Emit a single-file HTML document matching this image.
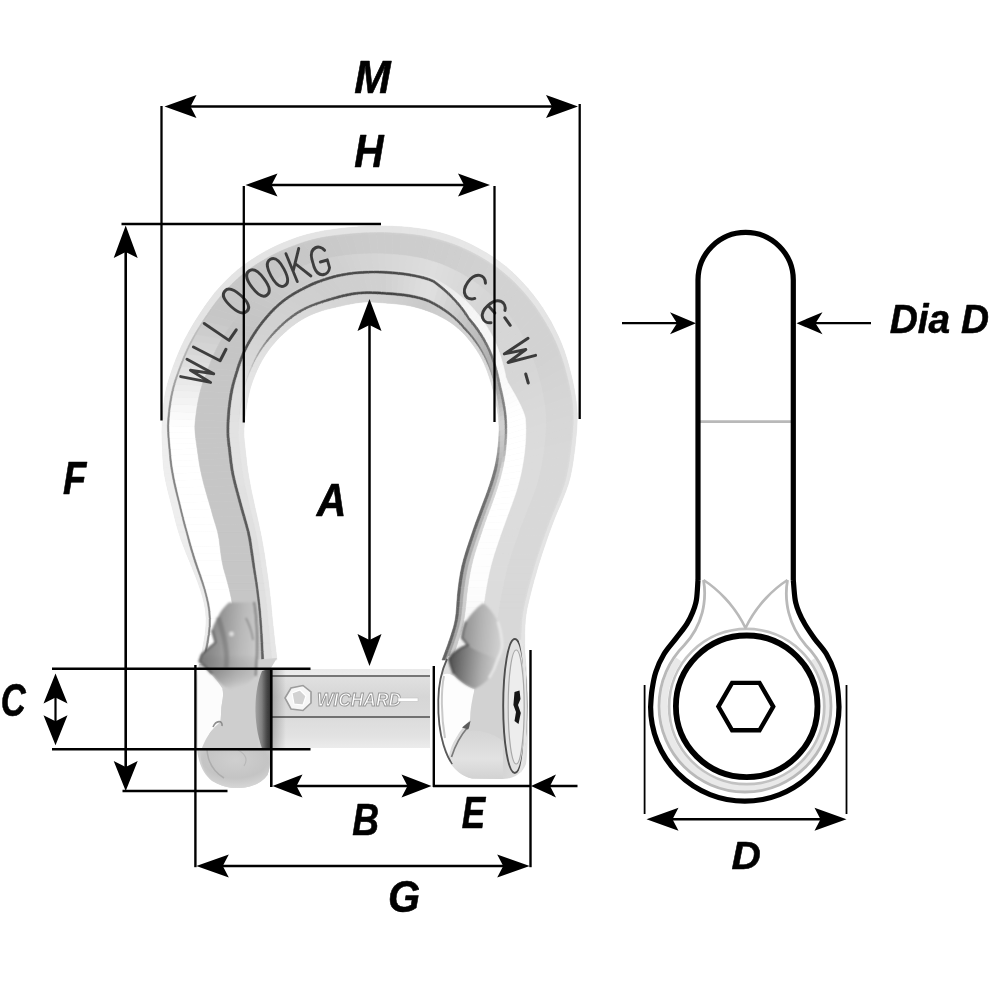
<!DOCTYPE html>
<html><head><meta charset="utf-8"><title>Bow shackle dimensions</title>
<style>
html,body{margin:0;padding:0;background:#fff;}
svg{display:block}
text{font-family:"Liberation Sans",sans-serif;}
</style></head>
<body>
<svg width="1000" height="1000" viewBox="0 0 1000 1000">
<rect width="1000" height="1000" fill="#fff"/>
<defs><filter id="b1" x="-5%" y="-5%" width="110%" height="110%"><feGaussianBlur stdDeviation="0.6"/></filter><filter id="b2" x="-20%" y="-20%" width="140%" height="140%"><feGaussianBlur stdDeviation="2"/></filter><filter id="b3" x="-20%" y="-20%" width="140%" height="140%"><feGaussianBlur stdDeviation="1.1"/></filter></defs>
<g id="pin"><defs><linearGradient id="pinA" x1="0" y1="0" x2="0" y2="1"><stop offset="0" stop-color="#e9e9e9"/><stop offset="0.07" stop-color="#ececec"/><stop offset="0.075" stop-color="#777"/><stop offset="0.097" stop-color="#777"/><stop offset="0.10" stop-color="#e0e0e0"/><stop offset="0.35" stop-color="#d6d6d6"/><stop offset="0.59" stop-color="#dadada"/><stop offset="0.595" stop-color="#707070"/><stop offset="0.622" stop-color="#707070"/><stop offset="0.625" stop-color="#dcdcdc"/><stop offset="0.85" stop-color="#e2e2e2"/><stop offset="1" stop-color="#ececec"/></linearGradient><linearGradient id="pinSh" x1="0" y1="0" x2="1" y2="0"><stop offset="0" stop-color="#000" stop-opacity=".22"/><stop offset="1" stop-color="#000" stop-opacity="0"/></linearGradient></defs>
<rect x="272" y="669" width="158" height="79" fill="url(#pinA)"/>
<rect x="272" y="669" width="14" height="79" fill="url(#pinSh)"/>
<g filter="url(#b1)">
<polygon points="285,698 291,688 303,685.5 311,692 311,703 303,710.5 291,709" fill="#f6f6f6" stroke="#9c9c9c" stroke-width="1.6"/>
<path d="M292,693 L300,690 L306,696 L303,705 L294,704 Z" fill="#d2d2d2" stroke="#fff" stroke-width="1.2"/>
<text x="317" y="705.5" font-size="17.5" font-weight="bold" font-style="italic" fill="#fff" stroke="#9a9a9a" stroke-width="1" textLength="84" lengthAdjust="spacingAndGlyphs">WICHARD</text>
<rect x="398" y="698" width="20" height="3.4" fill="#fff" stroke="#c4c4c4" stroke-width=".6"/>
</g></g>
<g id="bow" filter="url(#b1)"><polygon points="200.0,660.0 202.0,651.2 203.7,642.6 205.1,634.2 205.9,626.1 206.1,618.4 205.5,611.1 204.3,604.0 202.6,597.0 200.4,589.8 197.9,582.6 195.1,575.3 192.2,568.0 189.3,560.7 186.3,553.5 183.5,546.2 180.8,539.0 178.5,531.8 176.4,524.6 174.6,517.4 172.8,510.1 170.9,502.7 169.0,495.3 167.2,487.9 165.6,480.7 164.3,473.9 163.5,467.5 163.0,461.4 162.7,455.5 162.5,449.8 162.3,444.2 162.0,438.4 161.9,432.3 162.0,425.8 162.3,418.7 162.8,411.3 163.7,403.9 164.7,396.7 166.0,390.1 167.5,384.0 169.2,378.2 171.2,372.3 173.3,366.2 175.7,359.9 178.4,353.3 181.3,346.6 184.6,339.8 188.2,333.0 192.0,326.3 196.1,319.5 200.5,312.8 205.0,306.1 209.7,299.5 214.7,293.0 220.1,286.8 225.7,280.9 231.6,275.2 237.9,269.8 244.4,264.7 251.2,260.0 258.2,255.5 265.6,251.3 273.3,247.3 281.4,243.6 289.8,240.2 298.4,237.1 307.1,234.5 315.8,232.4 324.6,230.7 333.3,229.4 341.9,228.3 350.4,227.5 358.9,226.8 367.3,226.3 375.7,226.0 384.3,226.0 392.9,226.3 401.5,226.7 409.8,227.4 417.9,228.4 425.5,229.5 432.8,230.9 439.7,232.5 446.5,234.5 453.0,236.7 459.5,239.2 465.9,242.1 472.6,245.3 479.4,248.9 486.2,252.8 493.0,257.1 499.6,261.7 505.9,266.6 511.9,271.8 517.6,277.2 523.0,282.9 528.2,288.7 533.1,294.8 537.9,301.1 542.5,307.7 546.9,314.7 551.1,321.8 554.9,329.2 558.5,336.5 561.6,343.8 564.3,351.0 566.7,358.2 568.8,365.5 570.7,372.9 572.5,380.4 574.0,387.8 575.2,395.0 576.2,401.6 576.8,407.7 577.2,413.6 577.2,419.5 577.0,425.7 576.5,432.5 575.8,439.8 575.0,447.3 574.0,454.8 573.0,462.2 571.8,469.5 570.3,476.7 568.4,483.8 565.9,490.9 563.1,498.1 560.1,505.4 556.9,512.7 553.9,520.2 551.1,527.8 548.4,535.1 546.0,542.1 543.8,548.5 541.8,554.4 540.0,560.2 538.1,566.2 536.2,572.9 534.1,580.2 532.1,587.7 530.2,595.1 528.6,601.8 527.2,607.8 526.2,613.5 525.4,619.4 525.0,626.0 524.7,633.5 524.7,641.9 524.8,650.8 525.0,660.0 442.0,660.0 445.5,650.8 448.7,641.9 451.5,633.5 453.8,626.0 455.2,619.4 456.0,613.5 456.5,607.8 456.9,601.8 457.4,595.1 458.2,587.8 459.2,580.2 460.4,572.9 461.8,566.1 463.4,559.9 465.1,554.1 466.9,548.3 468.9,542.3 471.0,536.0 473.2,529.6 475.4,523.3 477.7,517.2 479.9,511.3 482.0,505.6 484.2,499.8 486.4,494.0 488.5,488.0 490.5,481.9 492.4,475.8 494.0,469.8 495.4,464.1 496.4,458.6 497.3,453.1 497.9,447.6 498.5,442.1 498.8,436.6 499.0,431.2 499.0,426.2 498.8,421.6 498.5,417.4 497.9,413.4 497.3,409.5 496.5,405.6 495.7,401.5 494.8,397.2 493.7,392.6 492.4,387.6 490.9,382.3 489.2,376.9 487.3,371.5 485.3,366.3 483.2,361.5 480.8,356.9 478.2,352.5 475.4,348.2 472.3,343.9 469.0,339.7 465.5,335.6 461.8,331.8 458.0,328.3 454.0,325.0 449.8,322.0 445.4,319.2 440.7,316.7 435.9,314.3 431.0,312.2 426.1,310.4 421.2,308.8 416.4,307.4 411.6,306.2 406.8,305.3 401.8,304.6 396.9,304.0 392.0,303.5 387.3,303.2 382.8,302.8 378.7,302.5 374.8,302.2 371.2,302.1 367.8,302.0 364.5,302.1 361.4,302.3 358.4,302.7 355.3,303.1 352.2,303.7 348.8,304.3 345.0,305.1 340.6,306.1 335.5,307.2 329.8,308.6 324.0,310.1 318.3,311.9 313.0,313.9 308.0,316.2 303.3,318.7 298.8,321.4 294.5,324.4 290.4,327.6 286.3,331.1 282.3,334.7 278.4,338.6 274.6,342.8 271.0,347.1 267.5,351.7 264.3,356.6 261.4,361.6 258.7,366.7 256.3,371.9 254.2,377.0 252.3,382.0 250.6,387.3 249.1,393.1 247.7,399.7 246.4,407.1 245.3,414.8 244.5,422.2 244.0,428.7 243.9,433.9 244.1,438.3 244.5,442.5 245.0,446.9 245.5,452.0 246.2,457.7 246.9,464.1 247.8,470.8 249.0,478.0 250.3,485.3 251.8,492.9 253.5,500.6 255.2,508.4 257.0,516.2 258.7,524.0 260.3,531.7 261.8,539.1 263.1,546.4 264.3,553.6 265.4,560.8 266.4,568.0 267.5,575.3 268.5,582.6 269.4,589.8 270.2,597.0 271.0,604.0 271.6,611.1 272.3,618.4 273.1,626.1 274.0,634.2 274.9,642.6 276.0,651.2 277.0,660.0" fill="#dcdcdc"/>
<path d="M200.0,660.0L203.1,660.0L205.0,651.2L202.0,651.2Z" fill="#ececec" stroke="#ececec" stroke-width=".5"/>
<path d="M203.1,660.0L205.4,660.0L207.2,651.2L205.0,651.2Z" fill="#878787" stroke="#878787" stroke-width=".5"/>
<path d="M205.4,660.0L232.3,660.0L233.0,651.2L207.2,651.2Z" fill="#ffffff" stroke="#ffffff" stroke-width=".5"/>
<path d="M232.3,660.0L260.8,660.0L260.5,651.2L233.0,651.2Z" fill="#c6c6c6" stroke="#c6c6c6" stroke-width=".5"/>
<path d="M260.8,660.0L261.6,660.0L261.2,651.2L260.5,651.2Z" fill="#c6c6c6" stroke="#c6c6c6" stroke-width=".5"/>
<path d="M261.6,660.0L264.3,660.0L263.8,651.2L261.2,651.2Z" fill="#5f5f5f" stroke="#5f5f5f" stroke-width=".5"/>
<path d="M264.3,660.0L271.6,660.0L270.8,651.2L263.8,651.2Z" fill="#e0e0e0" stroke="#e0e0e0" stroke-width=".5"/>
<path d="M271.6,660.0L272.4,660.0L271.5,651.2L270.8,651.2Z" fill="#e0e0e0" stroke="#e0e0e0" stroke-width=".5"/>
<path d="M272.4,660.0L277.0,660.0L276.0,651.2L271.5,651.2Z" fill="#e6e6e6" stroke="#e6e6e6" stroke-width=".5"/>
<path d="M202.0,651.2L205.0,651.2L206.7,642.6L203.7,642.6Z" fill="#ececec" stroke="#ececec" stroke-width=".5"/>
<path d="M205.0,651.2L207.2,651.2L208.9,642.6L206.7,642.6Z" fill="#878787" stroke="#878787" stroke-width=".5"/>
<path d="M207.2,651.2L233.0,651.2L233.6,642.6L208.9,642.6Z" fill="#ffffff" stroke="#ffffff" stroke-width=".5"/>
<path d="M233.0,651.2L260.5,651.2L260.2,642.6L233.6,642.6Z" fill="#c6c6c6" stroke="#c6c6c6" stroke-width=".5"/>
<path d="M260.5,651.2L261.2,651.2L260.9,642.6L260.2,642.6Z" fill="#c6c6c6" stroke="#c6c6c6" stroke-width=".5"/>
<path d="M261.2,651.2L263.8,651.2L263.4,642.6L260.9,642.6Z" fill="#5f5f5f" stroke="#5f5f5f" stroke-width=".5"/>
<path d="M263.8,651.2L270.8,651.2L270.0,642.6L263.4,642.6Z" fill="#e0e0e0" stroke="#e0e0e0" stroke-width=".5"/>
<path d="M270.8,651.2L271.5,651.2L270.7,642.6L270.0,642.6Z" fill="#e0e0e0" stroke="#e0e0e0" stroke-width=".5"/>
<path d="M271.5,651.2L276.0,651.2L274.9,642.6L270.7,642.6Z" fill="#e6e6e6" stroke="#e6e6e6" stroke-width=".5"/>
<path d="M203.7,642.6L206.7,642.6L208.1,634.2L205.1,634.2Z" fill="#ececec" stroke="#ececec" stroke-width=".5"/>
<path d="M206.7,642.6L208.9,642.6L210.2,634.2L208.1,634.2Z" fill="#878787" stroke="#878787" stroke-width=".5"/>
<path d="M208.9,642.6L233.6,642.6L234.0,634.2L210.2,634.2Z" fill="#ffffff" stroke="#ffffff" stroke-width=".5"/>
<path d="M233.6,642.6L260.2,642.6L259.8,634.2L234.0,634.2Z" fill="#c6c6c6" stroke="#c6c6c6" stroke-width=".5"/>
<path d="M260.2,642.6L260.9,642.6L260.5,634.2L259.8,634.2Z" fill="#c6c6c6" stroke="#c6c6c6" stroke-width=".5"/>
<path d="M260.9,642.6L263.4,642.6L262.9,634.2L260.5,634.2Z" fill="#5f5f5f" stroke="#5f5f5f" stroke-width=".5"/>
<path d="M263.4,642.6L270.0,642.6L269.2,634.2L262.9,634.2Z" fill="#e0e0e0" stroke="#e0e0e0" stroke-width=".5"/>
<path d="M270.0,642.6L270.7,642.6L269.9,634.2L269.2,634.2Z" fill="#e0e0e0" stroke="#e0e0e0" stroke-width=".5"/>
<path d="M270.7,642.6L274.9,642.6L274.0,634.2L269.9,634.2Z" fill="#e6e6e6" stroke="#e6e6e6" stroke-width=".5"/>
<path d="M205.1,634.2L208.1,634.2L209.0,626.1L205.9,626.1Z" fill="#ececec" stroke="#ececec" stroke-width=".5"/>
<path d="M208.1,634.2L210.2,634.2L211.0,626.1L209.0,626.1Z" fill="#878787" stroke="#878787" stroke-width=".5"/>
<path d="M210.2,634.2L234.0,634.2L234.2,626.1L211.0,626.1Z" fill="#ffffff" stroke="#ffffff" stroke-width=".5"/>
<path d="M234.0,634.2L259.8,634.2L259.3,626.1L234.2,626.1Z" fill="#c6c6c6" stroke="#c6c6c6" stroke-width=".5"/>
<path d="M259.8,634.2L260.5,634.2L260.0,626.1L259.3,626.1Z" fill="#c6c6c6" stroke="#c6c6c6" stroke-width=".5"/>
<path d="M260.5,634.2L262.9,634.2L262.4,626.1L260.0,626.1Z" fill="#5f5f5f" stroke="#5f5f5f" stroke-width=".5"/>
<path d="M262.9,634.2L269.2,634.2L268.4,626.1L262.4,626.1Z" fill="#e0e0e0" stroke="#e0e0e0" stroke-width=".5"/>
<path d="M269.2,634.2L269.9,634.2L269.1,626.1L268.4,626.1Z" fill="#e0e0e0" stroke="#e0e0e0" stroke-width=".5"/>
<path d="M269.9,634.2L274.0,634.2L273.1,626.1L269.1,626.1Z" fill="#e6e6e6" stroke="#e6e6e6" stroke-width=".5"/>
<path d="M205.9,626.1L209.0,626.1L209.1,618.4L206.1,618.4Z" fill="#ececec" stroke="#ececec" stroke-width=".5"/>
<path d="M209.0,626.1L211.0,626.1L211.1,618.4L209.1,618.4Z" fill="#878787" stroke="#878787" stroke-width=".5"/>
<path d="M211.0,626.1L234.2,626.1L233.9,618.4L211.1,618.4Z" fill="#ffffff" stroke="#ffffff" stroke-width=".5"/>
<path d="M234.2,626.1L259.3,626.1L258.8,618.4L233.9,618.4Z" fill="#c6c6c6" stroke="#c6c6c6" stroke-width=".5"/>
<path d="M259.3,626.1L260.0,626.1L259.5,618.4L258.8,618.4Z" fill="#c6c6c6" stroke="#c6c6c6" stroke-width=".5"/>
<path d="M260.0,626.1L262.4,626.1L261.8,618.4L259.5,618.4Z" fill="#5f5f5f" stroke="#5f5f5f" stroke-width=".5"/>
<path d="M262.4,626.1L268.4,626.1L267.7,618.4L261.8,618.4Z" fill="#e0e0e0" stroke="#e0e0e0" stroke-width=".5"/>
<path d="M268.4,626.1L269.1,626.1L268.4,618.4L267.7,618.4Z" fill="#e0e0e0" stroke="#e0e0e0" stroke-width=".5"/>
<path d="M269.1,626.1L273.1,626.1L272.3,618.4L268.4,618.4Z" fill="#e6e6e6" stroke="#e6e6e6" stroke-width=".5"/>
<path d="M206.1,618.4L209.1,618.4L208.6,611.1L205.5,611.1Z" fill="#ececec" stroke="#ececec" stroke-width=".5"/>
<path d="M209.1,618.4L211.1,618.4L210.6,611.1L208.6,611.1Z" fill="#878787" stroke="#878787" stroke-width=".5"/>
<path d="M211.1,618.4L233.9,618.4L233.3,611.1L210.6,611.1Z" fill="#ffffff" stroke="#ffffff" stroke-width=".5"/>
<path d="M233.9,618.4L258.8,618.4L258.2,611.1L233.3,611.1Z" fill="#c6c6c6" stroke="#c6c6c6" stroke-width=".5"/>
<path d="M258.8,618.4L259.5,618.4L258.9,611.1L258.2,611.1Z" fill="#c6c6c6" stroke="#c6c6c6" stroke-width=".5"/>
<path d="M259.5,618.4L261.8,618.4L261.2,611.1L258.9,611.1Z" fill="#5f5f5f" stroke="#5f5f5f" stroke-width=".5"/>
<path d="M261.8,618.4L267.7,618.4L267.0,611.1L261.2,611.1Z" fill="#e0e0e0" stroke="#e0e0e0" stroke-width=".5"/>
<path d="M267.7,618.4L268.4,618.4L267.7,611.1L267.0,611.1Z" fill="#e0e0e0" stroke="#e0e0e0" stroke-width=".5"/>
<path d="M268.4,618.4L272.3,618.4L271.6,611.1L267.7,611.1Z" fill="#e6e6e6" stroke="#e6e6e6" stroke-width=".5"/>
<path d="M205.5,611.1L208.6,611.1L207.5,604.0L204.3,604.0Z" fill="#ececec" stroke="#ececec" stroke-width=".5"/>
<path d="M208.6,611.1L210.6,611.1L209.5,604.0L207.5,604.0Z" fill="#878787" stroke="#878787" stroke-width=".5"/>
<path d="M210.6,611.1L233.3,611.1L232.3,604.0L209.5,604.0Z" fill="#ffffff" stroke="#ffffff" stroke-width=".5"/>
<path d="M233.3,611.1L258.2,611.1L257.5,604.0L232.3,604.0Z" fill="#c6c6c6" stroke="#c6c6c6" stroke-width=".5"/>
<path d="M258.2,611.1L258.9,611.1L258.2,604.0L257.5,604.0Z" fill="#c6c6c6" stroke="#c6c6c6" stroke-width=".5"/>
<path d="M258.9,611.1L261.2,611.1L260.5,604.0L258.2,604.0Z" fill="#5f5f5f" stroke="#5f5f5f" stroke-width=".5"/>
<path d="M261.2,611.1L267.0,611.1L266.3,604.0L260.5,604.0Z" fill="#e0e0e0" stroke="#e0e0e0" stroke-width=".5"/>
<path d="M267.0,611.1L267.7,611.1L267.0,604.0L266.3,604.0Z" fill="#e0e0e0" stroke="#e0e0e0" stroke-width=".5"/>
<path d="M267.7,611.1L271.6,611.1L271.0,604.0L267.0,604.0Z" fill="#e6e6e6" stroke="#e6e6e6" stroke-width=".5"/>
<path d="M204.3,604.0L207.5,604.0L205.9,597.0L202.6,597.0Z" fill="#ececec" stroke="#ececec" stroke-width=".5"/>
<path d="M207.5,604.0L209.5,604.0L207.9,597.0L205.9,597.0Z" fill="#878787" stroke="#878787" stroke-width=".5"/>
<path d="M209.5,604.0L232.3,604.0L231.0,597.0L207.9,597.0Z" fill="#ffffff" stroke="#ffffff" stroke-width=".5"/>
<path d="M232.3,604.0L257.5,604.0L256.7,597.0L231.0,597.0Z" fill="#c6c6c6" stroke="#c6c6c6" stroke-width=".5"/>
<path d="M257.5,604.0L258.2,604.0L257.3,597.0L256.7,597.0Z" fill="#c6c6c6" stroke="#c6c6c6" stroke-width=".5"/>
<path d="M258.2,604.0L260.5,604.0L259.7,597.0L257.3,597.0Z" fill="#5f5f5f" stroke="#5f5f5f" stroke-width=".5"/>
<path d="M260.5,604.0L266.3,604.0L265.5,597.0L259.7,597.0Z" fill="#e0e0e0" stroke="#e0e0e0" stroke-width=".5"/>
<path d="M266.3,604.0L267.0,604.0L266.2,597.0L265.5,597.0Z" fill="#e0e0e0" stroke="#e0e0e0" stroke-width=".5"/>
<path d="M267.0,604.0L271.0,604.0L270.2,597.0L266.2,597.0Z" fill="#e6e6e6" stroke="#e6e6e6" stroke-width=".5"/>
<path d="M202.6,597.0L205.9,597.0L204.0,589.8L200.4,589.8Z" fill="#ececec" stroke="#ececec" stroke-width=".5"/>
<path d="M205.9,597.0L207.9,597.0L206.0,589.8L204.0,589.8Z" fill="#878787" stroke="#878787" stroke-width=".5"/>
<path d="M207.9,597.0L231.0,597.0L229.4,589.8L206.0,589.8Z" fill="#ffffff" stroke="#ffffff" stroke-width=".5"/>
<path d="M231.0,597.0L256.7,597.0L255.7,589.8L229.4,589.8Z" fill="#c6c6c6" stroke="#c6c6c6" stroke-width=".5"/>
<path d="M256.7,597.0L257.3,597.0L256.4,589.8L255.7,589.8Z" fill="#c6c6c6" stroke="#c6c6c6" stroke-width=".5"/>
<path d="M257.3,597.0L259.7,597.0L258.8,589.8L256.4,589.8Z" fill="#5f5f5f" stroke="#5f5f5f" stroke-width=".5"/>
<path d="M259.7,597.0L265.5,597.0L264.6,589.8L258.8,589.8Z" fill="#e0e0e0" stroke="#e0e0e0" stroke-width=".5"/>
<path d="M265.5,597.0L266.2,597.0L265.3,589.8L264.6,589.8Z" fill="#e0e0e0" stroke="#e0e0e0" stroke-width=".5"/>
<path d="M266.2,597.0L270.2,597.0L269.4,589.8L265.3,589.8Z" fill="#e6e6e6" stroke="#e6e6e6" stroke-width=".5"/>
<path d="M200.4,589.8L204.0,589.8L201.7,582.6L197.9,582.6Z" fill="#ececec" stroke="#ececec" stroke-width=".5"/>
<path d="M204.0,589.8L206.0,589.8L203.8,582.6L201.7,582.6Z" fill="#868686" stroke="#868686" stroke-width=".5"/>
<path d="M206.0,589.8L229.4,589.8L227.5,582.6L203.8,582.6Z" fill="#ffffff" stroke="#ffffff" stroke-width=".5"/>
<path d="M229.4,589.8L255.7,589.8L254.7,582.6L227.5,582.6Z" fill="#c6c6c6" stroke="#c6c6c6" stroke-width=".5"/>
<path d="M255.7,589.8L256.4,589.8L255.4,582.6L254.7,582.6Z" fill="#c6c6c6" stroke="#c6c6c6" stroke-width=".5"/>
<path d="M256.4,589.8L258.8,589.8L257.8,582.6L255.4,582.6Z" fill="#5e5e5e" stroke="#5e5e5e" stroke-width=".5"/>
<path d="M258.8,589.8L264.6,589.8L263.5,582.6L257.8,582.6Z" fill="#e0e0e0" stroke="#e0e0e0" stroke-width=".5"/>
<path d="M264.6,589.8L265.3,589.8L264.2,582.6L263.5,582.6Z" fill="#e0e0e0" stroke="#e0e0e0" stroke-width=".5"/>
<path d="M265.3,589.8L269.4,589.8L268.5,582.6L264.2,582.6Z" fill="#e6e6e6" stroke="#e6e6e6" stroke-width=".5"/>
<path d="M197.9,582.6L201.7,582.6L199.2,575.3L195.1,575.3Z" fill="#ececec" stroke="#ececec" stroke-width=".5"/>
<path d="M201.7,582.6L203.8,582.6L201.4,575.3L199.2,575.3Z" fill="#848484" stroke="#848484" stroke-width=".5"/>
<path d="M203.8,582.6L227.5,582.6L225.5,575.3L201.4,575.3Z" fill="#ffffff" stroke="#ffffff" stroke-width=".5"/>
<path d="M227.5,582.6L254.7,582.6L253.5,575.3L225.5,575.3Z" fill="#c6c6c6" stroke="#c6c6c6" stroke-width=".5"/>
<path d="M254.7,582.6L255.4,582.6L254.2,575.3L253.5,575.3Z" fill="#c6c6c6" stroke="#c6c6c6" stroke-width=".5"/>
<path d="M255.4,582.6L257.8,582.6L256.7,575.3L254.2,575.3Z" fill="#5d5d5d" stroke="#5d5d5d" stroke-width=".5"/>
<path d="M257.8,582.6L263.5,582.6L262.4,575.3L256.7,575.3Z" fill="#e0e0e0" stroke="#e0e0e0" stroke-width=".5"/>
<path d="M263.5,582.6L264.2,582.6L263.1,575.3L262.4,575.3Z" fill="#e0e0e0" stroke="#e0e0e0" stroke-width=".5"/>
<path d="M264.2,582.6L268.5,582.6L267.5,575.3L263.1,575.3Z" fill="#e6e6e6" stroke="#e6e6e6" stroke-width=".5"/>
<path d="M195.1,575.3L199.2,575.3L196.6,568.0L192.2,568.0Z" fill="#ececec" stroke="#ececec" stroke-width=".5"/>
<path d="M199.2,575.3L201.4,575.3L198.8,568.0L196.6,568.0Z" fill="#838383" stroke="#838383" stroke-width=".5"/>
<path d="M201.4,575.3L225.5,575.3L223.4,568.0L198.8,568.0Z" fill="#ffffff" stroke="#ffffff" stroke-width=".5"/>
<path d="M225.5,575.3L253.5,575.3L252.3,568.0L223.4,568.0Z" fill="#c6c6c6" stroke="#c6c6c6" stroke-width=".5"/>
<path d="M253.5,575.3L254.2,575.3L253.0,568.0L252.3,568.0Z" fill="#c6c6c6" stroke="#c6c6c6" stroke-width=".5"/>
<path d="M254.2,575.3L256.7,575.3L255.6,568.0L253.0,568.0Z" fill="#5d5d5d" stroke="#5d5d5d" stroke-width=".5"/>
<path d="M256.7,575.3L262.4,575.3L261.2,568.0L255.6,568.0Z" fill="#e0e0e0" stroke="#e0e0e0" stroke-width=".5"/>
<path d="M262.4,575.3L263.1,575.3L262.0,568.0L261.2,568.0Z" fill="#e0e0e0" stroke="#e0e0e0" stroke-width=".5"/>
<path d="M263.1,575.3L267.5,575.3L266.4,568.0L262.0,568.0Z" fill="#e6e6e6" stroke="#e6e6e6" stroke-width=".5"/>
<path d="M192.2,568.0L196.6,568.0L194.1,560.7L189.3,560.7Z" fill="#ececec" stroke="#ececec" stroke-width=".5"/>
<path d="M196.6,568.0L198.8,568.0L196.4,560.8L194.1,560.7Z" fill="#828282" stroke="#828282" stroke-width=".5"/>
<path d="M198.8,568.0L223.4,568.0L221.9,560.8L196.4,560.8Z" fill="#ffffff" stroke="#ffffff" stroke-width=".5"/>
<path d="M223.4,568.0L252.3,568.0L251.1,560.8L221.9,560.8Z" fill="#c6c6c6" stroke="#c6c6c6" stroke-width=".5"/>
<path d="M252.3,568.0L253.0,568.0L251.9,560.8L251.1,560.8Z" fill="#c6c6c6" stroke="#c6c6c6" stroke-width=".5"/>
<path d="M253.0,568.0L255.6,568.0L254.6,560.8L251.9,560.8Z" fill="#5c5c5c" stroke="#5c5c5c" stroke-width=".5"/>
<path d="M255.6,568.0L261.2,568.0L260.2,560.8L254.6,560.8Z" fill="#e0e0e0" stroke="#e0e0e0" stroke-width=".5"/>
<path d="M261.2,568.0L262.0,568.0L260.9,560.8L260.2,560.8Z" fill="#e0e0e0" stroke="#e0e0e0" stroke-width=".5"/>
<path d="M262.0,568.0L266.4,568.0L265.4,560.8L260.9,560.8Z" fill="#e6e6e6" stroke="#e6e6e6" stroke-width=".5"/>
<path d="M189.3,560.7L194.1,560.7L191.9,553.5L186.3,553.5Z" fill="#ededed" stroke="#ededed" stroke-width=".5"/>
<path d="M194.1,560.7L196.4,560.8L194.1,553.5L191.9,553.5Z" fill="#828282" stroke="#828282" stroke-width=".5"/>
<path d="M196.4,560.8L221.9,560.8L220.8,553.5L194.1,553.5Z" fill="#ffffff" stroke="#ffffff" stroke-width=".5"/>
<path d="M221.9,560.8L251.1,560.8L250.1,553.6L220.8,553.5Z" fill="#c6c6c6" stroke="#c6c6c6" stroke-width=".5"/>
<path d="M251.1,560.8L251.9,560.8L250.8,553.6L250.1,553.6Z" fill="#c6c6c6" stroke="#c6c6c6" stroke-width=".5"/>
<path d="M251.9,560.8L254.6,560.8L253.6,553.6L250.8,553.6Z" fill="#5b5b5b" stroke="#5b5b5b" stroke-width=".5"/>
<path d="M254.6,560.8L260.2,560.8L259.1,553.6L253.6,553.6Z" fill="#e0e0e0" stroke="#e0e0e0" stroke-width=".5"/>
<path d="M260.2,560.8L260.9,560.8L259.9,553.6L259.1,553.6Z" fill="#e0e0e0" stroke="#e0e0e0" stroke-width=".5"/>
<path d="M260.9,560.8L265.4,560.8L264.3,553.6L259.9,553.6Z" fill="#e6e6e6" stroke="#e6e6e6" stroke-width=".5"/>
<path d="M186.3,553.5L191.9,553.5L189.7,546.2L183.5,546.2Z" fill="#ededed" stroke="#ededed" stroke-width=".5"/>
<path d="M191.9,553.5L194.1,553.5L191.9,546.2L189.7,546.2Z" fill="#828282" stroke="#828282" stroke-width=".5"/>
<path d="M194.1,553.5L220.8,553.5L219.9,546.3L191.9,546.2Z" fill="#ffffff" stroke="#ffffff" stroke-width=".5"/>
<path d="M220.8,553.5L250.1,553.6L249.0,546.4L219.9,546.3Z" fill="#c6c6c6" stroke="#c6c6c6" stroke-width=".5"/>
<path d="M250.1,553.6L250.8,553.6L249.8,546.4L249.0,546.4Z" fill="#c6c6c6" stroke="#c6c6c6" stroke-width=".5"/>
<path d="M250.8,553.6L253.6,553.6L252.5,546.4L249.8,546.4Z" fill="#5b5b5b" stroke="#5b5b5b" stroke-width=".5"/>
<path d="M253.6,553.6L259.1,553.6L258.0,546.4L252.5,546.4Z" fill="#e0e0e0" stroke="#e0e0e0" stroke-width=".5"/>
<path d="M259.1,553.6L259.9,553.6L258.8,546.4L258.0,546.4Z" fill="#e0e0e0" stroke="#e0e0e0" stroke-width=".5"/>
<path d="M259.9,553.6L264.3,553.6L263.1,546.4L258.8,546.4Z" fill="#e6e6e6" stroke="#e6e6e6" stroke-width=".5"/>
<path d="M183.5,546.2L189.7,546.2L187.8,539.0L180.8,539.0Z" fill="#ededed" stroke="#ededed" stroke-width=".5"/>
<path d="M189.7,546.2L191.9,546.2L189.9,539.0L187.8,539.0Z" fill="#828282" stroke="#828282" stroke-width=".5"/>
<path d="M191.9,546.2L219.9,546.3L219.0,539.1L189.9,539.0Z" fill="#ffffff" stroke="#ffffff" stroke-width=".5"/>
<path d="M219.9,546.3L249.0,546.4L247.8,539.1L219.0,539.1Z" fill="#c6c6c6" stroke="#c6c6c6" stroke-width=".5"/>
<path d="M249.0,546.4L249.8,546.4L248.6,539.1L247.8,539.1Z" fill="#c6c6c6" stroke="#c6c6c6" stroke-width=".5"/>
<path d="M249.8,546.4L252.5,546.4L251.5,539.1L248.6,539.1Z" fill="#5b5b5b" stroke="#5b5b5b" stroke-width=".5"/>
<path d="M252.5,546.4L258.0,546.4L256.8,539.1L251.5,539.1Z" fill="#e0e0e0" stroke="#e0e0e0" stroke-width=".5"/>
<path d="M258.0,546.4L258.8,546.4L257.6,539.1L256.8,539.1Z" fill="#e0e0e0" stroke="#e0e0e0" stroke-width=".5"/>
<path d="M258.8,546.4L263.1,546.4L261.8,539.1L257.6,539.1Z" fill="#e6e6e6" stroke="#e6e6e6" stroke-width=".5"/>
<path d="M180.8,539.0L187.8,539.0L185.9,531.8L178.5,531.8Z" fill="#eeeeee" stroke="#eeeeee" stroke-width=".5"/>
<path d="M187.8,539.0L189.9,539.0L187.9,531.8L185.9,531.8Z" fill="#828282" stroke="#828282" stroke-width=".5"/>
<path d="M189.9,539.0L219.0,539.1L217.6,531.7L187.9,531.8Z" fill="#ffffff" stroke="#ffffff" stroke-width=".5"/>
<path d="M219.0,539.1L247.8,539.1L246.2,531.7L217.6,531.7Z" fill="#c6c6c6" stroke="#c6c6c6" stroke-width=".5"/>
<path d="M247.8,539.1L248.6,539.1L247.1,531.7L246.2,531.7Z" fill="#c6c6c6" stroke="#c6c6c6" stroke-width=".5"/>
<path d="M248.6,539.1L251.5,539.1L249.9,531.7L247.1,531.7Z" fill="#5a5a5a" stroke="#5a5a5a" stroke-width=".5"/>
<path d="M251.5,539.1L256.8,539.1L255.4,531.7L249.9,531.7Z" fill="#e0e0e0" stroke="#e0e0e0" stroke-width=".5"/>
<path d="M256.8,539.1L257.6,539.1L256.2,531.7L255.4,531.7Z" fill="#e0e0e0" stroke="#e0e0e0" stroke-width=".5"/>
<path d="M257.6,539.1L261.8,539.1L260.3,531.7L256.2,531.7Z" fill="#e6e6e6" stroke="#e6e6e6" stroke-width=".5"/>
<path d="M178.5,531.8L185.9,531.8L183.8,524.6L176.4,524.6Z" fill="#eeeeee" stroke="#eeeeee" stroke-width=".5"/>
<path d="M185.9,531.8L187.9,531.8L185.9,524.5L183.8,524.6Z" fill="#828282" stroke="#828282" stroke-width=".5"/>
<path d="M187.9,531.8L217.6,531.7L215.4,524.3L185.9,524.5Z" fill="#ffffff" stroke="#ffffff" stroke-width=".5"/>
<path d="M217.6,531.7L246.2,531.7L244.1,524.1L215.4,524.3Z" fill="#c6c6c6" stroke="#c6c6c6" stroke-width=".5"/>
<path d="M246.2,531.7L247.1,531.7L245.0,524.1L244.1,524.1Z" fill="#c6c6c6" stroke="#c6c6c6" stroke-width=".5"/>
<path d="M247.1,531.7L249.9,531.7L247.8,524.1L245.0,524.1Z" fill="#5a5a5a" stroke="#5a5a5a" stroke-width=".5"/>
<path d="M249.9,531.7L255.4,531.7L253.6,524.0L247.8,524.1Z" fill="#e0e0e0" stroke="#e0e0e0" stroke-width=".5"/>
<path d="M255.4,531.7L256.2,531.7L254.4,524.0L253.6,524.0Z" fill="#e0e0e0" stroke="#e0e0e0" stroke-width=".5"/>
<path d="M256.2,531.7L260.3,531.7L258.7,524.0L254.4,524.0Z" fill="#e6e6e6" stroke="#e6e6e6" stroke-width=".5"/>
<path d="M176.4,524.6L183.8,524.6L182.0,517.3L174.6,517.4Z" fill="#eeeeee" stroke="#eeeeee" stroke-width=".5"/>
<path d="M183.8,524.6L185.9,524.5L184.0,517.3L182.0,517.3Z" fill="#828282" stroke="#828282" stroke-width=".5"/>
<path d="M185.9,524.5L215.4,524.3L213.1,516.9L184.0,517.3Z" fill="#ffffff" stroke="#ffffff" stroke-width=".5"/>
<path d="M215.4,524.3L244.1,524.1L242.0,516.4L213.1,516.9Z" fill="#c6c6c6" stroke="#c6c6c6" stroke-width=".5"/>
<path d="M244.1,524.1L245.0,524.1L242.8,516.4L242.0,516.4Z" fill="#c6c6c6" stroke="#c6c6c6" stroke-width=".5"/>
<path d="M245.0,524.1L247.8,524.1L245.7,516.4L242.8,516.4Z" fill="#5a5a5a" stroke="#5a5a5a" stroke-width=".5"/>
<path d="M247.8,524.1L253.6,524.0L251.8,516.3L245.7,516.4Z" fill="#e0e0e0" stroke="#e0e0e0" stroke-width=".5"/>
<path d="M253.6,524.0L254.4,524.0L252.6,516.3L251.8,516.3Z" fill="#e0e0e0" stroke="#e0e0e0" stroke-width=".5"/>
<path d="M254.4,524.0L258.7,524.0L257.0,516.2L252.6,516.3Z" fill="#e6e6e6" stroke="#e6e6e6" stroke-width=".5"/>
<path d="M174.6,517.4L182.0,517.3L180.2,510.0L172.8,510.1Z" fill="#eeeeee" stroke="#eeeeee" stroke-width=".5"/>
<path d="M182.0,517.3L184.0,517.3L182.2,509.9L180.2,510.0Z" fill="#828282" stroke="#828282" stroke-width=".5"/>
<path d="M184.0,517.3L213.1,516.9L211.0,509.3L182.2,509.9Z" fill="#ffffff" stroke="#ffffff" stroke-width=".5"/>
<path d="M213.1,516.9L242.0,516.4L239.8,508.7L211.0,509.3Z" fill="#c6c6c6" stroke="#c6c6c6" stroke-width=".5"/>
<path d="M242.0,516.4L242.8,516.4L240.6,508.7L239.8,508.7Z" fill="#c6c6c6" stroke="#c6c6c6" stroke-width=".5"/>
<path d="M242.8,516.4L245.7,516.4L243.5,508.7L240.6,508.7Z" fill="#5a5a5a" stroke="#5a5a5a" stroke-width=".5"/>
<path d="M245.7,516.4L251.8,516.3L249.9,508.5L243.5,508.7Z" fill="#e1e1e1" stroke="#e1e1e1" stroke-width=".5"/>
<path d="M251.8,516.3L252.6,516.3L250.7,508.5L249.9,508.5Z" fill="#e1e1e1" stroke="#e1e1e1" stroke-width=".5"/>
<path d="M252.6,516.3L257.0,516.2L255.2,508.4L250.7,508.5Z" fill="#e6e6e6" stroke="#e6e6e6" stroke-width=".5"/>
<path d="M172.8,510.1L180.2,510.0L178.4,502.5L170.9,502.7Z" fill="#eeeeee" stroke="#eeeeee" stroke-width=".5"/>
<path d="M180.2,510.0L182.2,509.9L180.4,502.5L178.4,502.5Z" fill="#828282" stroke="#828282" stroke-width=".5"/>
<path d="M182.2,509.9L211.0,509.3L208.8,501.8L180.4,502.5Z" fill="#ffffff" stroke="#ffffff" stroke-width=".5"/>
<path d="M211.0,509.3L239.8,508.7L237.7,501.0L208.8,501.8Z" fill="#c6c6c6" stroke="#c6c6c6" stroke-width=".5"/>
<path d="M239.8,508.7L240.6,508.7L238.5,501.0L237.7,501.0Z" fill="#c6c6c6" stroke="#c6c6c6" stroke-width=".5"/>
<path d="M240.6,508.7L243.5,508.7L241.4,500.9L238.5,501.0Z" fill="#5a5a5a" stroke="#5a5a5a" stroke-width=".5"/>
<path d="M243.5,508.7L249.9,508.5L248.1,500.8L241.4,500.9Z" fill="#e1e1e1" stroke="#e1e1e1" stroke-width=".5"/>
<path d="M249.9,508.5L250.7,508.5L248.9,500.7L248.1,500.8Z" fill="#e1e1e1" stroke="#e1e1e1" stroke-width=".5"/>
<path d="M250.7,508.5L255.2,508.4L253.5,500.6L248.9,500.7Z" fill="#e6e6e6" stroke="#e6e6e6" stroke-width=".5"/>
<path d="M170.9,502.7L178.4,502.5L176.5,495.1L169.0,495.3Z" fill="#eeeeee" stroke="#eeeeee" stroke-width=".5"/>
<path d="M178.4,502.5L180.4,502.5L178.5,495.0L176.5,495.1Z" fill="#828282" stroke="#828282" stroke-width=".5"/>
<path d="M180.4,502.5L208.8,501.8L206.6,494.2L178.5,495.0Z" fill="#ffffff" stroke="#ffffff" stroke-width=".5"/>
<path d="M208.8,501.8L237.7,501.0L235.6,493.4L206.6,494.2Z" fill="#c6c6c6" stroke="#c6c6c6" stroke-width=".5"/>
<path d="M237.7,501.0L238.5,501.0L236.4,493.3L235.6,493.4Z" fill="#c6c6c6" stroke="#c6c6c6" stroke-width=".5"/>
<path d="M238.5,501.0L241.4,500.9L239.3,493.3L236.4,493.3Z" fill="#5a5a5a" stroke="#5a5a5a" stroke-width=".5"/>
<path d="M241.4,500.9L248.1,500.8L246.3,493.1L239.3,493.3Z" fill="#e1e1e1" stroke="#e1e1e1" stroke-width=".5"/>
<path d="M248.1,500.8L248.9,500.7L247.1,493.0L246.3,493.1Z" fill="#e1e1e1" stroke="#e1e1e1" stroke-width=".5"/>
<path d="M248.9,500.7L253.5,500.6L251.8,492.9L247.1,493.0Z" fill="#e6e6e6" stroke="#e6e6e6" stroke-width=".5"/>
<path d="M169.0,495.3L176.5,495.1L174.7,487.7L167.2,487.9Z" fill="#eeeeee" stroke="#eeeeee" stroke-width=".5"/>
<path d="M176.5,495.1L178.5,495.0L176.8,487.6L174.7,487.7Z" fill="#828282" stroke="#828282" stroke-width=".5"/>
<path d="M178.5,495.0L206.6,494.2L204.5,486.8L176.8,487.6Z" fill="#ffffff" stroke="#ffffff" stroke-width=".5"/>
<path d="M206.6,494.2L235.6,493.4L233.6,485.8L204.5,486.8Z" fill="#c6c6c6" stroke="#c6c6c6" stroke-width=".5"/>
<path d="M235.6,493.4L236.4,493.3L234.4,485.8L233.6,485.8Z" fill="#c6c6c6" stroke="#c6c6c6" stroke-width=".5"/>
<path d="M236.4,493.3L239.3,493.3L237.3,485.7L234.4,485.8Z" fill="#5a5a5a" stroke="#5a5a5a" stroke-width=".5"/>
<path d="M239.3,493.3L246.3,493.1L244.7,485.5L237.3,485.7Z" fill="#e1e1e1" stroke="#e1e1e1" stroke-width=".5"/>
<path d="M246.3,493.1L247.1,493.0L245.5,485.5L244.7,485.5Z" fill="#e1e1e1" stroke="#e1e1e1" stroke-width=".5"/>
<path d="M247.1,493.0L251.8,492.9L250.3,485.3L245.5,485.5Z" fill="#e6e6e6" stroke="#e6e6e6" stroke-width=".5"/>
<path d="M167.2,487.9L174.7,487.7L173.1,480.5L165.6,480.7Z" fill="#eeeeee" stroke="#eeeeee" stroke-width=".5"/>
<path d="M174.7,487.7L176.8,487.6L175.2,480.4L173.1,480.5Z" fill="#828282" stroke="#828282" stroke-width=".5"/>
<path d="M176.8,487.6L204.5,486.8L202.6,479.5L175.2,480.4Z" fill="#ffffff" stroke="#ffffff" stroke-width=".5"/>
<path d="M204.5,486.8L233.6,485.8L231.8,478.5L202.6,479.5Z" fill="#c6c6c6" stroke="#c6c6c6" stroke-width=".5"/>
<path d="M233.6,485.8L234.4,485.8L232.6,478.5L231.8,478.5Z" fill="#c6c6c6" stroke="#c6c6c6" stroke-width=".5"/>
<path d="M234.4,485.8L237.3,485.7L235.5,478.4L232.6,478.5Z" fill="#5a5a5a" stroke="#5a5a5a" stroke-width=".5"/>
<path d="M237.3,485.7L244.7,485.5L243.2,478.1L235.5,478.4Z" fill="#e2e2e2" stroke="#e2e2e2" stroke-width=".5"/>
<path d="M244.7,485.5L245.5,485.5L244.0,478.1L243.2,478.1Z" fill="#e2e2e2" stroke="#e2e2e2" stroke-width=".5"/>
<path d="M245.5,485.5L250.3,485.3L249.0,478.0L244.0,478.1Z" fill="#e6e6e6" stroke="#e6e6e6" stroke-width=".5"/>
<path d="M165.6,480.7L173.1,480.5L171.8,473.6L164.3,473.9Z" fill="#eeeeee" stroke="#eeeeee" stroke-width=".5"/>
<path d="M173.1,480.5L175.2,480.4L173.9,473.5L171.8,473.6Z" fill="#828282" stroke="#828282" stroke-width=".5"/>
<path d="M175.2,480.4L202.6,479.5L201.0,472.5L173.9,473.5Z" fill="#ffffff" stroke="#ffffff" stroke-width=".5"/>
<path d="M202.6,479.5L231.8,478.5L230.3,471.5L201.0,472.5Z" fill="#c6c6c6" stroke="#c6c6c6" stroke-width=".5"/>
<path d="M231.8,478.5L232.6,478.5L231.1,471.4L230.3,471.5Z" fill="#c6c6c6" stroke="#c6c6c6" stroke-width=".5"/>
<path d="M232.6,478.5L235.5,478.4L234.0,471.3L231.1,471.4Z" fill="#5a5a5a" stroke="#5a5a5a" stroke-width=".5"/>
<path d="M235.5,478.4L243.2,478.1L242.0,471.0L234.0,471.3Z" fill="#e2e2e2" stroke="#e2e2e2" stroke-width=".5"/>
<path d="M243.2,478.1L244.0,478.1L242.8,471.0L242.0,471.0Z" fill="#e2e2e2" stroke="#e2e2e2" stroke-width=".5"/>
<path d="M244.0,478.1L249.0,478.0L247.8,470.8L242.8,471.0Z" fill="#e6e6e6" stroke="#e6e6e6" stroke-width=".5"/>
<path d="M164.3,473.9L171.8,473.6L170.7,467.2L163.5,467.5Z" fill="#eeeeee" stroke="#eeeeee" stroke-width=".5"/>
<path d="M171.8,473.6L173.9,473.5L172.8,467.1L170.7,467.2Z" fill="#828282" stroke="#828282" stroke-width=".5"/>
<path d="M173.9,473.5L201.0,472.5L199.7,466.0L172.8,467.1Z" fill="#ffffff" stroke="#ffffff" stroke-width=".5"/>
<path d="M201.0,472.5L230.3,471.5L229.3,464.8L199.7,466.0Z" fill="#c6c6c6" stroke="#c6c6c6" stroke-width=".5"/>
<path d="M230.3,471.5L231.1,471.4L230.1,464.7L229.3,464.8Z" fill="#c6c6c6" stroke="#c6c6c6" stroke-width=".5"/>
<path d="M231.1,471.4L234.0,471.3L233.0,464.6L230.1,464.7Z" fill="#5a5a5a" stroke="#5a5a5a" stroke-width=".5"/>
<path d="M234.0,471.3L242.0,471.0L241.1,464.3L233.0,464.6Z" fill="#e2e2e2" stroke="#e2e2e2" stroke-width=".5"/>
<path d="M242.0,471.0L242.8,471.0L241.9,464.3L241.1,464.3Z" fill="#e2e2e2" stroke="#e2e2e2" stroke-width=".5"/>
<path d="M242.8,471.0L247.8,470.8L246.9,464.1L241.9,464.3Z" fill="#e6e6e6" stroke="#e6e6e6" stroke-width=".5"/>
<path d="M163.5,467.5L170.7,467.2L169.9,461.1L163.0,461.4Z" fill="#eeeeee" stroke="#eeeeee" stroke-width=".5"/>
<path d="M170.7,467.2L172.8,467.1L172.0,461.0L169.9,461.1Z" fill="#828282" stroke="#828282" stroke-width=".5"/>
<path d="M172.8,467.1L199.7,466.0L198.7,459.8L172.0,461.0Z" fill="#ffffff" stroke="#ffffff" stroke-width=".5"/>
<path d="M199.7,466.0L229.3,464.8L228.5,458.5L198.7,459.8Z" fill="#c6c6c6" stroke="#c6c6c6" stroke-width=".5"/>
<path d="M229.3,464.8L230.1,464.7L229.3,458.5L228.5,458.5Z" fill="#c6c6c6" stroke="#c6c6c6" stroke-width=".5"/>
<path d="M230.1,464.7L233.0,464.6L232.2,458.3L229.3,458.5Z" fill="#5a5a5a" stroke="#5a5a5a" stroke-width=".5"/>
<path d="M233.0,464.6L241.1,464.3L240.3,458.0L232.2,458.3Z" fill="#e2e2e2" stroke="#e2e2e2" stroke-width=".5"/>
<path d="M241.1,464.3L241.9,464.3L241.2,457.9L240.3,458.0Z" fill="#e2e2e2" stroke="#e2e2e2" stroke-width=".5"/>
<path d="M241.9,464.3L246.9,464.1L246.2,457.7L241.2,457.9Z" fill="#e6e6e6" stroke="#e6e6e6" stroke-width=".5"/>
<path d="M163.0,461.4L169.9,461.1L169.4,455.3L162.7,455.5Z" fill="#eeeeee" stroke="#eeeeee" stroke-width=".5"/>
<path d="M169.9,461.1L172.0,461.0L171.4,455.2L169.4,455.3Z" fill="#828282" stroke="#828282" stroke-width=".5"/>
<path d="M172.0,461.0L198.7,459.8L197.9,454.0L171.4,455.2Z" fill="#ffffff" stroke="#ffffff" stroke-width=".5"/>
<path d="M198.7,459.8L228.5,458.5L227.8,452.7L197.9,454.0Z" fill="#c6c6c6" stroke="#c6c6c6" stroke-width=".5"/>
<path d="M228.5,458.5L229.3,458.5L228.7,452.7L227.8,452.7Z" fill="#c6c6c6" stroke="#c6c6c6" stroke-width=".5"/>
<path d="M229.3,458.5L232.2,458.3L231.6,452.6L228.7,452.7Z" fill="#5a5a5a" stroke="#5a5a5a" stroke-width=".5"/>
<path d="M232.2,458.3L240.3,458.0L239.7,452.2L231.6,452.6Z" fill="#e2e2e2" stroke="#e2e2e2" stroke-width=".5"/>
<path d="M240.3,458.0L241.2,457.9L240.6,452.2L239.7,452.2Z" fill="#e2e2e2" stroke="#e2e2e2" stroke-width=".5"/>
<path d="M241.2,457.9L246.2,457.7L245.5,452.0L240.6,452.2Z" fill="#e6e6e6" stroke="#e6e6e6" stroke-width=".5"/>
<path d="M162.7,455.5L169.4,455.3L168.9,449.6L162.5,449.8Z" fill="#eeeeee" stroke="#eeeeee" stroke-width=".5"/>
<path d="M169.4,455.3L171.4,455.2L170.9,449.5L168.9,449.6Z" fill="#828282" stroke="#828282" stroke-width=".5"/>
<path d="M171.4,455.2L197.9,454.0L197.1,448.6L170.9,449.5Z" fill="#ffffff" stroke="#ffffff" stroke-width=".5"/>
<path d="M197.9,454.0L227.8,452.7L227.2,447.5L197.1,448.6Z" fill="#c6c6c6" stroke="#c6c6c6" stroke-width=".5"/>
<path d="M227.8,452.7L228.7,452.7L228.1,447.5L227.2,447.5Z" fill="#c6c6c6" stroke="#c6c6c6" stroke-width=".5"/>
<path d="M228.7,452.7L231.6,452.6L231.0,447.4L228.1,447.5Z" fill="#5a5a5a" stroke="#5a5a5a" stroke-width=".5"/>
<path d="M231.6,452.6L239.7,452.2L239.2,447.1L231.0,447.4Z" fill="#e2e2e2" stroke="#e2e2e2" stroke-width=".5"/>
<path d="M239.7,452.2L240.6,452.2L240.0,447.0L239.2,447.1Z" fill="#e2e2e2" stroke="#e2e2e2" stroke-width=".5"/>
<path d="M240.6,452.2L245.5,452.0L245.0,446.9L240.0,447.0Z" fill="#e6e6e6" stroke="#e6e6e6" stroke-width=".5"/>
<path d="M162.5,449.8L168.9,449.6L168.4,444.0L162.3,444.2Z" fill="#eeeeee" stroke="#eeeeee" stroke-width=".5"/>
<path d="M168.9,449.6L170.9,449.5L170.4,444.0L168.4,444.0Z" fill="#828282" stroke="#828282" stroke-width=".5"/>
<path d="M170.9,449.5L197.1,448.6L196.4,443.5L170.4,444.0Z" fill="#ffffff" stroke="#ffffff" stroke-width=".5"/>
<path d="M197.1,448.6L227.2,447.5L226.7,442.8L196.4,443.5Z" fill="#c6c6c6" stroke="#c6c6c6" stroke-width=".5"/>
<path d="M227.2,447.5L228.1,447.5L227.5,442.8L226.7,442.8Z" fill="#c6c6c6" stroke="#c6c6c6" stroke-width=".5"/>
<path d="M228.1,447.5L231.0,447.4L230.4,442.8L227.5,442.8Z" fill="#5a5a5a" stroke="#5a5a5a" stroke-width=".5"/>
<path d="M231.0,447.4L239.2,447.1L238.7,442.6L230.4,442.8Z" fill="#e2e2e2" stroke="#e2e2e2" stroke-width=".5"/>
<path d="M239.2,447.1L240.0,447.0L239.5,442.6L238.7,442.6Z" fill="#e2e2e2" stroke="#e2e2e2" stroke-width=".5"/>
<path d="M240.0,447.0L245.0,446.9L244.5,442.5L239.5,442.6Z" fill="#e6e6e6" stroke="#e6e6e6" stroke-width=".5"/>
<path d="M162.3,444.2L168.4,444.0L167.9,438.4L162.0,438.4Z" fill="#eeeeee" stroke="#eeeeee" stroke-width=".5"/>
<path d="M168.4,444.0L170.4,444.0L169.9,438.4L167.9,438.4Z" fill="#828282" stroke="#828282" stroke-width=".5"/>
<path d="M170.4,444.0L196.4,443.5L195.7,438.4L169.9,438.4Z" fill="#ffffff" stroke="#ffffff" stroke-width=".5"/>
<path d="M196.4,443.5L226.7,442.8L226.2,438.3L195.7,438.4Z" fill="#c6c6c6" stroke="#c6c6c6" stroke-width=".5"/>
<path d="M226.7,442.8L227.5,442.8L227.0,438.3L226.2,438.3Z" fill="#c6c6c6" stroke="#c6c6c6" stroke-width=".5"/>
<path d="M227.5,442.8L230.4,442.8L229.9,438.3L227.0,438.3Z" fill="#5a5a5a" stroke="#5a5a5a" stroke-width=".5"/>
<path d="M230.4,442.8L238.7,442.6L238.3,438.3L229.9,438.3Z" fill="#e2e2e2" stroke="#e2e2e2" stroke-width=".5"/>
<path d="M238.7,442.6L239.5,442.6L239.1,438.3L238.3,438.3Z" fill="#e2e2e2" stroke="#e2e2e2" stroke-width=".5"/>
<path d="M239.5,442.6L244.5,442.5L244.1,438.3L239.1,438.3Z" fill="#e6e6e6" stroke="#e6e6e6" stroke-width=".5"/>
<path d="M162.0,438.4L167.9,438.4L167.5,432.4L161.9,432.3Z" fill="#eeeeee" stroke="#eeeeee" stroke-width=".5"/>
<path d="M167.9,438.4L169.9,438.4L169.6,432.4L167.5,432.4Z" fill="#828282" stroke="#828282" stroke-width=".5"/>
<path d="M169.9,438.4L195.7,438.4L195.1,432.9L169.6,432.4Z" fill="#ffffff" stroke="#ffffff" stroke-width=".5"/>
<path d="M195.7,438.4L226.2,438.3L225.9,433.5L195.1,432.9Z" fill="#c6c6c6" stroke="#c6c6c6" stroke-width=".5"/>
<path d="M226.2,438.3L227.0,438.3L226.8,433.6L225.9,433.5Z" fill="#c6c6c6" stroke="#c6c6c6" stroke-width=".5"/>
<path d="M227.0,438.3L229.9,438.3L229.6,433.6L226.8,433.6Z" fill="#5a5a5a" stroke="#5a5a5a" stroke-width=".5"/>
<path d="M229.9,438.3L238.3,438.3L238.1,433.8L229.6,433.6Z" fill="#e2e2e2" stroke="#e2e2e2" stroke-width=".5"/>
<path d="M238.3,438.3L239.1,438.3L238.9,433.8L238.1,433.8Z" fill="#e2e2e2" stroke="#e2e2e2" stroke-width=".5"/>
<path d="M239.1,438.3L244.1,438.3L243.9,433.9L238.9,433.8Z" fill="#e6e6e6" stroke="#e6e6e6" stroke-width=".5"/>
<path d="M161.9,432.3L167.5,432.4L167.3,425.9L162.0,425.8Z" fill="#eeeeee" stroke="#eeeeee" stroke-width=".5"/>
<path d="M167.5,432.4L169.6,432.4L169.4,426.0L167.3,425.9Z" fill="#828282" stroke="#828282" stroke-width=".5"/>
<path d="M169.6,432.4L195.1,432.9L194.8,426.9L169.4,426.0Z" fill="#ffffff" stroke="#ffffff" stroke-width=".5"/>
<path d="M195.1,432.9L225.9,433.5L225.9,428.0L194.8,426.9Z" fill="#c6c6c6" stroke="#c6c6c6" stroke-width=".5"/>
<path d="M225.9,433.5L226.8,433.6L226.8,428.0L225.9,428.0Z" fill="#c6c6c6" stroke="#c6c6c6" stroke-width=".5"/>
<path d="M226.8,433.6L229.6,433.6L229.6,428.1L226.8,428.0Z" fill="#5a5a5a" stroke="#5a5a5a" stroke-width=".5"/>
<path d="M229.6,433.6L238.1,433.8L238.2,428.5L229.6,428.1Z" fill="#e2e2e2" stroke="#e2e2e2" stroke-width=".5"/>
<path d="M238.1,433.8L238.9,433.8L239.0,428.5L238.2,428.5Z" fill="#e2e2e2" stroke="#e2e2e2" stroke-width=".5"/>
<path d="M238.9,433.8L243.9,433.9L244.0,428.7L239.0,428.5Z" fill="#e6e6e6" stroke="#e6e6e6" stroke-width=".5"/>
<path d="M162.0,425.8L167.3,425.9L167.7,418.9L162.3,418.7Z" fill="#eeeeee" stroke="#eeeeee" stroke-width=".5"/>
<path d="M167.3,425.9L169.4,426.0L169.8,419.0L167.7,418.9Z" fill="#848484" stroke="#848484" stroke-width=".5"/>
<path d="M169.4,426.0L194.8,426.9L195.3,420.1L169.8,419.0Z" fill="#fdfdfd" stroke="#fdfdfd" stroke-width=".5"/>
<path d="M194.8,426.9L225.9,428.0L226.1,421.4L195.3,420.1Z" fill="#c6c6c6" stroke="#c6c6c6" stroke-width=".5"/>
<path d="M225.9,428.0L226.8,428.0L226.9,421.4L226.1,421.4Z" fill="#c6c6c6" stroke="#c6c6c6" stroke-width=".5"/>
<path d="M226.8,428.0L229.6,428.1L229.8,421.6L226.9,421.4Z" fill="#5a5a5a" stroke="#5a5a5a" stroke-width=".5"/>
<path d="M229.6,428.1L238.2,428.5L238.6,421.9L229.8,421.6Z" fill="#e2e2e2" stroke="#e2e2e2" stroke-width=".5"/>
<path d="M238.2,428.5L239.0,428.5L239.4,422.0L238.6,421.9Z" fill="#e1e1e1" stroke="#e1e1e1" stroke-width=".5"/>
<path d="M239.0,428.5L244.0,428.7L244.5,422.2L239.4,422.0Z" fill="#e6e6e6" stroke="#e6e6e6" stroke-width=".5"/>
<path d="M162.3,418.7L167.7,418.9L168.4,411.5L162.8,411.3Z" fill="#ededed" stroke="#ededed" stroke-width=".5"/>
<path d="M167.7,418.9L169.8,419.0L170.4,411.6L168.4,411.5Z" fill="#898989" stroke="#898989" stroke-width=".5"/>
<path d="M169.8,419.0L195.3,420.1L196.2,412.7L170.4,411.6Z" fill="#fafafa" stroke="#fafafa" stroke-width=".5"/>
<path d="M195.3,420.1L226.1,421.4L226.6,414.0L196.2,412.7Z" fill="#c6c6c6" stroke="#c6c6c6" stroke-width=".5"/>
<path d="M226.1,421.4L226.9,421.4L227.4,414.1L226.6,414.0Z" fill="#c6c6c6" stroke="#c6c6c6" stroke-width=".5"/>
<path d="M226.9,421.4L229.8,421.6L230.3,414.2L227.4,414.1Z" fill="#595959" stroke="#595959" stroke-width=".5"/>
<path d="M229.8,421.6L238.6,421.9L239.3,414.6L230.3,414.2Z" fill="#e1e1e1" stroke="#e1e1e1" stroke-width=".5"/>
<path d="M238.6,421.9L239.4,422.0L240.1,414.6L239.3,414.6Z" fill="#dedede" stroke="#dedede" stroke-width=".5"/>
<path d="M239.4,422.0L244.5,422.2L245.3,414.8L240.1,414.6Z" fill="#e6e6e6" stroke="#e6e6e6" stroke-width=".5"/>
<path d="M162.8,411.3L168.4,411.5L169.3,404.1L163.7,403.9Z" fill="#ececec" stroke="#ececec" stroke-width=".5"/>
<path d="M168.4,411.5L170.4,411.6L171.4,404.2L169.3,404.1Z" fill="#8e8e8e" stroke="#8e8e8e" stroke-width=".5"/>
<path d="M170.4,411.6L196.2,412.7L197.3,405.2L171.4,404.2Z" fill="#f7f7f7" stroke="#f7f7f7" stroke-width=".5"/>
<path d="M196.2,412.7L226.6,414.0L227.3,406.4L197.3,405.2Z" fill="#c6c6c6" stroke="#c6c6c6" stroke-width=".5"/>
<path d="M226.6,414.0L227.4,414.1L228.1,406.4L227.3,406.4Z" fill="#c6c6c6" stroke="#c6c6c6" stroke-width=".5"/>
<path d="M227.4,414.1L230.3,414.2L231.0,406.5L228.1,406.4Z" fill="#595959" stroke="#595959" stroke-width=".5"/>
<path d="M230.3,414.2L239.3,414.6L240.3,406.9L231.0,406.5Z" fill="#e0e0e0" stroke="#e0e0e0" stroke-width=".5"/>
<path d="M239.3,414.6L240.1,414.6L241.1,406.9L240.3,406.9Z" fill="#dcdcdc" stroke="#dcdcdc" stroke-width=".5"/>
<path d="M240.1,414.6L245.3,414.8L246.4,407.1L241.1,406.9Z" fill="#e5e5e5" stroke="#e5e5e5" stroke-width=".5"/>
<path d="M163.7,403.9L169.3,404.1L170.5,396.9L164.7,396.7Z" fill="#ececec" stroke="#ececec" stroke-width=".5"/>
<path d="M169.3,404.1L171.4,404.2L172.6,397.0L170.5,396.9Z" fill="#929292" stroke="#929292" stroke-width=".5"/>
<path d="M171.4,404.2L197.3,405.2L198.7,397.9L172.6,397.0Z" fill="#f3f3f3" stroke="#f3f3f3" stroke-width=".5"/>
<path d="M197.3,405.2L227.3,406.4L228.2,399.0L198.7,397.9Z" fill="#c6c6c6" stroke="#c6c6c6" stroke-width=".5"/>
<path d="M227.3,406.4L228.1,406.4L229.1,399.1L228.2,399.0Z" fill="#c6c6c6" stroke="#c6c6c6" stroke-width=".5"/>
<path d="M228.1,406.4L231.0,406.5L232.0,399.2L229.1,399.1Z" fill="#585858" stroke="#585858" stroke-width=".5"/>
<path d="M231.0,406.5L240.3,406.9L241.5,399.5L232.0,399.2Z" fill="#e0e0e0" stroke="#e0e0e0" stroke-width=".5"/>
<path d="M240.3,406.9L241.1,406.9L242.3,399.5L241.5,399.5Z" fill="#d9d9d9" stroke="#d9d9d9" stroke-width=".5"/>
<path d="M241.1,406.9L246.4,407.1L247.7,399.7L242.3,399.5Z" fill="#e5e5e5" stroke="#e5e5e5" stroke-width=".5"/>
<path d="M164.7,396.7L170.5,396.9L171.9,390.3L166.0,390.1Z" fill="#ebebeb" stroke="#ebebeb" stroke-width=".5"/>
<path d="M170.5,396.9L172.6,397.0L174.0,390.4L171.9,390.3Z" fill="#979797" stroke="#979797" stroke-width=".5"/>
<path d="M172.6,397.0L198.7,397.9L200.2,391.4L174.0,390.4Z" fill="#f0f0f0" stroke="#f0f0f0" stroke-width=".5"/>
<path d="M198.7,397.9L228.2,399.0L229.3,392.4L200.2,391.4Z" fill="#c6c6c6" stroke="#c6c6c6" stroke-width=".5"/>
<path d="M228.2,399.0L229.1,399.1L230.1,392.4L229.3,392.4Z" fill="#c6c6c6" stroke="#c6c6c6" stroke-width=".5"/>
<path d="M229.1,399.1L232.0,399.2L233.1,392.5L230.1,392.4Z" fill="#575757" stroke="#575757" stroke-width=".5"/>
<path d="M232.0,399.2L241.5,399.5L242.8,392.9L233.1,392.5Z" fill="#dfdfdf" stroke="#dfdfdf" stroke-width=".5"/>
<path d="M241.5,399.5L242.3,399.5L243.6,392.9L242.8,392.9Z" fill="#d7d7d7" stroke="#d7d7d7" stroke-width=".5"/>
<path d="M242.3,399.5L247.7,399.7L249.1,393.1L243.6,392.9Z" fill="#e5e5e5" stroke="#e5e5e5" stroke-width=".5"/>
<path d="M166.0,390.1L171.9,390.3L173.5,384.3L167.5,384.0Z" fill="#eaeaea" stroke="#eaeaea" stroke-width=".5"/>
<path d="M171.9,390.3L174.0,390.4L175.6,384.3L173.5,384.3Z" fill="#9c9c9c" stroke="#9c9c9c" stroke-width=".5"/>
<path d="M174.0,390.4L200.2,391.4L201.9,385.4L175.6,384.3Z" fill="#ececec" stroke="#ececec" stroke-width=".5"/>
<path d="M200.2,391.4L229.3,392.4L230.5,386.5L201.9,385.4Z" fill="#c6c6c6" stroke="#c6c6c6" stroke-width=".5"/>
<path d="M229.3,392.4L230.1,392.4L231.4,386.5L230.5,386.5Z" fill="#c6c6c6" stroke="#c6c6c6" stroke-width=".5"/>
<path d="M230.1,392.4L233.1,392.5L234.3,386.7L231.4,386.5Z" fill="#575757" stroke="#575757" stroke-width=".5"/>
<path d="M233.1,392.5L242.8,392.9L244.2,387.1L234.3,386.7Z" fill="#dedede" stroke="#dedede" stroke-width=".5"/>
<path d="M242.8,392.9L243.6,392.9L245.0,387.1L244.2,387.1Z" fill="#d4d4d4" stroke="#d4d4d4" stroke-width=".5"/>
<path d="M243.6,392.9L249.1,393.1L250.6,387.3L245.0,387.1Z" fill="#e5e5e5" stroke="#e5e5e5" stroke-width=".5"/>
<path d="M167.5,384.0L173.5,384.3L175.3,378.5L169.2,378.2Z" fill="#e9e9e9" stroke="#e9e9e9" stroke-width=".5"/>
<path d="M173.5,384.3L175.6,384.3L177.4,378.6L175.3,378.5Z" fill="#a1a1a1" stroke="#a1a1a1" stroke-width=".5"/>
<path d="M175.6,384.3L201.9,385.4L203.8,379.8L177.4,378.6Z" fill="#e9e9e9" stroke="#e9e9e9" stroke-width=".5"/>
<path d="M201.9,385.4L230.5,386.5L231.9,381.1L203.8,379.8Z" fill="#c6c6c6" stroke="#c6c6c6" stroke-width=".5"/>
<path d="M230.5,386.5L231.4,386.5L232.8,381.1L231.9,381.1Z" fill="#c6c6c6" stroke="#c6c6c6" stroke-width=".5"/>
<path d="M231.4,386.5L234.3,386.7L235.7,381.2L232.8,381.1Z" fill="#565656" stroke="#565656" stroke-width=".5"/>
<path d="M234.3,386.7L244.2,387.1L245.8,381.7L235.7,381.2Z" fill="#dddddd" stroke="#dddddd" stroke-width=".5"/>
<path d="M244.2,387.1L245.0,387.1L246.6,381.7L245.8,381.7Z" fill="#d2d2d2" stroke="#d2d2d2" stroke-width=".5"/>
<path d="M245.0,387.1L250.6,387.3L252.3,382.0L246.6,381.7Z" fill="#e4e4e4" stroke="#e4e4e4" stroke-width=".5"/>
<path d="M169.2,378.2L175.3,378.5L177.4,372.7L171.2,372.3Z" fill="#e9e9e9" stroke="#e9e9e9" stroke-width=".5"/>
<path d="M175.3,378.5L177.4,378.6L179.4,372.8L177.4,372.7Z" fill="#a6a6a6" stroke="#a6a6a6" stroke-width=".5"/>
<path d="M177.4,378.6L203.8,379.8L206.0,374.3L179.4,372.8Z" fill="#e5e5e5" stroke="#e5e5e5" stroke-width=".5"/>
<path d="M203.8,379.8L231.9,381.1L233.6,375.8L206.0,374.3Z" fill="#c6c6c6" stroke="#c6c6c6" stroke-width=".5"/>
<path d="M231.9,381.1L232.8,381.1L234.4,375.9L233.6,375.8Z" fill="#c6c6c6" stroke="#c6c6c6" stroke-width=".5"/>
<path d="M232.8,381.1L235.7,381.2L237.3,376.0L234.4,375.9Z" fill="#565656" stroke="#565656" stroke-width=".5"/>
<path d="M235.7,381.2L245.8,381.7L247.6,376.6L237.3,376.0Z" fill="#dddddd" stroke="#dddddd" stroke-width=".5"/>
<path d="M245.8,381.7L246.6,381.7L248.4,376.6L247.6,376.6Z" fill="#cfcfcf" stroke="#cfcfcf" stroke-width=".5"/>
<path d="M246.6,381.7L252.3,382.0L254.2,377.0L248.4,376.6Z" fill="#e4e4e4" stroke="#e4e4e4" stroke-width=".5"/>
<path d="M171.2,372.3L177.4,372.7L179.6,366.7L173.3,366.2Z" fill="#e8e8e8" stroke="#e8e8e8" stroke-width=".5"/>
<path d="M177.4,372.7L179.4,372.8L181.6,366.8L179.6,366.7Z" fill="#aaaaaa" stroke="#aaaaaa" stroke-width=".5"/>
<path d="M179.4,372.8L206.0,374.3L208.1,368.6L181.6,366.8Z" fill="#e2e2e2" stroke="#e2e2e2" stroke-width=".5"/>
<path d="M206.0,374.3L233.6,375.8L235.2,370.4L208.1,368.6Z" fill="#c6c6c6" stroke="#c6c6c6" stroke-width=".5"/>
<path d="M233.6,375.8L234.4,375.9L236.0,370.5L235.2,370.4Z" fill="#c6c6c6" stroke="#c6c6c6" stroke-width=".5"/>
<path d="M234.4,375.9L237.3,376.0L238.9,370.7L236.0,370.5Z" fill="#555555" stroke="#555555" stroke-width=".5"/>
<path d="M237.3,376.0L247.6,376.6L249.5,371.4L238.9,370.7Z" fill="#dcdcdc" stroke="#dcdcdc" stroke-width=".5"/>
<path d="M247.6,376.6L248.4,376.6L250.5,371.5L249.5,371.4Z" fill="#cacaca" stroke="#cacaca" stroke-width=".5"/>
<path d="M248.4,376.6L254.2,377.0L256.3,371.9L250.5,371.5Z" fill="#e4e4e4" stroke="#e4e4e4" stroke-width=".5"/>
<path d="M173.3,366.2L179.6,366.7L182.0,360.4L175.7,359.9Z" fill="#e7e7e7" stroke="#e7e7e7" stroke-width=".5"/>
<path d="M179.6,366.7L181.6,366.8L184.0,360.6L182.0,360.4Z" fill="#adadad" stroke="#adadad" stroke-width=".5"/>
<path d="M181.6,366.8L208.1,368.6L210.3,362.7L184.0,360.6Z" fill="#dedede" stroke="#dedede" stroke-width=".5"/>
<path d="M208.1,368.6L235.2,370.4L236.9,364.9L210.3,362.7Z" fill="#c6c6c6" stroke="#c6c6c6" stroke-width=".5"/>
<path d="M235.2,370.4L236.0,370.5L237.7,365.0L236.9,364.9Z" fill="#c6c6c6" stroke="#c6c6c6" stroke-width=".5"/>
<path d="M236.0,370.5L238.9,370.7L240.6,365.2L237.7,365.0Z" fill="#545454" stroke="#545454" stroke-width=".5"/>
<path d="M238.9,370.7L249.5,371.4L251.6,366.2L240.6,365.2Z" fill="#dbdbdb" stroke="#dbdbdb" stroke-width=".5"/>
<path d="M249.5,371.4L250.5,371.5L252.8,366.3L251.6,366.2Z" fill="#c2c2c2" stroke="#c2c2c2" stroke-width=".5"/>
<path d="M250.5,371.5L256.3,371.9L258.7,366.7L252.8,366.3Z" fill="#e3e3e3" stroke="#e3e3e3" stroke-width=".5"/>
<path d="M175.7,359.9L182.0,360.4L184.7,353.9L178.4,353.3Z" fill="#e7e7e7" stroke="#e7e7e7" stroke-width=".5"/>
<path d="M182.0,360.4L184.0,360.6L186.7,354.1L184.7,353.9Z" fill="#b1b1b1" stroke="#b1b1b1" stroke-width=".5"/>
<path d="M184.0,360.6L210.3,362.7L212.7,356.7L186.7,354.1Z" fill="#dbdbdb" stroke="#dbdbdb" stroke-width=".5"/>
<path d="M210.3,362.7L236.9,364.9L238.8,359.3L212.7,356.7Z" fill="#c5c5c5" stroke="#c5c5c5" stroke-width=".5"/>
<path d="M236.9,364.9L237.7,365.0L239.7,359.4L238.8,359.3Z" fill="#c6c6c6" stroke="#c6c6c6" stroke-width=".5"/>
<path d="M237.7,365.0L240.6,365.2L242.6,359.7L239.7,359.4Z" fill="#545454" stroke="#545454" stroke-width=".5"/>
<path d="M240.6,365.2L251.6,366.2L254.0,360.9L242.6,359.7Z" fill="#d9d9d9" stroke="#d9d9d9" stroke-width=".5"/>
<path d="M251.6,366.2L252.8,366.3L255.3,361.0L254.0,360.9Z" fill="#b7b7b7" stroke="#b7b7b7" stroke-width=".5"/>
<path d="M252.8,366.3L258.7,366.7L261.4,361.6L255.3,361.0Z" fill="#e2e2e2" stroke="#e2e2e2" stroke-width=".5"/>
<path d="M178.4,353.3L184.7,353.9L187.7,347.3L181.3,346.6Z" fill="#e6e6e6" stroke="#e6e6e6" stroke-width=".5"/>
<path d="M184.7,353.9L186.7,354.1L189.6,347.6L187.7,347.3Z" fill="#b4b4b4" stroke="#b4b4b4" stroke-width=".5"/>
<path d="M186.7,354.1L212.7,356.7L215.5,350.7L189.6,347.6Z" fill="#d7d7d7" stroke="#d7d7d7" stroke-width=".5"/>
<path d="M212.7,356.7L238.8,359.3L241.1,353.8L215.5,350.7Z" fill="#c5c5c5" stroke="#c5c5c5" stroke-width=".5"/>
<path d="M238.8,359.3L239.7,359.4L241.9,353.9L241.1,353.8Z" fill="#c6c6c6" stroke="#c6c6c6" stroke-width=".5"/>
<path d="M239.7,359.4L242.6,359.7L244.8,354.2L241.9,353.9Z" fill="#535353" stroke="#535353" stroke-width=".5"/>
<path d="M242.6,359.7L254.0,360.9L256.6,355.7L244.8,354.2Z" fill="#d8d8d8" stroke="#d8d8d8" stroke-width=".5"/>
<path d="M254.0,360.9L255.3,361.0L258.2,355.8L256.6,355.7Z" fill="#adadad" stroke="#adadad" stroke-width=".5"/>
<path d="M255.3,361.0L261.4,361.6L264.3,356.6L258.2,355.8Z" fill="#e2e2e2" stroke="#e2e2e2" stroke-width=".5"/>
<path d="M181.3,346.6L187.7,347.3L191.0,340.7L184.6,339.8Z" fill="#e6e6e6" stroke="#e6e6e6" stroke-width=".5"/>
<path d="M187.7,347.3L189.6,347.6L192.9,341.0L191.0,340.7Z" fill="#b7b7b7" stroke="#b7b7b7" stroke-width=".5"/>
<path d="M189.6,347.6L215.5,350.7L218.5,344.7L192.9,341.0Z" fill="#d4d4d4" stroke="#d4d4d4" stroke-width=".5"/>
<path d="M215.5,350.7L241.1,353.8L243.6,348.3L218.5,344.7Z" fill="#c5c5c5" stroke="#c5c5c5" stroke-width=".5"/>
<path d="M241.1,353.8L241.9,353.9L244.4,348.4L243.6,348.3Z" fill="#c6c6c6" stroke="#c6c6c6" stroke-width=".5"/>
<path d="M241.9,353.9L244.8,354.2L247.3,348.8L244.4,348.4Z" fill="#535353" stroke="#535353" stroke-width=".5"/>
<path d="M244.8,354.2L256.6,355.7L259.5,350.6L247.3,348.8Z" fill="#d7d7d7" stroke="#d7d7d7" stroke-width=".5"/>
<path d="M256.6,355.7L258.2,355.8L261.3,350.8L259.5,350.6Z" fill="#a3a3a3" stroke="#a3a3a3" stroke-width=".5"/>
<path d="M258.2,355.8L264.3,356.6L267.5,351.7L261.3,350.8Z" fill="#e1e1e1" stroke="#e1e1e1" stroke-width=".5"/>
<path d="M184.6,339.8L191.0,340.7L194.7,334.1L188.2,333.0Z" fill="#e6e6e6" stroke="#e6e6e6" stroke-width=".5"/>
<path d="M191.0,340.7L192.9,341.0L196.4,334.4L194.7,334.1Z" fill="#bababa" stroke="#bababa" stroke-width=".5"/>
<path d="M192.9,341.0L218.5,344.7L221.8,338.8L196.4,334.4Z" fill="#d1d1d1" stroke="#d1d1d1" stroke-width=".5"/>
<path d="M218.5,344.7L243.6,348.3L246.3,342.9L221.8,338.8Z" fill="#c5c5c5" stroke="#c5c5c5" stroke-width=".5"/>
<path d="M243.6,348.3L244.4,348.4L247.2,343.1L246.3,342.9Z" fill="#c6c6c6" stroke="#c6c6c6" stroke-width=".5"/>
<path d="M244.4,348.4L247.3,348.8L250.1,343.6L247.2,343.1Z" fill="#525252" stroke="#525252" stroke-width=".5"/>
<path d="M247.3,348.8L259.5,350.6L262.7,345.7L250.1,343.6Z" fill="#d6d6d6" stroke="#d6d6d6" stroke-width=".5"/>
<path d="M259.5,350.6L261.3,350.8L264.6,346.1L262.7,345.7Z" fill="#999999" stroke="#999999" stroke-width=".5"/>
<path d="M261.3,350.8L267.5,351.7L271.0,347.1L264.6,346.1Z" fill="#e0e0e0" stroke="#e0e0e0" stroke-width=".5"/>
<path d="M188.2,333.0L194.7,334.1L198.6,327.6L192.0,326.3Z" fill="#e5e5e5" stroke="#e5e5e5" stroke-width=".5"/>
<path d="M194.7,334.1L196.4,334.4L200.3,327.9L198.6,327.6Z" fill="#bdbdbd" stroke="#bdbdbd" stroke-width=".5"/>
<path d="M196.4,334.4L221.8,338.8L225.4,332.9L200.3,327.9Z" fill="#cdcdcd" stroke="#cdcdcd" stroke-width=".5"/>
<path d="M221.8,338.8L246.3,342.9L249.4,337.7L225.4,332.9Z" fill="#c5c5c5" stroke="#c5c5c5" stroke-width=".5"/>
<path d="M246.3,342.9L247.2,343.1L250.2,337.9L249.4,337.7Z" fill="#c6c6c6" stroke="#c6c6c6" stroke-width=".5"/>
<path d="M247.2,343.1L250.1,343.6L253.1,338.5L250.2,337.9Z" fill="#515151" stroke="#515151" stroke-width=".5"/>
<path d="M250.1,343.6L262.7,345.7L266.0,341.0L253.1,338.5Z" fill="#d5d5d5" stroke="#d5d5d5" stroke-width=".5"/>
<path d="M262.7,345.7L264.6,346.1L268.2,341.5L266.0,341.0Z" fill="#8e8e8e" stroke="#8e8e8e" stroke-width=".5"/>
<path d="M264.6,346.1L271.0,347.1L274.6,342.8L268.2,341.5Z" fill="#e0e0e0" stroke="#e0e0e0" stroke-width=".5"/>
<path d="M192.0,326.3L198.6,327.6L202.7,321.0L196.1,319.5Z" fill="#e5e5e5" stroke="#e5e5e5" stroke-width=".5"/>
<path d="M198.6,327.6L200.3,327.9L204.4,321.4L202.7,321.0Z" fill="#c0c0c0" stroke="#c0c0c0" stroke-width=".5"/>
<path d="M200.3,327.9L225.4,332.9L229.2,327.2L204.4,321.4Z" fill="#cacaca" stroke="#cacaca" stroke-width=".5"/>
<path d="M225.4,332.9L249.4,337.7L252.5,332.6L229.2,327.2Z" fill="#c4c4c4" stroke="#c4c4c4" stroke-width=".5"/>
<path d="M249.4,337.7L250.2,337.9L253.4,332.8L252.5,332.6Z" fill="#c6c6c6" stroke="#c6c6c6" stroke-width=".5"/>
<path d="M250.2,337.9L253.1,338.5L256.3,333.5L253.4,332.8Z" fill="#515151" stroke="#515151" stroke-width=".5"/>
<path d="M253.1,338.5L266.0,341.0L269.6,336.6L256.3,333.5Z" fill="#d3d3d3" stroke="#d3d3d3" stroke-width=".5"/>
<path d="M266.0,341.0L268.2,341.5L271.9,337.1L269.6,336.6Z" fill="#848484" stroke="#848484" stroke-width=".5"/>
<path d="M268.2,341.5L274.6,342.8L278.4,338.6L271.9,337.1Z" fill="#dfdfdf" stroke="#dfdfdf" stroke-width=".5"/>
<path d="M196.1,319.5L202.7,321.0L207.0,314.5L200.5,312.8Z" fill="#e4e4e4" stroke="#e4e4e4" stroke-width=".5"/>
<path d="M202.7,321.0L204.4,321.4L208.6,315.0L207.0,314.5Z" fill="#c3c3c3" stroke="#c3c3c3" stroke-width=".5"/>
<path d="M204.4,321.4L229.2,327.2L233.1,321.5L208.6,315.0Z" fill="#c7c7c7" stroke="#c7c7c7" stroke-width=".5"/>
<path d="M229.2,327.2L252.5,332.6L255.9,327.6L233.1,321.5Z" fill="#c4c4c4" stroke="#c4c4c4" stroke-width=".5"/>
<path d="M252.5,332.6L253.4,332.8L256.7,327.9L255.9,327.6Z" fill="#c6c6c6" stroke="#c6c6c6" stroke-width=".5"/>
<path d="M253.4,332.8L256.3,333.5L259.6,328.6L256.7,327.9Z" fill="#505050" stroke="#505050" stroke-width=".5"/>
<path d="M256.3,333.5L269.6,336.6L273.2,332.3L259.6,328.6Z" fill="#d2d2d2" stroke="#d2d2d2" stroke-width=".5"/>
<path d="M269.6,336.6L271.9,337.1L275.7,333.0L273.2,332.3Z" fill="#7b7b7b" stroke="#7b7b7b" stroke-width=".5"/>
<path d="M271.9,337.1L278.4,338.6L282.3,334.7L275.7,333.0Z" fill="#dedede" stroke="#dedede" stroke-width=".5"/>
<path d="M200.5,312.8L207.0,314.5L211.5,308.1L205.0,306.1Z" fill="#e4e4e4" stroke="#e4e4e4" stroke-width=".5"/>
<path d="M207.0,314.5L208.6,315.0L213.1,308.6L211.5,308.1Z" fill="#c4c4c4" stroke="#c4c4c4" stroke-width=".5"/>
<path d="M208.6,315.0L233.1,321.5L237.2,316.0L213.1,308.6Z" fill="#c6c6c6" stroke="#c6c6c6" stroke-width=".5"/>
<path d="M233.1,321.5L255.9,327.6L259.4,322.8L237.2,316.0Z" fill="#c5c5c5" stroke="#c5c5c5" stroke-width=".5"/>
<path d="M255.9,327.6L256.7,327.9L260.3,323.1L259.4,322.8Z" fill="#c7c7c7" stroke="#c7c7c7" stroke-width=".5"/>
<path d="M256.7,327.9L259.6,328.6L263.1,323.9L260.3,323.1Z" fill="#505050" stroke="#505050" stroke-width=".5"/>
<path d="M259.6,328.6L273.2,332.3L277.1,328.2L263.1,323.9Z" fill="#d2d2d2" stroke="#d2d2d2" stroke-width=".5"/>
<path d="M273.2,332.3L275.7,333.0L279.6,329.0L277.1,328.2Z" fill="#757575" stroke="#757575" stroke-width=".5"/>
<path d="M275.7,333.0L282.3,334.7L286.3,331.1L279.6,329.0Z" fill="#dddddd" stroke="#dddddd" stroke-width=".5"/>
<path d="M205.0,306.1L211.5,308.1L216.2,301.7L209.7,299.5Z" fill="#e4e4e4" stroke="#e4e4e4" stroke-width=".5"/>
<path d="M211.5,308.1L213.1,308.6L217.8,302.3L216.2,301.7Z" fill="#c5c5c5" stroke="#c5c5c5" stroke-width=".5"/>
<path d="M213.1,308.6L237.2,316.0L241.4,310.5L217.8,302.3Z" fill="#c6c6c6" stroke="#c6c6c6" stroke-width=".5"/>
<path d="M237.2,316.0L259.4,322.8L263.0,318.1L241.4,310.5Z" fill="#c5c5c5" stroke="#c5c5c5" stroke-width=".5"/>
<path d="M259.4,322.8L260.3,323.1L263.9,318.4L263.0,318.1Z" fill="#c8c8c8" stroke="#c8c8c8" stroke-width=".5"/>
<path d="M260.3,323.1L263.1,323.9L266.7,319.4L263.9,318.4Z" fill="#4f4f4f" stroke="#4f4f4f" stroke-width=".5"/>
<path d="M263.1,323.9L277.1,328.2L281.0,324.4L266.7,319.4Z" fill="#d1d1d1" stroke="#d1d1d1" stroke-width=".5"/>
<path d="M277.1,328.2L279.6,329.0L283.5,325.2L281.0,324.4Z" fill="#727272" stroke="#727272" stroke-width=".5"/>
<path d="M279.6,329.0L286.3,331.1L290.4,327.6L283.5,325.2Z" fill="#dddddd" stroke="#dddddd" stroke-width=".5"/>
<path d="M209.7,299.5L216.2,301.7L221.1,295.5L214.7,293.0Z" fill="#e4e4e4" stroke="#e4e4e4" stroke-width=".5"/>
<path d="M216.2,301.7L217.8,302.3L222.7,296.2L221.1,295.5Z" fill="#c5c5c5" stroke="#c5c5c5" stroke-width=".5"/>
<path d="M217.8,302.3L241.4,310.5L245.8,305.2L222.7,296.2Z" fill="#c6c6c6" stroke="#c6c6c6" stroke-width=".5"/>
<path d="M241.4,310.5L263.0,318.1L266.9,313.5L245.8,305.2Z" fill="#c6c6c6" stroke="#c6c6c6" stroke-width=".5"/>
<path d="M263.0,318.1L263.9,318.4L267.8,313.9L266.9,313.5Z" fill="#c9c9c9" stroke="#c9c9c9" stroke-width=".5"/>
<path d="M263.9,318.4L266.7,319.4L270.6,315.0L267.8,313.9Z" fill="#4f4f4f" stroke="#4f4f4f" stroke-width=".5"/>
<path d="M266.7,319.4L281.0,324.4L285.1,320.7L270.6,315.0Z" fill="#d1d1d1" stroke="#d1d1d1" stroke-width=".5"/>
<path d="M281.0,324.4L283.5,325.2L287.6,321.7L285.1,320.7Z" fill="#6f6f6f" stroke="#6f6f6f" stroke-width=".5"/>
<path d="M283.5,325.2L290.4,327.6L294.5,324.4L287.6,321.7Z" fill="#dcdcdc" stroke="#dcdcdc" stroke-width=".5"/>
<path d="M214.7,293.0L221.1,295.5L226.4,289.6L220.1,286.8Z" fill="#e4e4e4" stroke="#e4e4e4" stroke-width=".5"/>
<path d="M221.1,295.5L222.7,296.2L227.9,290.3L226.4,289.6Z" fill="#c5c5c5" stroke="#c5c5c5" stroke-width=".5"/>
<path d="M222.7,296.2L245.8,305.2L250.5,300.2L227.9,290.3Z" fill="#c6c6c6" stroke="#c6c6c6" stroke-width=".5"/>
<path d="M245.8,305.2L266.9,313.5L270.9,309.1L250.5,300.2Z" fill="#c6c6c6" stroke="#c6c6c6" stroke-width=".5"/>
<path d="M266.9,313.5L267.8,313.9L271.8,309.6L270.9,309.1Z" fill="#cacaca" stroke="#cacaca" stroke-width=".5"/>
<path d="M267.8,313.9L270.6,315.0L274.6,310.8L271.8,309.6Z" fill="#4e4e4e" stroke="#4e4e4e" stroke-width=".5"/>
<path d="M270.6,315.0L285.1,320.7L289.4,317.3L274.6,310.8Z" fill="#d1d1d1" stroke="#d1d1d1" stroke-width=".5"/>
<path d="M285.1,320.7L287.6,321.7L291.9,318.4L289.4,317.3Z" fill="#6c6c6c" stroke="#6c6c6c" stroke-width=".5"/>
<path d="M287.6,321.7L294.5,324.4L298.8,321.4L291.9,318.4Z" fill="#dcdcdc" stroke="#dcdcdc" stroke-width=".5"/>
<path d="M220.1,286.8L226.4,289.6L231.9,283.9L225.7,280.9Z" fill="#e4e4e4" stroke="#e4e4e4" stroke-width=".5"/>
<path d="M226.4,289.6L227.9,290.3L233.5,284.6L231.9,283.9Z" fill="#c6c6c6" stroke="#c6c6c6" stroke-width=".5"/>
<path d="M227.9,290.3L250.5,300.2L255.4,295.3L233.5,284.6Z" fill="#c6c6c6" stroke="#c6c6c6" stroke-width=".5"/>
<path d="M250.5,300.2L270.9,309.1L275.1,305.0L255.4,295.3Z" fill="#c7c7c7" stroke="#c7c7c7" stroke-width=".5"/>
<path d="M270.9,309.1L271.8,309.6L276.1,305.4L275.1,305.0Z" fill="#cbcbcb" stroke="#cbcbcb" stroke-width=".5"/>
<path d="M271.8,309.6L274.6,310.8L278.8,306.7L276.1,305.4Z" fill="#4e4e4e" stroke="#4e4e4e" stroke-width=".5"/>
<path d="M274.6,310.8L289.4,317.3L293.8,314.0L278.8,306.7Z" fill="#d0d0d0" stroke="#d0d0d0" stroke-width=".5"/>
<path d="M289.4,317.3L291.9,318.4L296.3,315.3L293.8,314.0Z" fill="#686868" stroke="#686868" stroke-width=".5"/>
<path d="M291.9,318.4L298.8,321.4L303.3,318.7L296.3,315.3Z" fill="#dbdbdb" stroke="#dbdbdb" stroke-width=".5"/>
<path d="M225.7,280.9L231.9,283.9L237.7,278.5L231.6,275.2Z" fill="#e4e4e4" stroke="#e4e4e4" stroke-width=".5"/>
<path d="M231.9,283.9L233.5,284.6L239.3,279.3L237.7,278.5Z" fill="#c6c6c6" stroke="#c6c6c6" stroke-width=".5"/>
<path d="M233.5,284.6L255.4,295.3L260.6,290.7L239.3,279.3Z" fill="#c6c6c6" stroke="#c6c6c6" stroke-width=".5"/>
<path d="M255.4,295.3L275.1,305.0L279.7,301.0L260.6,290.7Z" fill="#c8c8c8" stroke="#c8c8c8" stroke-width=".5"/>
<path d="M275.1,305.0L276.1,305.4L280.6,301.5L279.7,301.0Z" fill="#cccccc" stroke="#cccccc" stroke-width=".5"/>
<path d="M276.1,305.4L278.8,306.7L283.3,302.9L280.6,301.5Z" fill="#4e4e4e" stroke="#4e4e4e" stroke-width=".5"/>
<path d="M278.8,306.7L293.8,314.0L298.4,311.0L283.3,302.9Z" fill="#d0d0d0" stroke="#d0d0d0" stroke-width=".5"/>
<path d="M293.8,314.0L296.3,315.3L300.9,312.4L298.4,311.0Z" fill="#656565" stroke="#656565" stroke-width=".5"/>
<path d="M296.3,315.3L303.3,318.7L308.0,316.2L300.9,312.4Z" fill="#dadada" stroke="#dadada" stroke-width=".5"/>
<path d="M231.6,275.2L237.7,278.5L243.9,273.3L237.9,269.8Z" fill="#e4e4e4" stroke="#e4e4e4" stroke-width=".5"/>
<path d="M237.7,278.5L239.3,279.3L245.4,274.2L243.9,273.3Z" fill="#c6c6c6" stroke="#c6c6c6" stroke-width=".5"/>
<path d="M239.3,279.3L260.6,290.7L266.1,286.4L245.4,274.2Z" fill="#c6c6c6" stroke="#c6c6c6" stroke-width=".5"/>
<path d="M260.6,290.7L279.7,301.0L284.5,297.2L266.1,286.4Z" fill="#c8c8c8" stroke="#c8c8c8" stroke-width=".5"/>
<path d="M279.7,301.0L280.6,301.5L285.5,297.8L284.5,297.2Z" fill="#cdcdcd" stroke="#cdcdcd" stroke-width=".5"/>
<path d="M280.6,301.5L283.3,302.9L288.1,299.3L285.5,297.8Z" fill="#4d4d4d" stroke="#4d4d4d" stroke-width=".5"/>
<path d="M283.3,302.9L298.4,311.0L303.4,308.3L288.1,299.3Z" fill="#d0d0d0" stroke="#d0d0d0" stroke-width=".5"/>
<path d="M298.4,311.0L300.9,312.4L305.9,309.7L303.4,308.3Z" fill="#626262" stroke="#626262" stroke-width=".5"/>
<path d="M300.9,312.4L308.0,316.2L313.0,313.9L305.9,309.7Z" fill="#dadada" stroke="#dadada" stroke-width=".5"/>
<path d="M237.9,269.8L243.9,273.3L250.3,268.5L244.4,264.7Z" fill="#e4e4e4" stroke="#e4e4e4" stroke-width=".5"/>
<path d="M243.9,273.3L245.4,274.2L251.8,269.4L250.3,268.5Z" fill="#c7c7c7" stroke="#c7c7c7" stroke-width=".5"/>
<path d="M245.4,274.2L266.1,286.4L272.0,282.3L251.8,269.4Z" fill="#c6c6c6" stroke="#c6c6c6" stroke-width=".5"/>
<path d="M266.1,286.4L284.5,297.2L289.7,293.6L272.0,282.3Z" fill="#c9c9c9" stroke="#c9c9c9" stroke-width=".5"/>
<path d="M284.5,297.2L285.5,297.8L290.7,294.3L289.7,293.6Z" fill="#cecece" stroke="#cecece" stroke-width=".5"/>
<path d="M285.5,297.8L288.1,299.3L293.3,295.9L290.7,294.3Z" fill="#4d4d4d" stroke="#4d4d4d" stroke-width=".5"/>
<path d="M288.1,299.3L303.4,308.3L308.7,305.8L293.3,295.9Z" fill="#cfcfcf" stroke="#cfcfcf" stroke-width=".5"/>
<path d="M303.4,308.3L305.9,309.7L311.2,307.3L308.7,305.8Z" fill="#5f5f5f" stroke="#5f5f5f" stroke-width=".5"/>
<path d="M305.9,309.7L313.0,313.9L318.3,311.9L311.2,307.3Z" fill="#d9d9d9" stroke="#d9d9d9" stroke-width=".5"/>
<path d="M244.4,264.7L250.3,268.5L257.0,264.0L251.2,260.0Z" fill="#e4e4e4" stroke="#e4e4e4" stroke-width=".5"/>
<path d="M250.3,268.5L251.8,269.4L258.4,265.0L257.0,264.0Z" fill="#c7c7c7" stroke="#c7c7c7" stroke-width=".5"/>
<path d="M251.8,269.4L272.0,282.3L278.1,278.5L258.4,265.0Z" fill="#c6c6c6" stroke="#c6c6c6" stroke-width=".5"/>
<path d="M272.0,282.3L289.7,293.6L295.2,290.3L278.1,278.5Z" fill="#cacaca" stroke="#cacaca" stroke-width=".5"/>
<path d="M289.7,293.6L290.7,294.3L296.2,291.0L295.2,290.3Z" fill="#cfcfcf" stroke="#cfcfcf" stroke-width=".5"/>
<path d="M290.7,294.3L293.3,295.9L298.8,292.7L296.2,291.0Z" fill="#4c4c4c" stroke="#4c4c4c" stroke-width=".5"/>
<path d="M293.3,295.9L308.7,305.8L314.3,303.5L298.8,292.7Z" fill="#cfcfcf" stroke="#cfcfcf" stroke-width=".5"/>
<path d="M308.7,305.8L311.2,307.3L316.8,305.2L314.3,303.5Z" fill="#5c5c5c" stroke="#5c5c5c" stroke-width=".5"/>
<path d="M311.2,307.3L318.3,311.9L324.0,310.1L316.8,305.2Z" fill="#d8d8d8" stroke="#d8d8d8" stroke-width=".5"/>
<path d="M251.2,260.0L257.0,264.0L264.0,259.7L258.2,255.5Z" fill="#e4e4e4" stroke="#e4e4e4" stroke-width=".5"/>
<path d="M257.0,264.0L258.4,265.0L265.4,260.8L264.0,259.7Z" fill="#c7c7c7" stroke="#c7c7c7" stroke-width=".5"/>
<path d="M258.4,265.0L278.1,278.5L284.5,274.9L265.4,260.8Z" fill="#c6c6c6" stroke="#c6c6c6" stroke-width=".5"/>
<path d="M278.1,278.5L295.2,290.3L301.0,287.2L284.5,274.9Z" fill="#cacaca" stroke="#cacaca" stroke-width=".5"/>
<path d="M295.2,290.3L296.2,291.0L302.0,287.9L301.0,287.2Z" fill="#d0d0d0" stroke="#d0d0d0" stroke-width=".5"/>
<path d="M296.2,291.0L298.8,292.7L304.5,289.8L302.0,287.9Z" fill="#4c4c4c" stroke="#4c4c4c" stroke-width=".5"/>
<path d="M298.8,292.7L314.3,303.5L320.2,301.4L304.5,289.8Z" fill="#cfcfcf" stroke="#cfcfcf" stroke-width=".5"/>
<path d="M314.3,303.5L316.8,305.2L322.6,303.2L320.2,301.4Z" fill="#585858" stroke="#585858" stroke-width=".5"/>
<path d="M316.8,305.2L324.0,310.1L329.8,308.6L322.6,303.2Z" fill="#d8d8d8" stroke="#d8d8d8" stroke-width=".5"/>
<path d="M258.2,255.5L264.0,259.7L271.2,255.7L265.6,251.3Z" fill="#e4e4e4" stroke="#e4e4e4" stroke-width=".5"/>
<path d="M264.0,259.7L265.4,260.8L272.6,256.9L271.2,255.7Z" fill="#c7c7c7" stroke="#c7c7c7" stroke-width=".5"/>
<path d="M265.4,260.8L284.5,274.9L291.0,271.6L272.6,256.9Z" fill="#c6c6c6" stroke="#c6c6c6" stroke-width=".5"/>
<path d="M284.5,274.9L301.0,287.2L306.7,284.2L291.0,271.6Z" fill="#cbcbcb" stroke="#cbcbcb" stroke-width=".5"/>
<path d="M301.0,287.2L302.0,287.9L307.7,285.0L306.7,284.2Z" fill="#d0d0d0" stroke="#d0d0d0" stroke-width=".5"/>
<path d="M302.0,287.9L304.5,289.8L310.2,287.0L307.7,285.0Z" fill="#4c4c4c" stroke="#4c4c4c" stroke-width=".5"/>
<path d="M304.5,289.8L320.2,301.4L325.9,299.5L310.2,287.0Z" fill="#cfcfcf" stroke="#cfcfcf" stroke-width=".5"/>
<path d="M320.2,301.4L322.6,303.2L328.3,301.5L325.9,299.5Z" fill="#555555" stroke="#555555" stroke-width=".5"/>
<path d="M322.6,303.2L329.8,308.6L335.5,307.2L328.3,301.5Z" fill="#d7d7d7" stroke="#d7d7d7" stroke-width=".5"/>
<path d="M265.6,251.3L271.2,255.7L278.7,252.0L273.3,247.3Z" fill="#e4e4e4" stroke="#e4e4e4" stroke-width=".5"/>
<path d="M271.2,255.7L272.6,256.9L280.1,253.2L278.7,252.0Z" fill="#c8c8c8" stroke="#c8c8c8" stroke-width=".5"/>
<path d="M272.6,256.9L291.0,271.6L297.6,268.5L280.1,253.2Z" fill="#c6c6c6" stroke="#c6c6c6" stroke-width=".5"/>
<path d="M291.0,271.6L306.7,284.2L312.4,281.4L297.6,268.5Z" fill="#cccccc" stroke="#cccccc" stroke-width=".5"/>
<path d="M306.7,284.2L307.7,285.0L313.4,282.3L312.4,281.4Z" fill="#d1d1d1" stroke="#d1d1d1" stroke-width=".5"/>
<path d="M307.7,285.0L310.2,287.0L315.8,284.4L313.4,282.3Z" fill="#4b4b4b" stroke="#4b4b4b" stroke-width=".5"/>
<path d="M310.2,287.0L325.9,299.5L331.2,297.9L315.8,284.4Z" fill="#cecece" stroke="#cecece" stroke-width=".5"/>
<path d="M325.9,299.5L328.3,301.5L333.6,299.9L331.2,297.9Z" fill="#525252" stroke="#525252" stroke-width=".5"/>
<path d="M328.3,301.5L335.5,307.2L340.6,306.1L333.6,299.9Z" fill="#d6d6d6" stroke="#d6d6d6" stroke-width=".5"/>
<path d="M273.3,247.3L278.7,252.0L286.5,248.6L281.4,243.6Z" fill="#e4e4e4" stroke="#e4e4e4" stroke-width=".5"/>
<path d="M278.7,252.0L280.1,253.2L287.8,249.8L286.5,248.6Z" fill="#c8c8c8" stroke="#c8c8c8" stroke-width=".5"/>
<path d="M280.1,253.2L297.6,268.5L304.3,265.8L287.8,249.8Z" fill="#c6c6c6" stroke="#c6c6c6" stroke-width=".5"/>
<path d="M297.6,268.5L312.4,281.4L318.3,279.2L304.3,265.8Z" fill="#cccccc" stroke="#cccccc" stroke-width=".5"/>
<path d="M312.4,281.4L313.4,282.3L319.2,280.2L318.3,279.2Z" fill="#d2d2d2" stroke="#d2d2d2" stroke-width=".5"/>
<path d="M313.4,282.3L315.8,284.4L321.5,282.3L319.2,280.2Z" fill="#4b4b4b" stroke="#4b4b4b" stroke-width=".5"/>
<path d="M315.8,284.4L331.2,297.9L336.1,296.5L321.5,282.3Z" fill="#cecece" stroke="#cecece" stroke-width=".5"/>
<path d="M331.2,297.9L333.6,299.9L338.4,298.7L336.1,296.5Z" fill="#505050" stroke="#505050" stroke-width=".5"/>
<path d="M333.6,299.9L340.6,306.1L345.0,305.1L338.4,298.7Z" fill="#d6d6d6" stroke="#d6d6d6" stroke-width=".5"/>
<path d="M281.4,243.6L286.5,248.6L294.6,245.4L289.8,240.2Z" fill="#e4e4e4" stroke="#e4e4e4" stroke-width=".5"/>
<path d="M286.5,248.6L287.8,249.8L295.7,246.7L294.6,245.4Z" fill="#c9c9c9" stroke="#c9c9c9" stroke-width=".5"/>
<path d="M287.8,249.8L304.3,265.8L311.0,263.3L295.7,246.7Z" fill="#c7c7c7" stroke="#c7c7c7" stroke-width=".5"/>
<path d="M304.3,265.8L318.3,279.2L323.9,277.3L311.0,263.3Z" fill="#cdcdcd" stroke="#cdcdcd" stroke-width=".5"/>
<path d="M318.3,279.2L319.2,280.2L324.8,278.2L323.9,277.3Z" fill="#d3d3d3" stroke="#d3d3d3" stroke-width=".5"/>
<path d="M319.2,280.2L321.5,282.3L326.9,280.5L324.8,278.2Z" fill="#4b4b4b" stroke="#4b4b4b" stroke-width=".5"/>
<path d="M321.5,282.3L336.1,296.5L340.6,295.3L326.9,280.5Z" fill="#cecece" stroke="#cecece" stroke-width=".5"/>
<path d="M336.1,296.5L338.4,298.7L342.6,297.6L340.6,295.3Z" fill="#4e4e4e" stroke="#4e4e4e" stroke-width=".5"/>
<path d="M338.4,298.7L345.0,305.1L348.8,304.3L342.6,297.6Z" fill="#d6d6d6" stroke="#d6d6d6" stroke-width=".5"/>
<path d="M289.8,240.2L294.6,245.4L302.7,242.5L298.4,237.1Z" fill="#e4e4e4" stroke="#e4e4e4" stroke-width=".5"/>
<path d="M294.6,245.4L295.7,246.7L303.8,243.9L302.7,242.5Z" fill="#c9c9c9" stroke="#c9c9c9" stroke-width=".5"/>
<path d="M295.7,246.7L311.0,263.3L317.7,261.1L303.8,243.9Z" fill="#c7c7c7" stroke="#c7c7c7" stroke-width=".5"/>
<path d="M311.0,263.3L323.9,277.3L329.5,275.6L317.7,261.1Z" fill="#cecece" stroke="#cecece" stroke-width=".5"/>
<path d="M323.9,277.3L324.8,278.2L330.3,276.6L329.5,275.6Z" fill="#d4d4d4" stroke="#d4d4d4" stroke-width=".5"/>
<path d="M324.8,278.2L326.9,280.5L332.2,278.9L330.3,276.6Z" fill="#4a4a4a" stroke="#4a4a4a" stroke-width=".5"/>
<path d="M326.9,280.5L340.6,295.3L344.7,294.3L332.2,278.9Z" fill="#cecece" stroke="#cecece" stroke-width=".5"/>
<path d="M340.6,295.3L342.6,297.6L346.6,296.7L344.7,294.3Z" fill="#4d4d4d" stroke="#4d4d4d" stroke-width=".5"/>
<path d="M342.6,297.6L348.8,304.3L352.2,303.7L346.6,296.7Z" fill="#d5d5d5" stroke="#d5d5d5" stroke-width=".5"/>
<path d="M298.4,237.1L302.7,242.5L311.0,240.1L307.1,234.5Z" fill="#e4e4e4" stroke="#e4e4e4" stroke-width=".5"/>
<path d="M302.7,242.5L303.8,243.9L312.0,241.5L311.0,240.1Z" fill="#cacaca" stroke="#cacaca" stroke-width=".5"/>
<path d="M303.8,243.9L317.7,261.1L324.4,259.2L312.0,241.5Z" fill="#c8c8c8" stroke="#c8c8c8" stroke-width=".5"/>
<path d="M317.7,261.1L329.5,275.6L334.9,274.1L324.4,259.2Z" fill="#cfcfcf" stroke="#cfcfcf" stroke-width=".5"/>
<path d="M329.5,275.6L330.3,276.6L335.6,275.1L334.9,274.1Z" fill="#d5d5d5" stroke="#d5d5d5" stroke-width=".5"/>
<path d="M330.3,276.6L332.2,278.9L337.3,277.5L335.6,275.1Z" fill="#4a4a4a" stroke="#4a4a4a" stroke-width=".5"/>
<path d="M332.2,278.9L344.7,294.3L348.6,293.5L337.3,277.5Z" fill="#cfcfcf" stroke="#cfcfcf" stroke-width=".5"/>
<path d="M344.7,294.3L346.6,296.7L350.3,295.9L348.6,293.5Z" fill="#4c4c4c" stroke="#4c4c4c" stroke-width=".5"/>
<path d="M346.6,296.7L352.2,303.7L355.3,303.1L350.3,295.9Z" fill="#d5d5d5" stroke="#d5d5d5" stroke-width=".5"/>
<path d="M307.1,234.5L311.0,240.1L319.3,238.1L315.8,232.4Z" fill="#e4e4e4" stroke="#e4e4e4" stroke-width=".5"/>
<path d="M311.0,240.1L312.0,241.5L320.1,239.6L319.3,238.1Z" fill="#cacaca" stroke="#cacaca" stroke-width=".5"/>
<path d="M312.0,241.5L324.4,259.2L331.1,257.7L320.1,239.6Z" fill="#c8c8c8" stroke="#c8c8c8" stroke-width=".5"/>
<path d="M324.4,259.2L334.9,274.1L340.3,272.9L331.1,257.7Z" fill="#d0d0d0" stroke="#d0d0d0" stroke-width=".5"/>
<path d="M334.9,274.1L335.6,275.1L341.0,273.9L340.3,272.9Z" fill="#d6d6d6" stroke="#d6d6d6" stroke-width=".5"/>
<path d="M335.6,275.1L337.3,277.5L342.4,276.4L341.0,273.9Z" fill="#4a4a4a" stroke="#4a4a4a" stroke-width=".5"/>
<path d="M337.3,277.5L348.6,293.5L352.4,292.8L342.4,276.4Z" fill="#cfcfcf" stroke="#cfcfcf" stroke-width=".5"/>
<path d="M348.6,293.5L350.3,295.9L353.9,295.3L352.4,292.8Z" fill="#4b4b4b" stroke="#4b4b4b" stroke-width=".5"/>
<path d="M350.3,295.9L355.3,303.1L358.4,302.7L353.9,295.3Z" fill="#d5d5d5" stroke="#d5d5d5" stroke-width=".5"/>
<path d="M315.8,232.4L319.3,238.1L327.6,236.6L324.6,230.7Z" fill="#e4e4e4" stroke="#e4e4e4" stroke-width=".5"/>
<path d="M319.3,238.1L320.1,239.6L328.3,238.0L327.6,236.6Z" fill="#cbcbcb" stroke="#cbcbcb" stroke-width=".5"/>
<path d="M320.1,239.6L331.1,257.7L337.8,256.5L328.3,238.0Z" fill="#c9c9c9" stroke="#c9c9c9" stroke-width=".5"/>
<path d="M331.1,257.7L340.3,272.9L345.8,271.9L337.8,256.5Z" fill="#d0d0d0" stroke="#d0d0d0" stroke-width=".5"/>
<path d="M340.3,272.9L341.0,273.9L346.3,273.0L345.8,271.9Z" fill="#d6d6d6" stroke="#d6d6d6" stroke-width=".5"/>
<path d="M341.0,273.9L342.4,276.4L347.6,275.5L346.3,273.0Z" fill="#4a4a4a" stroke="#4a4a4a" stroke-width=".5"/>
<path d="M342.4,276.4L352.4,292.8L356.3,292.3L347.6,275.5Z" fill="#cfcfcf" stroke="#cfcfcf" stroke-width=".5"/>
<path d="M352.4,292.8L353.9,295.3L357.6,294.8L356.3,292.3Z" fill="#4a4a4a" stroke="#4a4a4a" stroke-width=".5"/>
<path d="M353.9,295.3L358.4,302.7L361.4,302.3L357.6,294.8Z" fill="#d4d4d4" stroke="#d4d4d4" stroke-width=".5"/>
<path d="M324.6,230.7L327.6,236.6L335.9,235.4L333.3,229.4Z" fill="#e4e4e4" stroke="#e4e4e4" stroke-width=".5"/>
<path d="M327.6,236.6L328.3,238.0L336.5,236.8L335.9,235.4Z" fill="#cbcbcb" stroke="#cbcbcb" stroke-width=".5"/>
<path d="M328.3,238.0L337.8,256.5L344.5,255.6L336.5,236.8Z" fill="#c9c9c9" stroke="#c9c9c9" stroke-width=".5"/>
<path d="M337.8,256.5L345.8,271.9L351.2,271.1L344.5,255.6Z" fill="#d1d1d1" stroke="#d1d1d1" stroke-width=".5"/>
<path d="M345.8,271.9L346.3,273.0L351.7,272.2L351.2,271.1Z" fill="#d7d7d7" stroke="#d7d7d7" stroke-width=".5"/>
<path d="M346.3,273.0L347.6,275.5L352.8,274.8L351.7,272.2Z" fill="#494949" stroke="#494949" stroke-width=".5"/>
<path d="M347.6,275.5L356.3,292.3L360.2,291.9L352.8,274.8Z" fill="#cfcfcf" stroke="#cfcfcf" stroke-width=".5"/>
<path d="M356.3,292.3L357.6,294.8L361.3,294.5L360.2,291.9Z" fill="#494949" stroke="#494949" stroke-width=".5"/>
<path d="M357.6,294.8L361.4,302.3L364.5,302.1L361.3,294.5Z" fill="#d4d4d4" stroke="#d4d4d4" stroke-width=".5"/>
<path d="M333.3,229.4L335.9,235.4L344.1,234.5L341.9,228.3Z" fill="#e4e4e4" stroke="#e4e4e4" stroke-width=".5"/>
<path d="M335.9,235.4L336.5,236.8L344.6,235.9L344.1,234.5Z" fill="#cccccc" stroke="#cccccc" stroke-width=".5"/>
<path d="M336.5,236.8L344.5,255.6L351.2,254.8L344.6,235.9Z" fill="#cacaca" stroke="#cacaca" stroke-width=".5"/>
<path d="M344.5,255.6L351.2,271.1L356.8,270.6L351.2,254.8Z" fill="#d2d2d2" stroke="#d2d2d2" stroke-width=".5"/>
<path d="M351.2,271.1L351.7,272.2L357.1,271.7L356.8,270.6Z" fill="#d8d8d8" stroke="#d8d8d8" stroke-width=".5"/>
<path d="M351.7,272.2L352.8,274.8L358.0,274.3L357.1,271.7Z" fill="#494949" stroke="#494949" stroke-width=".5"/>
<path d="M352.8,274.8L360.2,291.9L364.2,291.7L358.0,274.3Z" fill="#cfcfcf" stroke="#cfcfcf" stroke-width=".5"/>
<path d="M360.2,291.9L361.3,294.5L365.1,294.3L364.2,291.7Z" fill="#484848" stroke="#484848" stroke-width=".5"/>
<path d="M361.3,294.5L364.5,302.1L367.8,302.0L365.1,294.3Z" fill="#d4d4d4" stroke="#d4d4d4" stroke-width=".5"/>
<path d="M341.9,228.3L344.1,234.5L352.2,233.7L350.4,227.5Z" fill="#e4e4e4" stroke="#e4e4e4" stroke-width=".5"/>
<path d="M344.1,234.5L344.6,235.9L352.6,235.2L352.2,233.7Z" fill="#cccccc" stroke="#cccccc" stroke-width=".5"/>
<path d="M344.6,235.9L351.2,254.8L357.9,254.3L352.6,235.2Z" fill="#cacaca" stroke="#cacaca" stroke-width=".5"/>
<path d="M351.2,254.8L356.8,270.6L362.3,270.2L357.9,254.3Z" fill="#d3d3d3" stroke="#d3d3d3" stroke-width=".5"/>
<path d="M356.8,270.6L357.1,271.7L362.6,271.3L362.3,270.2Z" fill="#d9d9d9" stroke="#d9d9d9" stroke-width=".5"/>
<path d="M357.1,271.7L358.0,274.3L363.4,273.9L362.6,271.3Z" fill="#494949" stroke="#494949" stroke-width=".5"/>
<path d="M358.0,274.3L364.2,291.7L368.3,291.6L363.4,273.9Z" fill="#cfcfcf" stroke="#cfcfcf" stroke-width=".5"/>
<path d="M364.2,291.7L365.1,294.3L369.0,294.2L368.3,291.6Z" fill="#474747" stroke="#474747" stroke-width=".5"/>
<path d="M365.1,294.3L367.8,302.0L371.2,302.1L369.0,294.2Z" fill="#d3d3d3" stroke="#d3d3d3" stroke-width=".5"/>
<path d="M350.4,227.5L352.2,233.7L360.2,233.1L358.9,226.8Z" fill="#e4e4e4" stroke="#e4e4e4" stroke-width=".5"/>
<path d="M352.2,233.7L352.6,235.2L360.5,234.6L360.2,233.1Z" fill="#cdcdcd" stroke="#cdcdcd" stroke-width=".5"/>
<path d="M352.6,235.2L357.9,254.3L364.6,253.9L360.5,234.6Z" fill="#cbcbcb" stroke="#cbcbcb" stroke-width=".5"/>
<path d="M357.9,254.3L362.3,270.2L368.0,269.9L364.6,253.9Z" fill="#d4d4d4" stroke="#d4d4d4" stroke-width=".5"/>
<path d="M362.3,270.2L362.6,271.3L368.2,271.1L368.0,269.9Z" fill="#dadada" stroke="#dadada" stroke-width=".5"/>
<path d="M362.6,271.3L363.4,273.9L368.8,273.7L368.2,271.1Z" fill="#494949" stroke="#494949" stroke-width=".5"/>
<path d="M363.4,273.9L368.3,291.6L372.6,291.7L368.8,273.7Z" fill="#d0d0d0" stroke="#d0d0d0" stroke-width=".5"/>
<path d="M368.3,291.6L369.0,294.2L373.1,294.3L372.6,291.7Z" fill="#454545" stroke="#454545" stroke-width=".5"/>
<path d="M369.0,294.2L371.2,302.1L374.8,302.2L373.1,294.3Z" fill="#d3d3d3" stroke="#d3d3d3" stroke-width=".5"/>
<path d="M358.9,226.8L360.2,233.1L368.2,232.7L367.3,226.3Z" fill="#e4e4e4" stroke="#e4e4e4" stroke-width=".5"/>
<path d="M360.2,233.1L360.5,234.6L368.5,234.3L368.2,232.7Z" fill="#cdcdcd" stroke="#cdcdcd" stroke-width=".5"/>
<path d="M360.5,234.6L364.6,253.9L371.4,253.7L368.5,234.3Z" fill="#cbcbcb" stroke="#cbcbcb" stroke-width=".5"/>
<path d="M364.6,253.9L368.0,269.9L373.8,269.8L371.4,253.7Z" fill="#d4d4d4" stroke="#d4d4d4" stroke-width=".5"/>
<path d="M368.0,269.9L368.2,271.1L374.0,271.0L373.8,269.8Z" fill="#dadada" stroke="#dadada" stroke-width=".5"/>
<path d="M368.2,271.1L368.8,273.7L374.4,273.6L374.0,271.0Z" fill="#484848" stroke="#484848" stroke-width=".5"/>
<path d="M368.8,273.7L372.6,291.7L377.1,291.8L374.4,273.6Z" fill="#d0d0d0" stroke="#d0d0d0" stroke-width=".5"/>
<path d="M372.6,291.7L373.1,294.3L377.5,294.5L377.1,291.8Z" fill="#444444" stroke="#444444" stroke-width=".5"/>
<path d="M373.1,294.3L374.8,302.2L378.7,302.5L377.5,294.5Z" fill="#d3d3d3" stroke="#d3d3d3" stroke-width=".5"/>
<path d="M367.3,226.3L368.2,232.7L376.3,232.6L375.7,226.0Z" fill="#e4e4e4" stroke="#e4e4e4" stroke-width=".5"/>
<path d="M368.2,232.7L368.5,234.3L376.5,234.1L376.3,232.6Z" fill="#cecece" stroke="#cecece" stroke-width=".5"/>
<path d="M368.5,234.3L371.4,253.7L378.3,253.7L376.5,234.1Z" fill="#cccccc" stroke="#cccccc" stroke-width=".5"/>
<path d="M371.4,253.7L373.8,269.8L379.8,269.8L378.3,253.7Z" fill="#d5d5d5" stroke="#d5d5d5" stroke-width=".5"/>
<path d="M373.8,269.8L374.0,271.0L379.9,271.0L379.8,269.8Z" fill="#dbdbdb" stroke="#dbdbdb" stroke-width=".5"/>
<path d="M374.0,271.0L374.4,273.6L380.1,273.7L379.9,271.0Z" fill="#484848" stroke="#484848" stroke-width=".5"/>
<path d="M374.4,273.6L377.1,291.8L381.8,292.1L380.1,273.7Z" fill="#d0d0d0" stroke="#d0d0d0" stroke-width=".5"/>
<path d="M377.1,291.8L377.5,294.5L382.1,294.8L381.8,292.1Z" fill="#434343" stroke="#434343" stroke-width=".5"/>
<path d="M377.5,294.5L378.7,302.5L382.8,302.8L382.1,294.8Z" fill="#d2d2d2" stroke="#d2d2d2" stroke-width=".5"/>
<path d="M375.7,226.0L376.3,232.6L384.5,232.6L384.3,226.0Z" fill="#e4e4e4" stroke="#e4e4e4" stroke-width=".5"/>
<path d="M376.3,232.6L376.5,234.1L384.6,234.1L384.5,232.6Z" fill="#cecece" stroke="#cecece" stroke-width=".5"/>
<path d="M376.5,234.1L378.3,253.7L385.4,253.9L384.6,234.1Z" fill="#cccccc" stroke="#cccccc" stroke-width=".5"/>
<path d="M378.3,253.7L379.8,269.8L386.0,270.0L385.4,253.9Z" fill="#d6d6d6" stroke="#d6d6d6" stroke-width=".5"/>
<path d="M379.8,269.8L379.9,271.0L386.0,271.2L386.0,270.0Z" fill="#dcdcdc" stroke="#dcdcdc" stroke-width=".5"/>
<path d="M379.9,271.0L380.1,273.7L386.1,273.9L386.0,271.2Z" fill="#484848" stroke="#484848" stroke-width=".5"/>
<path d="M380.1,273.7L381.8,292.1L386.8,292.4L386.1,273.9Z" fill="#d0d0d0" stroke="#d0d0d0" stroke-width=".5"/>
<path d="M381.8,292.1L382.1,294.8L387.0,295.1L386.8,292.4Z" fill="#434343" stroke="#434343" stroke-width=".5"/>
<path d="M382.1,294.8L382.8,302.8L387.3,303.2L387.0,295.1Z" fill="#d2d2d2" stroke="#d2d2d2" stroke-width=".5"/>
<path d="M384.3,226.0L384.5,232.6L392.8,232.9L392.9,226.3Z" fill="#e4e4e4" stroke="#e4e4e4" stroke-width=".5"/>
<path d="M384.5,232.6L384.6,234.1L392.8,234.4L392.8,232.9Z" fill="#cecece" stroke="#cecece" stroke-width=".5"/>
<path d="M384.6,234.1L385.4,253.9L392.6,254.4L392.8,234.4Z" fill="#cccccc" stroke="#cccccc" stroke-width=".5"/>
<path d="M385.4,253.9L386.0,270.0L392.4,270.5L392.6,254.4Z" fill="#d7d7d7" stroke="#d7d7d7" stroke-width=".5"/>
<path d="M386.0,270.0L386.0,271.2L392.4,271.7L392.4,270.5Z" fill="#dddddd" stroke="#dddddd" stroke-width=".5"/>
<path d="M386.0,271.2L386.1,273.9L392.3,274.4L392.4,271.7Z" fill="#494949" stroke="#494949" stroke-width=".5"/>
<path d="M386.1,273.9L386.8,292.4L392.1,292.7L392.3,274.4Z" fill="#d2d2d2" stroke="#d2d2d2" stroke-width=".5"/>
<path d="M386.8,292.4L387.0,295.1L392.1,295.4L392.1,292.7Z" fill="#434343" stroke="#434343" stroke-width=".5"/>
<path d="M387.0,295.1L387.3,303.2L392.0,303.5L392.1,295.4Z" fill="#d1d1d1" stroke="#d1d1d1" stroke-width=".5"/>
<path d="M392.9,226.3L392.8,232.9L401.1,233.4L401.5,226.7Z" fill="#e4e4e4" stroke="#e4e4e4" stroke-width=".5"/>
<path d="M392.8,232.9L392.8,234.4L401.0,235.0L401.1,233.4Z" fill="#cfcfcf" stroke="#cfcfcf" stroke-width=".5"/>
<path d="M392.8,234.4L392.6,254.4L399.8,255.0L401.0,235.0Z" fill="#cccccc" stroke="#cccccc" stroke-width=".5"/>
<path d="M392.6,254.4L392.4,270.5L398.8,271.0L399.8,255.0Z" fill="#d8d8d8" stroke="#d8d8d8" stroke-width=".5"/>
<path d="M392.4,270.5L392.4,271.7L398.8,272.3L398.8,271.0Z" fill="#dedede" stroke="#dedede" stroke-width=".5"/>
<path d="M392.4,271.7L392.3,274.4L398.6,275.0L398.8,272.3Z" fill="#4a4a4a" stroke="#4a4a4a" stroke-width=".5"/>
<path d="M392.3,274.4L392.1,292.7L397.5,293.2L398.6,275.0Z" fill="#d4d4d4" stroke="#d4d4d4" stroke-width=".5"/>
<path d="M392.1,292.7L392.1,295.4L397.4,295.9L397.5,293.2Z" fill="#454545" stroke="#454545" stroke-width=".5"/>
<path d="M392.1,295.4L392.0,303.5L396.9,304.0L397.4,295.9Z" fill="#d0d0d0" stroke="#d0d0d0" stroke-width=".5"/>
<path d="M401.5,226.7L401.1,233.4L409.1,234.2L409.8,227.4Z" fill="#e5e5e5" stroke="#e5e5e5" stroke-width=".5"/>
<path d="M401.1,233.4L401.0,235.0L409.0,235.7L409.1,234.2Z" fill="#cfcfcf" stroke="#cfcfcf" stroke-width=".5"/>
<path d="M401.0,235.0L399.8,255.0L406.9,255.8L409.0,235.7Z" fill="#cdcdcd" stroke="#cdcdcd" stroke-width=".5"/>
<path d="M399.8,255.0L398.8,271.0L405.2,271.7L406.9,255.8Z" fill="#d9d9d9" stroke="#d9d9d9" stroke-width=".5"/>
<path d="M398.8,271.0L398.8,272.3L405.1,273.0L405.2,271.7Z" fill="#dfdfdf" stroke="#dfdfdf" stroke-width=".5"/>
<path d="M398.8,272.3L398.6,275.0L404.8,275.7L405.1,273.0Z" fill="#4b4b4b" stroke="#4b4b4b" stroke-width=".5"/>
<path d="M398.6,275.0L397.5,293.2L403.0,293.8L404.8,275.7Z" fill="#d6d6d6" stroke="#d6d6d6" stroke-width=".5"/>
<path d="M397.5,293.2L397.4,295.9L402.7,296.5L403.0,293.8Z" fill="#464646" stroke="#464646" stroke-width=".5"/>
<path d="M397.4,295.9L396.9,304.0L401.8,304.6L402.7,296.5Z" fill="#cfcfcf" stroke="#cfcfcf" stroke-width=".5"/>
<path d="M409.8,227.4L409.1,234.2L416.9,235.1L417.9,228.4Z" fill="#e5e5e5" stroke="#e5e5e5" stroke-width=".5"/>
<path d="M409.1,234.2L409.0,235.7L416.7,236.6L416.9,235.1Z" fill="#d0d0d0" stroke="#d0d0d0" stroke-width=".5"/>
<path d="M409.0,235.7L406.9,255.8L413.7,256.9L416.7,236.6Z" fill="#cdcdcd" stroke="#cdcdcd" stroke-width=".5"/>
<path d="M406.9,255.8L405.2,271.7L411.5,272.6L413.7,256.9Z" fill="#dadada" stroke="#dadada" stroke-width=".5"/>
<path d="M405.2,271.7L405.1,273.0L411.3,274.0L411.5,272.6Z" fill="#e0e0e0" stroke="#e0e0e0" stroke-width=".5"/>
<path d="M405.1,273.0L404.8,275.7L410.9,276.7L411.3,274.0Z" fill="#4c4c4c" stroke="#4c4c4c" stroke-width=".5"/>
<path d="M404.8,275.7L403.0,293.8L408.3,294.5L410.9,276.7Z" fill="#d8d8d8" stroke="#d8d8d8" stroke-width=".5"/>
<path d="M403.0,293.8L402.7,296.5L407.9,297.2L408.3,294.5Z" fill="#484848" stroke="#484848" stroke-width=".5"/>
<path d="M402.7,296.5L401.8,304.6L406.8,305.3L407.9,297.2Z" fill="#cecece" stroke="#cecece" stroke-width=".5"/>
<path d="M417.9,228.4L416.9,235.1L424.3,236.3L425.5,229.5Z" fill="#e5e5e5" stroke="#e5e5e5" stroke-width=".5"/>
<path d="M416.9,235.1L416.7,236.6L424.0,237.8L424.3,236.3Z" fill="#d0d0d0" stroke="#d0d0d0" stroke-width=".5"/>
<path d="M416.7,236.6L413.7,256.9L420.3,258.1L424.0,237.8Z" fill="#cdcdcd" stroke="#cdcdcd" stroke-width=".5"/>
<path d="M413.7,256.9L411.5,272.6L417.5,273.7L420.3,258.1Z" fill="#dbdbdb" stroke="#dbdbdb" stroke-width=".5"/>
<path d="M411.5,272.6L411.3,274.0L417.2,275.2L417.5,273.7Z" fill="#e1e1e1" stroke="#e1e1e1" stroke-width=".5"/>
<path d="M411.3,274.0L410.9,276.7L416.7,277.8L417.2,275.2Z" fill="#4d4d4d" stroke="#4d4d4d" stroke-width=".5"/>
<path d="M410.9,276.7L408.3,294.5L413.6,295.5L416.7,277.8Z" fill="#dadada" stroke="#dadada" stroke-width=".5"/>
<path d="M408.3,294.5L407.9,297.2L413.1,298.2L413.6,295.5Z" fill="#494949" stroke="#494949" stroke-width=".5"/>
<path d="M407.9,297.2L406.8,305.3L411.6,306.2L413.1,298.2Z" fill="#cdcdcd" stroke="#cdcdcd" stroke-width=".5"/>
<path d="M425.5,229.5L424.3,236.3L431.3,237.7L432.8,230.9Z" fill="#e5e5e5" stroke="#e5e5e5" stroke-width=".5"/>
<path d="M424.3,236.3L424.0,237.8L431.0,239.2L431.3,237.7Z" fill="#d1d1d1" stroke="#d1d1d1" stroke-width=".5"/>
<path d="M424.0,237.8L420.3,258.1L426.6,259.6L431.0,239.2Z" fill="#cdcdcd" stroke="#cdcdcd" stroke-width=".5"/>
<path d="M420.3,258.1L417.5,273.7L423.3,275.1L426.6,259.6Z" fill="#dcdcdc" stroke="#dcdcdc" stroke-width=".5"/>
<path d="M417.5,273.7L417.2,275.2L423.0,276.5L423.3,275.1Z" fill="#e2e2e2" stroke="#e2e2e2" stroke-width=".5"/>
<path d="M417.2,275.2L416.7,277.8L422.4,279.2L423.0,276.5Z" fill="#4e4e4e" stroke="#4e4e4e" stroke-width=".5"/>
<path d="M416.7,277.8L413.6,295.5L418.7,296.7L422.4,279.2Z" fill="#dcdcdc" stroke="#dcdcdc" stroke-width=".5"/>
<path d="M413.6,295.5L413.1,298.2L418.1,299.3L418.7,296.7Z" fill="#4b4b4b" stroke="#4b4b4b" stroke-width=".5"/>
<path d="M413.1,298.2L411.6,306.2L416.4,307.4L418.1,299.3Z" fill="#cccccc" stroke="#cccccc" stroke-width=".5"/>
<path d="M432.8,230.9L431.3,237.7L438.1,239.4L439.7,232.5Z" fill="#e6e6e6" stroke="#e6e6e6" stroke-width=".5"/>
<path d="M431.3,237.7L431.0,239.2L437.7,240.9L438.1,239.4Z" fill="#d1d1d1" stroke="#d1d1d1" stroke-width=".5"/>
<path d="M431.0,239.2L426.6,259.6L432.7,261.4L437.7,240.9Z" fill="#cecece" stroke="#cecece" stroke-width=".5"/>
<path d="M426.6,259.6L423.3,275.1L429.0,276.7L432.7,261.4Z" fill="#dddddd" stroke="#dddddd" stroke-width=".5"/>
<path d="M423.3,275.1L423.0,276.5L428.7,278.2L429.0,276.7Z" fill="#e3e3e3" stroke="#e3e3e3" stroke-width=".5"/>
<path d="M423.0,276.5L422.4,279.2L428.0,280.8L428.7,278.2Z" fill="#4f4f4f" stroke="#4f4f4f" stroke-width=".5"/>
<path d="M422.4,279.2L418.7,296.7L423.8,298.1L428.0,280.8Z" fill="#dedede" stroke="#dedede" stroke-width=".5"/>
<path d="M418.7,296.7L418.1,299.3L423.2,300.8L423.8,298.1Z" fill="#4c4c4c" stroke="#4c4c4c" stroke-width=".5"/>
<path d="M418.1,299.3L416.4,307.4L421.2,308.8L423.2,300.8Z" fill="#cbcbcb" stroke="#cbcbcb" stroke-width=".5"/>
<path d="M439.7,232.5L438.1,239.4L444.6,241.3L446.5,234.5Z" fill="#e6e6e6" stroke="#e6e6e6" stroke-width=".5"/>
<path d="M438.1,239.4L437.7,240.9L444.2,242.8L444.6,241.3Z" fill="#d2d2d2" stroke="#d2d2d2" stroke-width=".5"/>
<path d="M437.7,240.9L432.7,261.4L438.7,263.3L444.2,242.8Z" fill="#cecece" stroke="#cecece" stroke-width=".5"/>
<path d="M432.7,261.4L429.0,276.7L434.6,278.7L438.7,263.3Z" fill="#dedede" stroke="#dedede" stroke-width=".5"/>
<path d="M429.0,276.7L428.7,278.2L434.1,280.4L434.6,278.7Z" fill="#e4e4e4" stroke="#e4e4e4" stroke-width=".5"/>
<path d="M428.7,278.2L428.0,280.8L433.4,283.1L434.1,280.4Z" fill="#505050" stroke="#505050" stroke-width=".5"/>
<path d="M428.0,280.8L423.8,298.1L428.9,299.9L433.4,283.1Z" fill="#dfdfdf" stroke="#dfdfdf" stroke-width=".5"/>
<path d="M423.8,298.1L423.2,300.8L428.2,302.5L428.9,299.9Z" fill="#4e4e4e" stroke="#4e4e4e" stroke-width=".5"/>
<path d="M423.2,300.8L421.2,308.8L426.1,310.4L428.2,302.5Z" fill="#cacaca" stroke="#cacaca" stroke-width=".5"/>
<path d="M446.5,234.5L444.6,241.3L451.1,243.4L453.0,236.7Z" fill="#e6e6e6" stroke="#e6e6e6" stroke-width=".5"/>
<path d="M444.6,241.3L444.2,242.8L450.6,244.9L451.1,243.4Z" fill="#d2d2d2" stroke="#d2d2d2" stroke-width=".5"/>
<path d="M444.2,242.8L438.7,263.3L444.6,265.6L450.6,244.9Z" fill="#cecece" stroke="#cecece" stroke-width=".5"/>
<path d="M438.7,263.3L434.6,278.7L439.9,281.6L444.6,265.6Z" fill="#dddddd" stroke="#dddddd" stroke-width=".5"/>
<path d="M434.6,278.7L434.1,280.4L439.2,284.2L439.9,281.6Z" fill="#e6e6e6" stroke="#e6e6e6" stroke-width=".5"/>
<path d="M434.1,280.4L433.4,283.1L438.4,286.9L439.2,284.2Z" fill="#515151" stroke="#515151" stroke-width=".5"/>
<path d="M433.4,283.1L428.9,299.9L433.9,302.4L438.4,286.9Z" fill="#dedede" stroke="#dedede" stroke-width=".5"/>
<path d="M428.9,299.9L428.2,302.5L433.1,305.0L433.9,302.4Z" fill="#505050" stroke="#505050" stroke-width=".5"/>
<path d="M428.2,302.5L426.1,310.4L431.0,312.2L433.1,305.0Z" fill="#cbcbcb" stroke="#cbcbcb" stroke-width=".5"/>
<path d="M453.0,236.7L451.1,243.4L457.4,245.8L459.5,239.2Z" fill="#e6e6e6" stroke="#e6e6e6" stroke-width=".5"/>
<path d="M451.1,243.4L450.6,244.9L456.9,247.3L457.4,245.8Z" fill="#d3d3d3" stroke="#d3d3d3" stroke-width=".5"/>
<path d="M450.6,244.9L444.6,265.6L450.4,268.2L456.9,247.3Z" fill="#cfcfcf" stroke="#cfcfcf" stroke-width=".5"/>
<path d="M444.6,265.6L439.9,281.6L445.2,284.8L450.4,268.2Z" fill="#dcdcdc" stroke="#dcdcdc" stroke-width=".5"/>
<path d="M439.9,281.6L439.2,284.2L444.1,288.3L445.2,284.8Z" fill="#e8e8e8" stroke="#e8e8e8" stroke-width=".5"/>
<path d="M439.2,284.2L438.4,286.9L443.3,290.9L444.1,288.3Z" fill="#535353" stroke="#535353" stroke-width=".5"/>
<path d="M438.4,286.9L433.9,302.4L438.8,305.2L443.3,290.9Z" fill="#dadada" stroke="#dadada" stroke-width=".5"/>
<path d="M433.9,302.4L433.1,305.0L438.0,307.8L438.8,305.2Z" fill="#535353" stroke="#535353" stroke-width=".5"/>
<path d="M433.1,305.0L431.0,312.2L435.9,314.3L438.0,307.8Z" fill="#cccccc" stroke="#cccccc" stroke-width=".5"/>
<path d="M459.5,239.2L457.4,245.8L463.8,248.5L465.9,242.1Z" fill="#e7e7e7" stroke="#e7e7e7" stroke-width=".5"/>
<path d="M457.4,245.8L456.9,247.3L463.3,250.0L463.8,248.5Z" fill="#d3d3d3" stroke="#d3d3d3" stroke-width=".5"/>
<path d="M456.9,247.3L450.4,268.2L456.2,271.0L463.3,250.0Z" fill="#cfcfcf" stroke="#cfcfcf" stroke-width=".5"/>
<path d="M450.4,268.2L445.2,284.8L450.3,288.2L456.2,271.0Z" fill="#dbdbdb" stroke="#dbdbdb" stroke-width=".5"/>
<path d="M445.2,284.8L444.1,288.3L448.9,292.6L450.3,288.2Z" fill="#eaeaea" stroke="#eaeaea" stroke-width=".5"/>
<path d="M444.1,288.3L443.3,290.9L448.0,295.2L448.9,292.6Z" fill="#555555" stroke="#555555" stroke-width=".5"/>
<path d="M443.3,290.9L438.8,305.2L443.6,308.3L448.0,295.2Z" fill="#d7d7d7" stroke="#d7d7d7" stroke-width=".5"/>
<path d="M438.8,305.2L438.0,307.8L442.7,310.7L443.6,308.3Z" fill="#555555" stroke="#555555" stroke-width=".5"/>
<path d="M438.0,307.8L435.9,314.3L440.7,316.7L442.7,310.7Z" fill="#cdcdcd" stroke="#cdcdcd" stroke-width=".5"/>
<path d="M465.9,242.1L463.8,248.5L470.3,251.6L472.6,245.3Z" fill="#e7e7e7" stroke="#e7e7e7" stroke-width=".5"/>
<path d="M463.8,248.5L463.3,250.0L469.7,253.0L470.3,251.6Z" fill="#d4d4d4" stroke="#d4d4d4" stroke-width=".5"/>
<path d="M463.3,250.0L456.2,271.0L462.0,274.1L469.7,253.0Z" fill="#d0d0d0" stroke="#d0d0d0" stroke-width=".5"/>
<path d="M456.2,271.0L450.3,288.2L455.4,291.9L462.0,274.1Z" fill="#dadada" stroke="#dadada" stroke-width=".5"/>
<path d="M450.3,288.2L448.9,292.6L453.5,297.2L455.4,291.9Z" fill="#ececec" stroke="#ececec" stroke-width=".5"/>
<path d="M448.9,292.6L448.0,295.2L452.5,299.8L453.5,297.2Z" fill="#575757" stroke="#575757" stroke-width=".5"/>
<path d="M448.0,295.2L443.6,308.3L448.2,311.5L452.5,299.8Z" fill="#d3d3d3" stroke="#d3d3d3" stroke-width=".5"/>
<path d="M443.6,308.3L442.7,310.7L447.3,313.9L448.2,311.5Z" fill="#585858" stroke="#585858" stroke-width=".5"/>
<path d="M442.7,310.7L440.7,316.7L445.4,319.2L447.3,313.9Z" fill="#cecece" stroke="#cecece" stroke-width=".5"/>
<path d="M472.6,245.3L470.3,251.6L476.9,255.0L479.4,248.9Z" fill="#e7e7e7" stroke="#e7e7e7" stroke-width=".5"/>
<path d="M470.3,251.6L469.7,253.0L476.3,256.5L476.9,255.0Z" fill="#d4d4d4" stroke="#d4d4d4" stroke-width=".5"/>
<path d="M469.7,253.0L462.0,274.1L467.7,277.6L476.3,256.5Z" fill="#d0d0d0" stroke="#d0d0d0" stroke-width=".5"/>
<path d="M462.0,274.1L455.4,291.9L460.3,295.9L467.7,277.6Z" fill="#d9d9d9" stroke="#d9d9d9" stroke-width=".5"/>
<path d="M455.4,291.9L453.5,297.2L457.9,302.0L460.3,295.9Z" fill="#eeeeee" stroke="#eeeeee" stroke-width=".5"/>
<path d="M453.5,297.2L452.5,299.8L456.8,304.5L457.9,302.0Z" fill="#595959" stroke="#595959" stroke-width=".5"/>
<path d="M452.5,299.8L448.2,311.5L452.6,315.0L456.8,304.5Z" fill="#d0d0d0" stroke="#d0d0d0" stroke-width=".5"/>
<path d="M448.2,311.5L447.3,313.9L451.7,317.3L452.6,315.0Z" fill="#5b5b5b" stroke="#5b5b5b" stroke-width=".5"/>
<path d="M447.3,313.9L445.4,319.2L449.8,322.0L451.7,317.3Z" fill="#cfcfcf" stroke="#cfcfcf" stroke-width=".5"/>
<path d="M479.4,248.9L476.9,255.0L483.6,258.8L486.2,252.8Z" fill="#e7e7e7" stroke="#e7e7e7" stroke-width=".5"/>
<path d="M476.9,255.0L476.3,256.5L482.9,260.2L483.6,258.8Z" fill="#d5d5d5" stroke="#d5d5d5" stroke-width=".5"/>
<path d="M476.3,256.5L467.7,277.6L473.5,281.3L482.9,260.2Z" fill="#d1d1d1" stroke="#d1d1d1" stroke-width=".5"/>
<path d="M467.7,277.6L460.3,295.9L465.1,300.1L473.5,281.3Z" fill="#d8d8d8" stroke="#d8d8d8" stroke-width=".5"/>
<path d="M460.3,295.9L457.9,302.0L462.0,307.0L465.1,300.1Z" fill="#f0f0f0" stroke="#f0f0f0" stroke-width=".5"/>
<path d="M457.9,302.0L456.8,304.5L460.9,309.5L462.0,307.0Z" fill="#5a5a5a" stroke="#5a5a5a" stroke-width=".5"/>
<path d="M456.8,304.5L452.6,315.0L456.8,318.7L460.9,309.5Z" fill="#cdcdcd" stroke="#cdcdcd" stroke-width=".5"/>
<path d="M452.6,315.0L451.7,317.3L455.8,320.9L456.8,318.7Z" fill="#5d5d5d" stroke="#5d5d5d" stroke-width=".5"/>
<path d="M451.7,317.3L449.8,322.0L454.0,325.0L455.8,320.9Z" fill="#d0d0d0" stroke="#d0d0d0" stroke-width=".5"/>
<path d="M486.2,252.8L483.6,258.8L490.2,262.9L493.0,257.1Z" fill="#e8e8e8" stroke="#e8e8e8" stroke-width=".5"/>
<path d="M483.6,258.8L482.9,260.2L489.5,264.3L490.2,262.9Z" fill="#d5d5d5" stroke="#d5d5d5" stroke-width=".5"/>
<path d="M482.9,260.2L473.5,281.3L479.1,285.4L489.5,264.3Z" fill="#d1d1d1" stroke="#d1d1d1" stroke-width=".5"/>
<path d="M473.5,281.3L465.1,300.1L469.6,304.6L479.1,285.4Z" fill="#d8d8d8" stroke="#d8d8d8" stroke-width=".5"/>
<path d="M465.1,300.1L462.0,307.0L465.9,312.2L469.6,304.6Z" fill="#f3f3f3" stroke="#f3f3f3" stroke-width=".5"/>
<path d="M462.0,307.0L460.9,309.5L464.6,314.7L465.9,312.2Z" fill="#5c5c5c" stroke="#5c5c5c" stroke-width=".5"/>
<path d="M460.9,309.5L456.8,318.7L460.7,322.6L464.6,314.7Z" fill="#c9c9c9" stroke="#c9c9c9" stroke-width=".5"/>
<path d="M456.8,318.7L455.8,320.9L459.7,324.8L460.7,322.6Z" fill="#606060" stroke="#606060" stroke-width=".5"/>
<path d="M455.8,320.9L454.0,325.0L458.0,328.3L459.7,324.8Z" fill="#d0d0d0" stroke="#d0d0d0" stroke-width=".5"/>
<path d="M493.0,257.1L490.2,262.9L496.6,267.3L499.6,261.7Z" fill="#e8e8e8" stroke="#e8e8e8" stroke-width=".5"/>
<path d="M490.2,262.9L489.5,264.3L495.9,268.7L496.6,267.3Z" fill="#d6d6d6" stroke="#d6d6d6" stroke-width=".5"/>
<path d="M489.5,264.3L479.1,285.4L484.5,289.7L495.9,268.7Z" fill="#d2d2d2" stroke="#d2d2d2" stroke-width=".5"/>
<path d="M479.1,285.4L469.6,304.6L473.9,309.3L484.5,289.7Z" fill="#d7d7d7" stroke="#d7d7d7" stroke-width=".5"/>
<path d="M469.6,304.6L465.9,312.2L469.4,317.7L473.9,309.3Z" fill="#f5f5f5" stroke="#f5f5f5" stroke-width=".5"/>
<path d="M465.9,312.2L464.6,314.7L468.1,320.1L469.4,317.7Z" fill="#5e5e5e" stroke="#5e5e5e" stroke-width=".5"/>
<path d="M464.6,314.7L460.7,322.6L464.5,326.9L468.1,320.1Z" fill="#c6c6c6" stroke="#c6c6c6" stroke-width=".5"/>
<path d="M460.7,322.6L459.7,324.8L463.3,329.0L464.5,326.9Z" fill="#636363" stroke="#636363" stroke-width=".5"/>
<path d="M459.7,324.8L458.0,328.3L461.8,331.8L463.3,329.0Z" fill="#d1d1d1" stroke="#d1d1d1" stroke-width=".5"/>
<path d="M499.6,261.7L496.6,267.3L502.8,272.1L505.9,266.6Z" fill="#e8e8e8" stroke="#e8e8e8" stroke-width=".5"/>
<path d="M496.6,267.3L495.9,268.7L501.9,273.4L502.8,272.1Z" fill="#d6d6d6" stroke="#d6d6d6" stroke-width=".5"/>
<path d="M495.9,268.7L484.5,289.7L489.7,294.2L501.9,273.4Z" fill="#d2d2d2" stroke="#d2d2d2" stroke-width=".5"/>
<path d="M484.5,289.7L473.9,309.3L478.1,314.2L489.7,294.2Z" fill="#d6d6d6" stroke="#d6d6d6" stroke-width=".5"/>
<path d="M473.9,309.3L469.4,317.7L473.3,322.3L478.1,314.2Z" fill="#f6f6f6" stroke="#f6f6f6" stroke-width=".5"/>
<path d="M469.4,317.7L468.1,320.1L471.9,324.7L473.3,322.3Z" fill="#606060" stroke="#606060" stroke-width=".5"/>
<path d="M468.1,320.1L464.5,326.9L468.2,330.9L471.9,324.7Z" fill="#c3c3c3" stroke="#c3c3c3" stroke-width=".5"/>
<path d="M464.5,326.9L463.3,329.0L467.1,332.9L468.2,330.9Z" fill="#666666" stroke="#666666" stroke-width=".5"/>
<path d="M463.3,329.0L461.8,331.8L465.5,335.6L467.1,332.9Z" fill="#d2d2d2" stroke="#d2d2d2" stroke-width=".5"/>
<path d="M505.9,266.6L502.8,272.1L508.6,277.0L511.9,271.8Z" fill="#e8e8e8" stroke="#e8e8e8" stroke-width=".5"/>
<path d="M502.8,272.1L501.9,273.4L507.7,278.4L508.6,277.0Z" fill="#d6d6d6" stroke="#d6d6d6" stroke-width=".5"/>
<path d="M501.9,273.4L489.7,294.2L494.7,299.0L507.7,278.4Z" fill="#d2d2d2" stroke="#d2d2d2" stroke-width=".5"/>
<path d="M489.7,294.2L478.1,314.2L481.9,319.2L494.7,299.0Z" fill="#d6d6d6" stroke="#d6d6d6" stroke-width=".5"/>
<path d="M478.1,314.2L473.3,322.3L477.0,327.0L481.9,319.2Z" fill="#f6f6f6" stroke="#f6f6f6" stroke-width=".5"/>
<path d="M473.3,322.3L471.9,324.7L475.5,329.4L477.0,327.0Z" fill="#646464" stroke="#646464" stroke-width=".5"/>
<path d="M471.9,324.7L468.2,330.9L471.8,335.2L475.5,329.4Z" fill="#c0c0c0" stroke="#c0c0c0" stroke-width=".5"/>
<path d="M468.2,330.9L467.1,332.9L470.7,337.0L471.8,335.2Z" fill="#6c6c6c" stroke="#6c6c6c" stroke-width=".5"/>
<path d="M467.1,332.9L465.5,335.6L469.0,339.7L470.7,337.0Z" fill="#d3d3d3" stroke="#d3d3d3" stroke-width=".5"/>
<path d="M511.9,271.8L508.6,277.0L514.2,282.2L517.6,277.2Z" fill="#e7e7e7" stroke="#e7e7e7" stroke-width=".5"/>
<path d="M508.6,277.0L507.7,278.4L513.2,283.6L514.2,282.2Z" fill="#d6d6d6" stroke="#d6d6d6" stroke-width=".5"/>
<path d="M507.7,278.4L494.7,299.0L499.5,303.9L513.2,283.6Z" fill="#d2d2d2" stroke="#d2d2d2" stroke-width=".5"/>
<path d="M494.7,299.0L481.9,319.2L485.5,324.4L499.5,303.9Z" fill="#d6d6d6" stroke="#d6d6d6" stroke-width=".5"/>
<path d="M481.9,319.2L477.0,327.0L480.4,332.0L485.5,324.4Z" fill="#f7f7f7" stroke="#f7f7f7" stroke-width=".5"/>
<path d="M477.0,327.0L475.5,329.4L478.8,334.3L480.4,332.0Z" fill="#676767" stroke="#676767" stroke-width=".5"/>
<path d="M475.5,329.4L471.8,335.2L475.2,339.7L478.8,334.3Z" fill="#bebebe" stroke="#bebebe" stroke-width=".5"/>
<path d="M471.8,335.2L470.7,337.0L474.0,341.4L475.2,339.7Z" fill="#717171" stroke="#717171" stroke-width=".5"/>
<path d="M470.7,337.0L469.0,339.7L472.3,343.9L474.0,341.4Z" fill="#d4d4d4" stroke="#d4d4d4" stroke-width=".5"/>
<path d="M517.6,277.2L514.2,282.2L519.5,287.7L523.0,282.9Z" fill="#e7e7e7" stroke="#e7e7e7" stroke-width=".5"/>
<path d="M514.2,282.2L513.2,283.6L518.5,289.0L519.5,287.7Z" fill="#d5d5d5" stroke="#d5d5d5" stroke-width=".5"/>
<path d="M513.2,283.6L499.5,303.9L504.0,309.0L518.5,289.0Z" fill="#d2d2d2" stroke="#d2d2d2" stroke-width=".5"/>
<path d="M499.5,303.9L485.5,324.4L488.8,329.8L504.0,309.0Z" fill="#d6d6d6" stroke="#d6d6d6" stroke-width=".5"/>
<path d="M485.5,324.4L480.4,332.0L483.6,337.0L488.8,329.8Z" fill="#f7f7f7" stroke="#f7f7f7" stroke-width=".5"/>
<path d="M480.4,332.0L478.8,334.3L481.9,339.3L483.6,337.0Z" fill="#6a6a6a" stroke="#6a6a6a" stroke-width=".5"/>
<path d="M478.8,334.3L475.2,339.7L478.3,344.2L481.9,339.3Z" fill="#bbbbbb" stroke="#bbbbbb" stroke-width=".5"/>
<path d="M475.2,339.7L474.0,341.4L477.2,345.8L478.3,344.2Z" fill="#767676" stroke="#767676" stroke-width=".5"/>
<path d="M474.0,341.4L472.3,343.9L475.4,348.2L477.2,345.8Z" fill="#d5d5d5" stroke="#d5d5d5" stroke-width=".5"/>
<path d="M523.0,282.9L519.5,287.7L524.6,293.3L528.2,288.7Z" fill="#e7e7e7" stroke="#e7e7e7" stroke-width=".5"/>
<path d="M519.5,287.7L518.5,289.0L523.6,294.6L524.6,293.3Z" fill="#d5d5d5" stroke="#d5d5d5" stroke-width=".5"/>
<path d="M518.5,289.0L504.0,309.0L508.2,314.2L523.6,294.6Z" fill="#d2d2d2" stroke="#d2d2d2" stroke-width=".5"/>
<path d="M504.0,309.0L488.8,329.8L491.8,335.1L508.2,314.2Z" fill="#d6d6d6" stroke="#d6d6d6" stroke-width=".5"/>
<path d="M488.8,329.8L483.6,337.0L486.4,342.0L491.8,335.1Z" fill="#f7f7f7" stroke="#f7f7f7" stroke-width=".5"/>
<path d="M483.6,337.0L481.9,339.3L484.7,344.3L486.4,342.0Z" fill="#6d6d6d" stroke="#6d6d6d" stroke-width=".5"/>
<path d="M481.9,339.3L478.3,344.2L481.1,348.8L484.7,344.3Z" fill="#b9b9b9" stroke="#b9b9b9" stroke-width=".5"/>
<path d="M478.3,344.2L477.2,345.8L480.0,350.2L481.1,348.8Z" fill="#7b7b7b" stroke="#7b7b7b" stroke-width=".5"/>
<path d="M477.2,345.8L475.4,348.2L478.2,352.5L480.0,350.2Z" fill="#d6d6d6" stroke="#d6d6d6" stroke-width=".5"/>
<path d="M528.2,288.7L524.6,293.3L529.5,299.2L533.1,294.8Z" fill="#e6e6e6" stroke="#e6e6e6" stroke-width=".5"/>
<path d="M524.6,293.3L523.6,294.6L528.4,300.4L529.5,299.2Z" fill="#d5d5d5" stroke="#d5d5d5" stroke-width=".5"/>
<path d="M523.6,294.6L508.2,314.2L512.2,319.6L528.4,300.4Z" fill="#d2d2d2" stroke="#d2d2d2" stroke-width=".5"/>
<path d="M508.2,314.2L491.8,335.1L494.6,340.6L512.2,319.6Z" fill="#d6d6d6" stroke="#d6d6d6" stroke-width=".5"/>
<path d="M491.8,335.1L486.4,342.0L489.0,347.2L494.6,340.6Z" fill="#f8f8f8" stroke="#f8f8f8" stroke-width=".5"/>
<path d="M486.4,342.0L484.7,344.3L487.2,349.3L489.0,347.2Z" fill="#717171" stroke="#717171" stroke-width=".5"/>
<path d="M484.7,344.3L481.1,348.8L483.7,353.5L487.2,349.3Z" fill="#b6b6b6" stroke="#b6b6b6" stroke-width=".5"/>
<path d="M481.1,348.8L480.0,350.2L482.7,354.7L483.7,353.5Z" fill="#818181" stroke="#818181" stroke-width=".5"/>
<path d="M480.0,350.2L478.2,352.5L480.8,356.9L482.7,354.7Z" fill="#d7d7d7" stroke="#d7d7d7" stroke-width=".5"/>
<path d="M533.1,294.8L529.5,299.2L534.2,305.3L537.9,301.1Z" fill="#e6e6e6" stroke="#e6e6e6" stroke-width=".5"/>
<path d="M529.5,299.2L528.4,300.4L533.1,306.5L534.2,305.3Z" fill="#d5d5d5" stroke="#d5d5d5" stroke-width=".5"/>
<path d="M528.4,300.4L512.2,319.6L516.0,325.3L533.1,306.5Z" fill="#d2d2d2" stroke="#d2d2d2" stroke-width=".5"/>
<path d="M512.2,319.6L494.6,340.6L497.0,346.2L516.0,325.3Z" fill="#d6d6d6" stroke="#d6d6d6" stroke-width=".5"/>
<path d="M494.6,340.6L489.0,347.2L491.4,352.5L497.0,346.2Z" fill="#f8f8f8" stroke="#f8f8f8" stroke-width=".5"/>
<path d="M489.0,347.2L487.2,349.3L489.4,354.6L491.4,352.5Z" fill="#747474" stroke="#747474" stroke-width=".5"/>
<path d="M487.2,349.3L483.7,353.5L486.1,358.3L489.4,354.6Z" fill="#b4b4b4" stroke="#b4b4b4" stroke-width=".5"/>
<path d="M483.7,353.5L482.7,354.7L485.0,359.4L486.1,358.3Z" fill="#868686" stroke="#868686" stroke-width=".5"/>
<path d="M482.7,354.7L480.8,356.9L483.2,361.5L485.0,359.4Z" fill="#d8d8d8" stroke="#d8d8d8" stroke-width=".5"/>
<path d="M537.9,301.1L534.2,305.3L538.7,311.7L542.5,307.7Z" fill="#e6e6e6" stroke="#e6e6e6" stroke-width=".5"/>
<path d="M534.2,305.3L533.1,306.5L537.5,312.8L538.7,311.7Z" fill="#d5d5d5" stroke="#d5d5d5" stroke-width=".5"/>
<path d="M533.1,306.5L516.0,325.3L519.6,331.2L537.5,312.8Z" fill="#d2d2d2" stroke="#d2d2d2" stroke-width=".5"/>
<path d="M516.0,325.3L497.0,346.2L499.2,352.1L519.6,331.2Z" fill="#d6d6d6" stroke="#d6d6d6" stroke-width=".5"/>
<path d="M497.0,346.2L491.4,352.5L493.5,358.0L499.2,352.1Z" fill="#f8f8f8" stroke="#f8f8f8" stroke-width=".5"/>
<path d="M491.4,352.5L489.4,354.6L491.5,360.0L493.5,358.0Z" fill="#777777" stroke="#777777" stroke-width=".5"/>
<path d="M489.4,354.6L486.1,358.3L488.2,363.3L491.5,360.0Z" fill="#b1b1b1" stroke="#b1b1b1" stroke-width=".5"/>
<path d="M486.1,358.3L485.0,359.4L487.2,364.4L488.2,363.3Z" fill="#8b8b8b" stroke="#8b8b8b" stroke-width=".5"/>
<path d="M485.0,359.4L483.2,361.5L485.3,366.3L487.2,364.4Z" fill="#d9d9d9" stroke="#d9d9d9" stroke-width=".5"/>
<path d="M542.5,307.7L538.7,311.7L543.0,318.4L546.9,314.7Z" fill="#e5e5e5" stroke="#e5e5e5" stroke-width=".5"/>
<path d="M538.7,311.7L537.5,312.8L541.8,319.5L543.0,318.4Z" fill="#d5d5d5" stroke="#d5d5d5" stroke-width=".5"/>
<path d="M537.5,312.8L519.6,331.2L523.1,337.4L541.8,319.5Z" fill="#d2d2d2" stroke="#d2d2d2" stroke-width=".5"/>
<path d="M519.6,331.2L499.2,352.1L501.2,358.2L523.1,337.4Z" fill="#d6d6d6" stroke="#d6d6d6" stroke-width=".5"/>
<path d="M499.2,352.1L493.5,358.0L495.4,363.8L501.2,358.2Z" fill="#f9f9f9" stroke="#f9f9f9" stroke-width=".5"/>
<path d="M493.5,358.0L491.5,360.0L493.3,365.8L495.4,363.8Z" fill="#7a7a7a" stroke="#7a7a7a" stroke-width=".5"/>
<path d="M491.5,360.0L488.2,363.3L490.2,368.7L493.3,365.8Z" fill="#afafaf" stroke="#afafaf" stroke-width=".5"/>
<path d="M488.2,363.3L487.2,364.4L489.3,369.6L490.2,368.7Z" fill="#909090" stroke="#909090" stroke-width=".5"/>
<path d="M487.2,364.4L485.3,366.3L487.3,371.5L489.3,369.6Z" fill="#dadada" stroke="#dadada" stroke-width=".5"/>
<path d="M546.9,314.7L543.0,318.4L547.1,325.4L551.1,321.8Z" fill="#e5e5e5" stroke="#e5e5e5" stroke-width=".5"/>
<path d="M543.0,318.4L541.8,319.5L545.9,326.5L547.1,325.4Z" fill="#d4d4d4" stroke="#d4d4d4" stroke-width=".5"/>
<path d="M541.8,319.5L523.1,337.4L526.3,343.8L545.9,326.5Z" fill="#d2d2d2" stroke="#d2d2d2" stroke-width=".5"/>
<path d="M523.1,337.4L501.2,358.2L503.0,364.5L526.3,343.8Z" fill="#d6d6d6" stroke="#d6d6d6" stroke-width=".5"/>
<path d="M501.2,358.2L495.4,363.8L497.1,369.8L503.0,364.5Z" fill="#f9f9f9" stroke="#f9f9f9" stroke-width=".5"/>
<path d="M495.4,363.8L493.3,365.8L494.9,371.7L497.1,369.8Z" fill="#7d7d7d" stroke="#7d7d7d" stroke-width=".5"/>
<path d="M493.3,365.8L490.2,368.7L492.0,374.3L494.9,371.7Z" fill="#acacac" stroke="#acacac" stroke-width=".5"/>
<path d="M490.2,368.7L489.3,369.6L491.2,375.1L492.0,374.3Z" fill="#959595" stroke="#959595" stroke-width=".5"/>
<path d="M489.3,369.6L487.3,371.5L489.2,376.9L491.2,375.1Z" fill="#dbdbdb" stroke="#dbdbdb" stroke-width=".5"/>
<path d="M551.1,321.8L547.1,325.4L551.0,332.5L554.9,329.2Z" fill="#e5e5e5" stroke="#e5e5e5" stroke-width=".5"/>
<path d="M547.1,325.4L545.9,326.5L549.7,333.5L551.0,332.5Z" fill="#d4d4d4" stroke="#d4d4d4" stroke-width=".5"/>
<path d="M545.9,326.5L526.3,343.8L529.3,350.4L549.7,333.5Z" fill="#d2d2d2" stroke="#d2d2d2" stroke-width=".5"/>
<path d="M526.3,343.8L503.0,364.5L504.6,370.9L529.3,350.4Z" fill="#d6d6d6" stroke="#d6d6d6" stroke-width=".5"/>
<path d="M503.0,364.5L497.1,369.8L498.6,375.9L504.6,370.9Z" fill="#f9f9f9" stroke="#f9f9f9" stroke-width=".5"/>
<path d="M497.1,369.8L494.9,371.7L496.4,377.7L498.6,375.9Z" fill="#818181" stroke="#818181" stroke-width=".5"/>
<path d="M494.9,371.7L492.0,374.3L493.7,380.0L496.4,377.7Z" fill="#aaaaaa" stroke="#aaaaaa" stroke-width=".5"/>
<path d="M492.0,374.3L491.2,375.1L492.9,380.6L493.7,380.0Z" fill="#9b9b9b" stroke="#9b9b9b" stroke-width=".5"/>
<path d="M491.2,375.1L489.2,376.9L490.9,382.3L492.9,380.6Z" fill="#dcdcdc" stroke="#dcdcdc" stroke-width=".5"/>
<path d="M554.9,329.2L551.0,332.5L554.5,339.6L558.5,336.5Z" fill="#e4e4e4" stroke="#e4e4e4" stroke-width=".5"/>
<path d="M551.0,332.5L549.7,333.5L553.1,340.7L554.5,339.6Z" fill="#d4d4d4" stroke="#d4d4d4" stroke-width=".5"/>
<path d="M549.7,333.5L529.3,350.4L532.0,357.0L553.1,340.7Z" fill="#d2d2d2" stroke="#d2d2d2" stroke-width=".5"/>
<path d="M529.3,350.4L504.6,370.9L505.9,377.2L532.0,357.0Z" fill="#d6d6d6" stroke="#d6d6d6" stroke-width=".5"/>
<path d="M504.6,370.9L498.6,375.9L499.9,381.8L505.9,377.2Z" fill="#fafafa" stroke="#fafafa" stroke-width=".5"/>
<path d="M498.6,375.9L496.4,377.7L497.5,383.6L499.9,381.8Z" fill="#848484" stroke="#848484" stroke-width=".5"/>
<path d="M496.4,377.7L493.7,380.0L495.1,385.5L497.5,383.6Z" fill="#a7a7a7" stroke="#a7a7a7" stroke-width=".5"/>
<path d="M493.7,380.0L492.9,380.6L494.4,386.0L495.1,385.5Z" fill="#a0a0a0" stroke="#a0a0a0" stroke-width=".5"/>
<path d="M492.9,380.6L490.9,382.3L492.4,387.6L494.4,386.0Z" fill="#dddddd" stroke="#dddddd" stroke-width=".5"/>
<path d="M558.5,336.5L554.5,339.6L557.6,346.7L561.6,343.8Z" fill="#e4e4e4" stroke="#e4e4e4" stroke-width=".5"/>
<path d="M554.5,339.6L553.1,340.7L556.2,347.7L557.6,346.7Z" fill="#d4d4d4" stroke="#d4d4d4" stroke-width=".5"/>
<path d="M553.1,340.7L532.0,357.0L534.4,363.3L556.2,347.7Z" fill="#d2d2d2" stroke="#d2d2d2" stroke-width=".5"/>
<path d="M532.0,357.0L505.9,377.2L507.9,382.4L534.4,363.3Z" fill="#d6d6d6" stroke="#d6d6d6" stroke-width=".5"/>
<path d="M505.9,377.2L499.9,381.8L501.1,387.2L507.9,382.4Z" fill="#fafafa" stroke="#fafafa" stroke-width=".5"/>
<path d="M499.9,381.8L497.5,383.6L498.7,388.9L501.1,387.2Z" fill="#868686" stroke="#868686" stroke-width=".5"/>
<path d="M497.5,383.6L495.1,385.5L496.2,390.7L498.7,388.9Z" fill="#a7a7a7" stroke="#a7a7a7" stroke-width=".5"/>
<path d="M495.1,385.5L494.4,386.0L495.6,391.2L496.2,390.7Z" fill="#a5a5a5" stroke="#a5a5a5" stroke-width=".5"/>
<path d="M494.4,386.0L492.4,387.6L493.7,392.6L495.6,391.2Z" fill="#dddddd" stroke="#dddddd" stroke-width=".5"/>
<path d="M561.6,343.8L557.6,346.7L560.3,353.7L564.3,351.0Z" fill="#e4e4e4" stroke="#e4e4e4" stroke-width=".5"/>
<path d="M557.6,346.7L556.2,347.7L558.9,354.6L560.3,353.7Z" fill="#d4d4d4" stroke="#d4d4d4" stroke-width=".5"/>
<path d="M556.2,347.7L534.4,363.3L536.5,369.5L558.9,354.6Z" fill="#d2d2d2" stroke="#d2d2d2" stroke-width=".5"/>
<path d="M534.4,363.3L507.9,382.4L510.5,386.8L536.5,369.5Z" fill="#d6d6d6" stroke="#d6d6d6" stroke-width=".5"/>
<path d="M507.9,382.4L501.1,387.2L502.3,392.2L510.5,386.8Z" fill="#fbfbfb" stroke="#fbfbfb" stroke-width=".5"/>
<path d="M501.1,387.2L498.7,388.9L499.9,393.8L502.3,392.2Z" fill="#858585" stroke="#858585" stroke-width=".5"/>
<path d="M498.7,388.9L496.2,390.7L497.2,395.6L499.9,393.8Z" fill="#ababab" stroke="#ababab" stroke-width=".5"/>
<path d="M496.2,390.7L495.6,391.2L496.5,396.0L497.2,395.6Z" fill="#ababab" stroke="#ababab" stroke-width=".5"/>
<path d="M495.6,391.2L493.7,392.6L494.8,397.2L496.5,396.0Z" fill="#dddddd" stroke="#dddddd" stroke-width=".5"/>
<path d="M564.3,351.0L560.3,353.7L562.7,360.7L566.7,358.2Z" fill="#e4e4e4" stroke="#e4e4e4" stroke-width=".5"/>
<path d="M560.3,353.7L558.9,354.6L561.2,361.6L562.7,360.7Z" fill="#d5d5d5" stroke="#d5d5d5" stroke-width=".5"/>
<path d="M558.9,354.6L536.5,369.5L538.3,375.5L561.2,361.6Z" fill="#d3d3d3" stroke="#d3d3d3" stroke-width=".5"/>
<path d="M536.5,369.5L510.5,386.8L512.9,391.0L538.3,375.5Z" fill="#d7d7d7" stroke="#d7d7d7" stroke-width=".5"/>
<path d="M510.5,386.8L502.3,392.2L503.3,396.9L512.9,391.0Z" fill="#fbfbfb" stroke="#fbfbfb" stroke-width=".5"/>
<path d="M502.3,392.2L499.9,393.8L500.9,398.3L503.3,396.9Z" fill="#838383" stroke="#838383" stroke-width=".5"/>
<path d="M499.9,393.8L497.2,395.6L497.9,400.2L500.9,398.3Z" fill="#b1b1b1" stroke="#b1b1b1" stroke-width=".5"/>
<path d="M497.2,395.6L496.5,396.0L497.3,400.5L497.9,400.2Z" fill="#b1b1b1" stroke="#b1b1b1" stroke-width=".5"/>
<path d="M496.5,396.0L494.8,397.2L495.7,401.5L497.3,400.5Z" fill="#dcdcdc" stroke="#dcdcdc" stroke-width=".5"/>
<path d="M566.7,358.2L562.7,360.7L564.8,367.7L568.8,365.5Z" fill="#e4e4e4" stroke="#e4e4e4" stroke-width=".5"/>
<path d="M562.7,360.7L561.2,361.6L563.3,368.5L564.8,367.7Z" fill="#d5d5d5" stroke="#d5d5d5" stroke-width=".5"/>
<path d="M561.2,361.6L538.3,375.5L539.9,381.5L563.3,368.5Z" fill="#d3d3d3" stroke="#d3d3d3" stroke-width=".5"/>
<path d="M538.3,375.5L512.9,391.0L515.3,395.2L539.9,381.5Z" fill="#d7d7d7" stroke="#d7d7d7" stroke-width=".5"/>
<path d="M512.9,391.0L503.3,396.9L504.2,401.3L515.3,395.2Z" fill="#fcfcfc" stroke="#fcfcfc" stroke-width=".5"/>
<path d="M503.3,396.9L500.9,398.3L501.8,402.7L504.2,401.3Z" fill="#828282" stroke="#828282" stroke-width=".5"/>
<path d="M500.9,398.3L497.9,400.2L498.5,404.5L501.8,402.7Z" fill="#b6b6b6" stroke="#b6b6b6" stroke-width=".5"/>
<path d="M497.9,400.2L497.3,400.5L497.9,404.8L498.5,404.5Z" fill="#b6b6b6" stroke="#b6b6b6" stroke-width=".5"/>
<path d="M497.3,400.5L495.7,401.5L496.5,405.6L497.9,404.8Z" fill="#dadada" stroke="#dadada" stroke-width=".5"/>
<path d="M568.8,365.5L564.8,367.7L566.7,374.9L570.7,372.9Z" fill="#e4e4e4" stroke="#e4e4e4" stroke-width=".5"/>
<path d="M564.8,367.7L563.3,368.5L565.3,375.6L566.7,374.9Z" fill="#d6d6d6" stroke="#d6d6d6" stroke-width=".5"/>
<path d="M563.3,368.5L539.9,381.5L541.3,387.5L565.3,375.6Z" fill="#d4d4d4" stroke="#d4d4d4" stroke-width=".5"/>
<path d="M539.9,381.5L515.3,395.2L517.6,399.4L541.3,387.5Z" fill="#d8d8d8" stroke="#d8d8d8" stroke-width=".5"/>
<path d="M515.3,395.2L504.2,401.3L505.0,405.7L517.6,399.4Z" fill="#fcfcfc" stroke="#fcfcfc" stroke-width=".5"/>
<path d="M504.2,401.3L501.8,402.7L502.6,406.9L505.0,405.7Z" fill="#808080" stroke="#808080" stroke-width=".5"/>
<path d="M501.8,402.7L498.5,404.5L499.0,408.7L502.6,406.9Z" fill="#bcbcbc" stroke="#bcbcbc" stroke-width=".5"/>
<path d="M498.5,404.5L497.9,404.8L498.5,408.9L499.0,408.7Z" fill="#bcbcbc" stroke="#bcbcbc" stroke-width=".5"/>
<path d="M497.9,404.8L496.5,405.6L497.3,409.5L498.5,408.9Z" fill="#d9d9d9" stroke="#d9d9d9" stroke-width=".5"/>
<path d="M570.7,372.9L566.7,374.9L568.5,382.2L572.5,380.4Z" fill="#e4e4e4" stroke="#e4e4e4" stroke-width=".5"/>
<path d="M566.7,374.9L565.3,375.6L567.0,382.8L568.5,382.2Z" fill="#d6d6d6" stroke="#d6d6d6" stroke-width=".5"/>
<path d="M565.3,375.6L541.3,387.5L542.6,393.6L567.0,382.8Z" fill="#d4d4d4" stroke="#d4d4d4" stroke-width=".5"/>
<path d="M541.3,387.5L517.6,399.4L519.8,403.7L542.6,393.6Z" fill="#d8d8d8" stroke="#d8d8d8" stroke-width=".5"/>
<path d="M517.6,399.4L505.0,405.7L505.6,410.0L519.8,403.7Z" fill="#fdfdfd" stroke="#fdfdfd" stroke-width=".5"/>
<path d="M505.0,405.7L502.6,406.9L503.3,411.0L505.6,410.0Z" fill="#7e7e7e" stroke="#7e7e7e" stroke-width=".5"/>
<path d="M502.6,406.9L499.0,408.7L499.4,412.7L503.3,411.0Z" fill="#c2c2c2" stroke="#c2c2c2" stroke-width=".5"/>
<path d="M499.0,408.7L498.5,408.9L498.9,413.0L499.4,412.7Z" fill="#c2c2c2" stroke="#c2c2c2" stroke-width=".5"/>
<path d="M498.5,408.9L497.3,409.5L497.9,413.4L498.9,413.0Z" fill="#d8d8d8" stroke="#d8d8d8" stroke-width=".5"/>
<path d="M572.5,380.4L568.5,382.2L570.1,389.4L574.0,387.8Z" fill="#e4e4e4" stroke="#e4e4e4" stroke-width=".5"/>
<path d="M568.5,382.2L567.0,382.8L568.5,390.0L570.1,389.4Z" fill="#d7d7d7" stroke="#d7d7d7" stroke-width=".5"/>
<path d="M567.0,382.8L542.6,393.6L543.8,399.7L568.5,390.0Z" fill="#d5d5d5" stroke="#d5d5d5" stroke-width=".5"/>
<path d="M542.6,393.6L519.8,403.7L521.9,408.2L543.8,399.7Z" fill="#d9d9d9" stroke="#d9d9d9" stroke-width=".5"/>
<path d="M519.8,403.7L505.6,410.0L506.2,414.4L521.9,408.2Z" fill="#fefefe" stroke="#fefefe" stroke-width=".5"/>
<path d="M505.6,410.0L503.3,411.0L503.8,415.3L506.2,414.4Z" fill="#7c7c7c" stroke="#7c7c7c" stroke-width=".5"/>
<path d="M503.3,411.0L499.4,412.7L499.7,416.9L503.8,415.3Z" fill="#c7c7c7" stroke="#c7c7c7" stroke-width=".5"/>
<path d="M499.4,412.7L498.9,413.0L499.2,417.1L499.7,416.9Z" fill="#c7c7c7" stroke="#c7c7c7" stroke-width=".5"/>
<path d="M498.9,413.0L497.9,413.4L498.5,417.4L499.2,417.1Z" fill="#d7d7d7" stroke="#d7d7d7" stroke-width=".5"/>
<path d="M574.0,387.8L570.1,389.4L571.4,396.3L575.2,395.0Z" fill="#e4e4e4" stroke="#e4e4e4" stroke-width=".5"/>
<path d="M570.1,389.4L568.5,390.0L569.8,396.9L571.4,396.3Z" fill="#d7d7d7" stroke="#d7d7d7" stroke-width=".5"/>
<path d="M568.5,390.0L543.8,399.7L544.7,405.6L569.8,396.9Z" fill="#d5d5d5" stroke="#d5d5d5" stroke-width=".5"/>
<path d="M543.8,399.7L521.9,408.2L523.8,412.9L544.7,405.6Z" fill="#d9d9d9" stroke="#d9d9d9" stroke-width=".5"/>
<path d="M521.9,408.2L506.2,414.4L506.5,418.9L523.8,412.9Z" fill="#fefefe" stroke="#fefefe" stroke-width=".5"/>
<path d="M506.2,414.4L503.8,415.3L504.2,419.7L506.5,418.9Z" fill="#7a7a7a" stroke="#7a7a7a" stroke-width=".5"/>
<path d="M503.8,415.3L499.7,416.9L499.8,421.3L504.2,419.7Z" fill="#cdcdcd" stroke="#cdcdcd" stroke-width=".5"/>
<path d="M499.7,416.9L499.2,417.1L499.4,421.4L499.8,421.3Z" fill="#cdcdcd" stroke="#cdcdcd" stroke-width=".5"/>
<path d="M499.2,417.1L498.5,417.4L498.8,421.6L499.4,421.4Z" fill="#d6d6d6" stroke="#d6d6d6" stroke-width=".5"/>
<path d="M575.2,395.0L571.4,396.3L572.4,402.8L576.2,401.6Z" fill="#e4e4e4" stroke="#e4e4e4" stroke-width=".5"/>
<path d="M571.4,396.3L569.8,396.9L570.8,403.3L572.4,402.8Z" fill="#d8d8d8" stroke="#d8d8d8" stroke-width=".5"/>
<path d="M569.8,396.9L544.7,405.6L545.3,411.4L570.8,403.3Z" fill="#d6d6d6" stroke="#d6d6d6" stroke-width=".5"/>
<path d="M544.7,405.6L523.8,412.9L525.3,417.8L545.3,411.4Z" fill="#dadada" stroke="#dadada" stroke-width=".5"/>
<path d="M523.8,412.9L506.5,418.9L506.8,423.7L525.3,417.8Z" fill="#ffffff" stroke="#ffffff" stroke-width=".5"/>
<path d="M506.5,418.9L504.2,419.7L504.4,424.5L506.8,423.7Z" fill="#7a7a7a" stroke="#7a7a7a" stroke-width=".5"/>
<path d="M504.2,419.7L499.8,421.3L499.9,425.9L504.4,424.5Z" fill="#d1d1d1" stroke="#d1d1d1" stroke-width=".5"/>
<path d="M499.8,421.3L499.4,421.4L499.5,426.0L499.9,425.9Z" fill="#d1d1d1" stroke="#d1d1d1" stroke-width=".5"/>
<path d="M499.4,421.4L498.8,421.6L499.0,426.2L499.5,426.0Z" fill="#d3d3d3" stroke="#d3d3d3" stroke-width=".5"/>
<path d="M576.2,401.6L572.4,402.8L573.0,408.9L576.8,407.7Z" fill="#e4e4e4" stroke="#e4e4e4" stroke-width=".5"/>
<path d="M572.4,402.8L570.8,403.3L571.4,409.4L573.0,408.9Z" fill="#d8d8d8" stroke="#d8d8d8" stroke-width=".5"/>
<path d="M570.8,403.3L545.3,411.4L545.7,417.1L571.4,409.4Z" fill="#d6d6d6" stroke="#d6d6d6" stroke-width=".5"/>
<path d="M545.3,411.4L525.3,417.8L525.7,423.2L545.7,417.1Z" fill="#dadada" stroke="#dadada" stroke-width=".5"/>
<path d="M525.3,417.8L506.8,423.7L506.9,428.8L525.7,423.2Z" fill="#ffffff" stroke="#ffffff" stroke-width=".5"/>
<path d="M506.8,423.7L504.4,424.5L504.5,429.6L506.9,428.8Z" fill="#818181" stroke="#818181" stroke-width=".5"/>
<path d="M504.4,424.5L499.9,425.9L500.1,430.9L504.5,429.6Z" fill="#d1d1d1" stroke="#d1d1d1" stroke-width=".5"/>
<path d="M499.9,425.9L499.5,426.0L499.8,431.0L500.1,430.9Z" fill="#d1d1d1" stroke="#d1d1d1" stroke-width=".5"/>
<path d="M499.5,426.0L499.0,426.2L499.0,431.2L499.8,431.0Z" fill="#cccccc" stroke="#cccccc" stroke-width=".5"/>
<path d="M576.8,407.7L573.0,408.9L573.2,414.7L577.2,413.6Z" fill="#e4e4e4" stroke="#e4e4e4" stroke-width=".5"/>
<path d="M573.0,408.9L571.4,409.4L571.7,415.2L573.2,414.7Z" fill="#d8d8d8" stroke="#d8d8d8" stroke-width=".5"/>
<path d="M571.4,409.4L545.7,417.1L545.8,422.8L571.7,415.2Z" fill="#d6d6d6" stroke="#d6d6d6" stroke-width=".5"/>
<path d="M545.7,417.1L525.7,423.2L525.9,428.6L545.8,422.8Z" fill="#dadada" stroke="#dadada" stroke-width=".5"/>
<path d="M525.7,423.2L506.9,428.8L506.9,434.2L525.9,428.6Z" fill="#ffffff" stroke="#ffffff" stroke-width=".5"/>
<path d="M506.9,428.8L504.5,429.6L504.4,434.9L506.9,434.2Z" fill="#8c8c8c" stroke="#8c8c8c" stroke-width=".5"/>
<path d="M504.5,429.6L500.1,430.9L500.2,436.1L504.4,434.9Z" fill="#cdcdcd" stroke="#cdcdcd" stroke-width=".5"/>
<path d="M500.1,430.9L499.8,431.0L499.8,436.3L500.2,436.1Z" fill="#cdcdcd" stroke="#cdcdcd" stroke-width=".5"/>
<path d="M499.8,431.0L499.0,431.2L498.8,436.6L499.8,436.3Z" fill="#c1c1c1" stroke="#c1c1c1" stroke-width=".5"/>
<path d="M577.2,413.6L573.2,414.7L573.3,420.6L577.2,419.5Z" fill="#e4e4e4" stroke="#e4e4e4" stroke-width=".5"/>
<path d="M573.2,414.7L571.7,415.2L571.7,421.0L573.3,420.6Z" fill="#d9d9d9" stroke="#d9d9d9" stroke-width=".5"/>
<path d="M571.7,415.2L545.8,422.8L545.7,428.5L571.7,421.0Z" fill="#d7d7d7" stroke="#d7d7d7" stroke-width=".5"/>
<path d="M545.8,422.8L525.9,428.6L525.8,434.2L545.7,428.5Z" fill="#dbdbdb" stroke="#dbdbdb" stroke-width=".5"/>
<path d="M525.9,428.6L506.9,434.2L506.6,439.7L525.8,434.2Z" fill="#ffffff" stroke="#ffffff" stroke-width=".5"/>
<path d="M506.9,434.2L504.4,434.9L504.1,440.4L506.6,439.7Z" fill="#989898" stroke="#989898" stroke-width=".5"/>
<path d="M504.4,434.9L500.2,436.1L500.2,441.6L504.1,440.4Z" fill="#c9c9c9" stroke="#c9c9c9" stroke-width=".5"/>
<path d="M500.2,436.1L499.8,436.3L499.8,441.7L500.2,441.6Z" fill="#c9c9c9" stroke="#c9c9c9" stroke-width=".5"/>
<path d="M499.8,436.3L498.8,436.6L498.5,442.1L499.8,441.7Z" fill="#b5b5b5" stroke="#b5b5b5" stroke-width=".5"/>
<path d="M577.2,419.5L573.3,420.6L573.0,426.8L577.0,425.7Z" fill="#e4e4e4" stroke="#e4e4e4" stroke-width=".5"/>
<path d="M573.3,420.6L571.7,421.0L571.4,427.3L573.0,426.8Z" fill="#d9d9d9" stroke="#d9d9d9" stroke-width=".5"/>
<path d="M571.7,421.0L545.7,428.5L545.4,434.5L571.4,427.3Z" fill="#d7d7d7" stroke="#d7d7d7" stroke-width=".5"/>
<path d="M545.7,428.5L525.8,434.2L525.6,439.9L545.4,434.5Z" fill="#dbdbdb" stroke="#dbdbdb" stroke-width=".5"/>
<path d="M525.8,434.2L506.6,439.7L506.2,445.3L525.6,439.9Z" fill="#ffffff" stroke="#ffffff" stroke-width=".5"/>
<path d="M506.6,439.7L504.1,440.4L503.7,446.0L506.2,445.3Z" fill="#a3a3a3" stroke="#a3a3a3" stroke-width=".5"/>
<path d="M504.1,440.4L500.2,441.6L499.9,447.1L503.7,446.0Z" fill="#c6c6c6" stroke="#c6c6c6" stroke-width=".5"/>
<path d="M500.2,441.6L499.8,441.7L499.5,447.2L499.9,447.1Z" fill="#c6c6c6" stroke="#c6c6c6" stroke-width=".5"/>
<path d="M499.8,441.7L498.5,442.1L497.9,447.6L499.5,447.2Z" fill="#aaaaaa" stroke="#aaaaaa" stroke-width=".5"/>
<path d="M577.0,425.7L573.0,426.8L572.5,433.6L576.5,432.5Z" fill="#e4e4e4" stroke="#e4e4e4" stroke-width=".5"/>
<path d="M573.0,426.8L571.4,427.3L570.9,434.0L572.5,433.6Z" fill="#d9d9d9" stroke="#d9d9d9" stroke-width=".5"/>
<path d="M571.4,427.3L545.4,434.5L544.8,440.8L570.9,434.0Z" fill="#d7d7d7" stroke="#d7d7d7" stroke-width=".5"/>
<path d="M545.4,434.5L525.6,439.9L525.2,445.8L544.8,440.8Z" fill="#dbdbdb" stroke="#dbdbdb" stroke-width=".5"/>
<path d="M525.6,439.9L506.2,445.3L505.7,450.9L525.2,445.8Z" fill="#ffffff" stroke="#ffffff" stroke-width=".5"/>
<path d="M506.2,445.3L503.7,446.0L503.1,451.6L505.7,450.9Z" fill="#afafaf" stroke="#afafaf" stroke-width=".5"/>
<path d="M503.7,446.0L499.9,447.1L499.6,452.5L503.1,451.6Z" fill="#c2c2c2" stroke="#c2c2c2" stroke-width=".5"/>
<path d="M499.9,447.1L499.5,447.2L499.2,452.6L499.6,452.5Z" fill="#c2c2c2" stroke="#c2c2c2" stroke-width=".5"/>
<path d="M499.5,447.2L497.9,447.6L497.3,453.1L499.2,452.6Z" fill="#9f9f9f" stroke="#9f9f9f" stroke-width=".5"/>
<path d="M576.5,432.5L572.5,433.6L571.8,440.7L575.8,439.8Z" fill="#e4e4e4" stroke="#e4e4e4" stroke-width=".5"/>
<path d="M572.5,433.6L570.9,434.0L570.2,441.1L571.8,440.7Z" fill="#d9d9d9" stroke="#d9d9d9" stroke-width=".5"/>
<path d="M570.9,434.0L544.8,440.8L544.1,447.3L570.2,441.1Z" fill="#d7d7d7" stroke="#d7d7d7" stroke-width=".5"/>
<path d="M544.8,440.8L525.2,445.8L524.6,451.9L544.1,447.3Z" fill="#dbdbdb" stroke="#dbdbdb" stroke-width=".5"/>
<path d="M525.2,445.8L505.7,450.9L505.0,456.5L524.6,451.9Z" fill="#ffffff" stroke="#ffffff" stroke-width=".5"/>
<path d="M505.7,450.9L503.1,451.6L502.3,457.2L505.0,456.5Z" fill="#bababa" stroke="#bababa" stroke-width=".5"/>
<path d="M503.1,451.6L499.6,452.5L499.0,457.9L502.3,457.2Z" fill="#bebebe" stroke="#bebebe" stroke-width=".5"/>
<path d="M499.6,452.5L499.2,452.6L498.6,458.0L499.0,457.9Z" fill="#bebebe" stroke="#bebebe" stroke-width=".5"/>
<path d="M499.2,452.6L497.3,453.1L496.4,458.6L498.6,458.0Z" fill="#949494" stroke="#949494" stroke-width=".5"/>
<path d="M575.8,439.8L571.8,440.7L571.0,448.1L575.0,447.3Z" fill="#e4e4e4" stroke="#e4e4e4" stroke-width=".5"/>
<path d="M571.8,440.7L570.2,441.1L569.4,448.5L571.0,448.1Z" fill="#dadada" stroke="#dadada" stroke-width=".5"/>
<path d="M570.2,441.1L544.1,447.3L543.1,454.0L569.4,448.5Z" fill="#d8d8d8" stroke="#d8d8d8" stroke-width=".5"/>
<path d="M544.1,447.3L524.6,451.9L523.8,458.1L543.1,454.0Z" fill="#dcdcdc" stroke="#dcdcdc" stroke-width=".5"/>
<path d="M524.6,451.9L505.0,456.5L504.0,462.3L523.8,458.1Z" fill="#ffffff" stroke="#ffffff" stroke-width=".5"/>
<path d="M505.0,456.5L502.3,457.2L501.3,462.9L504.0,462.3Z" fill="#c5c5c5" stroke="#c5c5c5" stroke-width=".5"/>
<path d="M502.3,457.2L499.0,457.9L498.3,463.5L501.3,462.9Z" fill="#bababa" stroke="#bababa" stroke-width=".5"/>
<path d="M499.0,457.9L498.6,458.0L497.9,463.6L498.3,463.5Z" fill="#bababa" stroke="#bababa" stroke-width=".5"/>
<path d="M498.6,458.0L496.4,458.6L495.4,464.1L497.9,463.6Z" fill="#898989" stroke="#898989" stroke-width=".5"/>
<path d="M575.0,447.3L571.0,448.1L570.0,455.5L574.0,454.8Z" fill="#e4e4e4" stroke="#e4e4e4" stroke-width=".5"/>
<path d="M571.0,448.1L569.4,448.5L568.4,455.8L570.0,455.5Z" fill="#dadada" stroke="#dadada" stroke-width=".5"/>
<path d="M569.4,448.5L543.1,454.0L542.0,460.8L568.4,455.8Z" fill="#d8d8d8" stroke="#d8d8d8" stroke-width=".5"/>
<path d="M543.1,454.0L523.8,458.1L522.8,464.4L542.0,460.8Z" fill="#dcdcdc" stroke="#dcdcdc" stroke-width=".5"/>
<path d="M523.8,458.1L504.0,462.3L502.8,468.2L522.8,464.4Z" fill="#ffffff" stroke="#ffffff" stroke-width=".5"/>
<path d="M504.0,462.3L501.3,462.9L500.0,468.7L502.8,468.2Z" fill="#d1d1d1" stroke="#d1d1d1" stroke-width=".5"/>
<path d="M501.3,462.9L498.3,463.5L497.2,469.2L500.0,468.7Z" fill="#b6b6b6" stroke="#b6b6b6" stroke-width=".5"/>
<path d="M498.3,463.5L497.9,463.6L496.8,469.3L497.2,469.2Z" fill="#b6b6b6" stroke="#b6b6b6" stroke-width=".5"/>
<path d="M497.9,463.6L495.4,464.1L494.0,469.8L496.8,469.3Z" fill="#7e7e7e" stroke="#7e7e7e" stroke-width=".5"/>
<path d="M574.0,454.8L570.0,455.5L569.0,462.9L573.0,462.2Z" fill="#e4e4e4" stroke="#e4e4e4" stroke-width=".5"/>
<path d="M570.0,455.5L568.4,455.8L567.4,463.1L569.0,462.9Z" fill="#dadada" stroke="#dadada" stroke-width=".5"/>
<path d="M568.4,455.8L542.0,460.8L540.8,467.6L567.4,463.1Z" fill="#d8d8d8" stroke="#d8d8d8" stroke-width=".5"/>
<path d="M542.0,460.8L522.8,464.4L521.6,470.9L540.8,467.6Z" fill="#dcdcdc" stroke="#dcdcdc" stroke-width=".5"/>
<path d="M522.8,464.4L502.8,468.2L501.4,474.3L521.6,470.9Z" fill="#ffffff" stroke="#ffffff" stroke-width=".5"/>
<path d="M502.8,468.2L500.0,468.7L498.5,474.8L501.4,474.3Z" fill="#d7d7d7" stroke="#d7d7d7" stroke-width=".5"/>
<path d="M500.0,468.7L497.2,469.2L495.6,475.2L498.5,474.8Z" fill="#b4b4b4" stroke="#b4b4b4" stroke-width=".5"/>
<path d="M497.2,469.2L496.8,469.3L495.2,475.3L495.6,475.2Z" fill="#b4b4b4" stroke="#b4b4b4" stroke-width=".5"/>
<path d="M496.8,469.3L494.0,469.8L492.4,475.8L495.2,475.3Z" fill="#777777" stroke="#777777" stroke-width=".5"/>
<path d="M573.0,462.2L569.0,462.9L567.7,470.1L571.8,469.5Z" fill="#e4e4e4" stroke="#e4e4e4" stroke-width=".5"/>
<path d="M569.0,462.9L567.4,463.1L566.1,470.3L567.7,470.1Z" fill="#dadada" stroke="#dadada" stroke-width=".5"/>
<path d="M567.4,463.1L540.8,467.6L539.3,474.4L566.1,470.3Z" fill="#d8d8d8" stroke="#d8d8d8" stroke-width=".5"/>
<path d="M540.8,467.6L521.6,470.9L520.2,477.4L539.3,474.4Z" fill="#dcdcdc" stroke="#dcdcdc" stroke-width=".5"/>
<path d="M521.6,470.9L501.4,474.3L499.7,480.5L520.2,477.4Z" fill="#ffffff" stroke="#ffffff" stroke-width=".5"/>
<path d="M501.4,474.3L498.5,474.8L496.7,480.9L499.7,480.5Z" fill="#d6d6d6" stroke="#d6d6d6" stroke-width=".5"/>
<path d="M498.5,474.8L495.6,475.2L493.8,481.4L496.7,480.9Z" fill="#b3b3b3" stroke="#b3b3b3" stroke-width=".5"/>
<path d="M495.6,475.2L495.2,475.3L493.4,481.4L493.8,481.4Z" fill="#b3b3b3" stroke="#b3b3b3" stroke-width=".5"/>
<path d="M495.2,475.3L492.4,475.8L490.5,481.9L493.4,481.4Z" fill="#757575" stroke="#757575" stroke-width=".5"/>
<path d="M571.8,469.5L567.7,470.1L566.2,477.2L570.3,476.7Z" fill="#e4e4e4" stroke="#e4e4e4" stroke-width=".5"/>
<path d="M567.7,470.1L566.1,470.3L564.6,477.5L566.2,477.2Z" fill="#dadada" stroke="#dadada" stroke-width=".5"/>
<path d="M566.1,470.3L539.3,474.4L537.6,481.2L564.6,477.5Z" fill="#d8d8d8" stroke="#d8d8d8" stroke-width=".5"/>
<path d="M539.3,474.4L520.2,477.4L518.5,483.8L537.6,481.2Z" fill="#dcdcdc" stroke="#dcdcdc" stroke-width=".5"/>
<path d="M520.2,477.4L499.7,480.5L497.8,486.7L518.5,483.8Z" fill="#ffffff" stroke="#ffffff" stroke-width=".5"/>
<path d="M499.7,480.5L496.7,480.9L494.8,487.1L497.8,486.7Z" fill="#d6d6d6" stroke="#d6d6d6" stroke-width=".5"/>
<path d="M496.7,480.9L493.8,481.4L491.8,487.5L494.8,487.1Z" fill="#b3b3b3" stroke="#b3b3b3" stroke-width=".5"/>
<path d="M493.8,481.4L493.4,481.4L491.4,487.6L491.8,487.5Z" fill="#b3b3b3" stroke="#b3b3b3" stroke-width=".5"/>
<path d="M493.4,481.4L490.5,481.9L488.5,488.0L491.4,487.6Z" fill="#747474" stroke="#747474" stroke-width=".5"/>
<path d="M570.3,476.7L566.2,477.2L564.3,484.3L568.4,483.8Z" fill="#e4e4e4" stroke="#e4e4e4" stroke-width=".5"/>
<path d="M566.2,477.2L564.6,477.5L562.6,484.5L564.3,484.3Z" fill="#dadada" stroke="#dadada" stroke-width=".5"/>
<path d="M564.6,477.5L537.6,481.2L535.6,487.9L562.6,484.5Z" fill="#d8d8d8" stroke="#d8d8d8" stroke-width=".5"/>
<path d="M537.6,481.2L518.5,483.8L516.7,490.2L535.6,487.9Z" fill="#dcdcdc" stroke="#dcdcdc" stroke-width=".5"/>
<path d="M518.5,483.8L497.8,486.7L495.8,492.8L516.7,490.2Z" fill="#ffffff" stroke="#ffffff" stroke-width=".5"/>
<path d="M497.8,486.7L494.8,487.1L492.7,493.2L495.8,492.8Z" fill="#d6d6d6" stroke="#d6d6d6" stroke-width=".5"/>
<path d="M494.8,487.1L491.8,487.5L489.6,493.6L492.7,493.2Z" fill="#b2b2b2" stroke="#b2b2b2" stroke-width=".5"/>
<path d="M491.8,487.5L491.4,487.6L489.2,493.7L489.6,493.6Z" fill="#b2b2b2" stroke="#b2b2b2" stroke-width=".5"/>
<path d="M491.4,487.6L488.5,488.0L486.4,494.0L489.2,493.7Z" fill="#727272" stroke="#727272" stroke-width=".5"/>
<path d="M568.4,483.8L564.3,484.3L561.9,491.4L565.9,490.9Z" fill="#e4e4e4" stroke="#e4e4e4" stroke-width=".5"/>
<path d="M564.3,484.3L562.6,484.5L560.2,491.6L561.9,491.4Z" fill="#dadada" stroke="#dadada" stroke-width=".5"/>
<path d="M562.6,484.5L535.6,487.9L533.3,494.5L560.2,491.6Z" fill="#d8d8d8" stroke="#d8d8d8" stroke-width=".5"/>
<path d="M535.6,487.9L516.7,490.2L514.6,496.5L533.3,494.5Z" fill="#dcdcdc" stroke="#dcdcdc" stroke-width=".5"/>
<path d="M516.7,490.2L495.8,492.8L493.7,498.8L514.6,496.5Z" fill="#ffffff" stroke="#ffffff" stroke-width=".5"/>
<path d="M495.8,492.8L492.7,493.2L490.6,499.2L493.7,498.8Z" fill="#d5d5d5" stroke="#d5d5d5" stroke-width=".5"/>
<path d="M492.7,493.2L489.6,493.6L487.5,499.5L490.6,499.2Z" fill="#b2b2b2" stroke="#b2b2b2" stroke-width=".5"/>
<path d="M489.6,493.6L489.2,493.7L487.1,499.5L487.5,499.5Z" fill="#b2b2b2" stroke="#b2b2b2" stroke-width=".5"/>
<path d="M489.2,493.7L486.4,494.0L484.2,499.8L487.1,499.5Z" fill="#707070" stroke="#707070" stroke-width=".5"/>
<path d="M565.9,490.9L561.9,491.4L559.1,498.5L563.1,498.1Z" fill="#e4e4e4" stroke="#e4e4e4" stroke-width=".5"/>
<path d="M561.9,491.4L560.2,491.6L557.4,498.6L559.1,498.5Z" fill="#dadada" stroke="#dadada" stroke-width=".5"/>
<path d="M560.2,491.6L533.3,494.5L530.7,501.1L557.4,498.6Z" fill="#d8d8d8" stroke="#d8d8d8" stroke-width=".5"/>
<path d="M533.3,494.5L514.6,496.5L512.4,502.8L530.7,501.1Z" fill="#dcdcdc" stroke="#dcdcdc" stroke-width=".5"/>
<path d="M514.6,496.5L493.7,498.8L491.6,504.7L512.4,502.8Z" fill="#ffffff" stroke="#ffffff" stroke-width=".5"/>
<path d="M493.7,498.8L490.6,499.2L488.4,505.0L491.6,504.7Z" fill="#d5d5d5" stroke="#d5d5d5" stroke-width=".5"/>
<path d="M490.6,499.2L487.5,499.5L485.3,505.3L488.4,505.0Z" fill="#b1b1b1" stroke="#b1b1b1" stroke-width=".5"/>
<path d="M487.5,499.5L487.1,499.5L484.9,505.3L485.3,505.3Z" fill="#b1b1b1" stroke="#b1b1b1" stroke-width=".5"/>
<path d="M487.1,499.5L484.2,499.8L482.0,505.6L484.9,505.3Z" fill="#6e6e6e" stroke="#6e6e6e" stroke-width=".5"/>
<path d="M563.1,498.1L559.1,498.5L556.1,505.7L560.1,505.4Z" fill="#e4e4e4" stroke="#e4e4e4" stroke-width=".5"/>
<path d="M559.1,498.5L557.4,498.6L554.5,505.8L556.1,505.7Z" fill="#dadada" stroke="#dadada" stroke-width=".5"/>
<path d="M557.4,498.6L530.7,501.1L528.0,507.7L554.5,505.8Z" fill="#d8d8d8" stroke="#d8d8d8" stroke-width=".5"/>
<path d="M530.7,501.1L512.4,502.8L510.1,509.1L528.0,507.7Z" fill="#dcdcdc" stroke="#dcdcdc" stroke-width=".5"/>
<path d="M512.4,502.8L491.6,504.7L489.4,510.6L510.1,509.1Z" fill="#ffffff" stroke="#ffffff" stroke-width=".5"/>
<path d="M491.6,504.7L488.4,505.0L486.2,510.8L489.4,510.6Z" fill="#d5d5d5" stroke="#d5d5d5" stroke-width=".5"/>
<path d="M488.4,505.0L485.3,505.3L483.1,511.0L486.2,510.8Z" fill="#b1b1b1" stroke="#b1b1b1" stroke-width=".5"/>
<path d="M485.3,505.3L484.9,505.3L482.7,511.1L483.1,511.0Z" fill="#b1b1b1" stroke="#b1b1b1" stroke-width=".5"/>
<path d="M484.9,505.3L482.0,505.6L479.9,511.3L482.7,511.1Z" fill="#6c6c6c" stroke="#6c6c6c" stroke-width=".5"/>
<path d="M560.1,505.4L556.1,505.7L553.0,512.9L556.9,512.7Z" fill="#e4e4e4" stroke="#e4e4e4" stroke-width=".5"/>
<path d="M556.1,505.7L554.5,505.8L551.4,513.0L553.0,512.9Z" fill="#dadada" stroke="#dadada" stroke-width=".5"/>
<path d="M554.5,505.8L528.0,507.7L525.2,514.5L551.4,513.0Z" fill="#d8d8d8" stroke="#d8d8d8" stroke-width=".5"/>
<path d="M528.0,507.7L510.1,509.1L507.7,515.5L525.2,514.5Z" fill="#dcdcdc" stroke="#dcdcdc" stroke-width=".5"/>
<path d="M510.1,509.1L489.4,510.6L487.2,516.6L507.7,515.5Z" fill="#ffffff" stroke="#ffffff" stroke-width=".5"/>
<path d="M489.4,510.6L486.2,510.8L484.0,516.8L487.2,516.6Z" fill="#d4d4d4" stroke="#d4d4d4" stroke-width=".5"/>
<path d="M486.2,510.8L483.1,511.0L480.8,517.0L484.0,516.8Z" fill="#b0b0b0" stroke="#b0b0b0" stroke-width=".5"/>
<path d="M483.1,511.0L482.7,511.1L480.5,517.0L480.8,517.0Z" fill="#b0b0b0" stroke="#b0b0b0" stroke-width=".5"/>
<path d="M482.7,511.1L479.9,511.3L477.7,517.2L480.5,517.0Z" fill="#6a6a6a" stroke="#6a6a6a" stroke-width=".5"/>
<path d="M556.9,512.7L553.0,512.9L550.0,520.4L553.9,520.2Z" fill="#e4e4e4" stroke="#e4e4e4" stroke-width=".5"/>
<path d="M553.0,512.9L551.4,513.0L548.4,520.4L550.0,520.4Z" fill="#dadada" stroke="#dadada" stroke-width=".5"/>
<path d="M551.4,513.0L525.2,514.5L522.5,521.5L548.4,520.4Z" fill="#d8d8d8" stroke="#d8d8d8" stroke-width=".5"/>
<path d="M525.2,514.5L507.7,515.5L505.3,522.1L522.5,521.5Z" fill="#dcdcdc" stroke="#dcdcdc" stroke-width=".5"/>
<path d="M507.7,515.5L487.2,516.6L484.9,522.9L505.3,522.1Z" fill="#ffffff" stroke="#ffffff" stroke-width=".5"/>
<path d="M487.2,516.6L484.0,516.8L481.7,523.0L484.9,522.9Z" fill="#d4d4d4" stroke="#d4d4d4" stroke-width=".5"/>
<path d="M484.0,516.8L480.8,517.0L478.6,523.2L481.7,523.0Z" fill="#b0b0b0" stroke="#b0b0b0" stroke-width=".5"/>
<path d="M480.8,517.0L480.5,517.0L478.2,523.2L478.6,523.2Z" fill="#b0b0b0" stroke="#b0b0b0" stroke-width=".5"/>
<path d="M480.5,517.0L477.7,517.2L475.4,523.3L478.2,523.2Z" fill="#696969" stroke="#696969" stroke-width=".5"/>
<path d="M553.9,520.2L550.0,520.4L547.2,527.9L551.1,527.8Z" fill="#e4e4e4" stroke="#e4e4e4" stroke-width=".5"/>
<path d="M550.0,520.4L548.4,520.4L545.6,527.9L547.2,527.9Z" fill="#dadada" stroke="#dadada" stroke-width=".5"/>
<path d="M548.4,520.4L522.5,521.5L519.9,528.5L545.6,527.9Z" fill="#d8d8d8" stroke="#d8d8d8" stroke-width=".5"/>
<path d="M522.5,521.5L505.3,522.1L502.8,528.9L519.9,528.5Z" fill="#dcdcdc" stroke="#dcdcdc" stroke-width=".5"/>
<path d="M505.3,522.1L484.9,522.9L482.7,529.4L502.8,528.9Z" fill="#ffffff" stroke="#ffffff" stroke-width=".5"/>
<path d="M484.9,522.9L481.7,523.0L479.4,529.5L482.7,529.4Z" fill="#d4d4d4" stroke="#d4d4d4" stroke-width=".5"/>
<path d="M481.7,523.0L478.6,523.2L476.3,529.6L479.4,529.5Z" fill="#afafaf" stroke="#afafaf" stroke-width=".5"/>
<path d="M478.6,523.2L478.2,523.2L475.9,529.6L476.3,529.6Z" fill="#afafaf" stroke="#afafaf" stroke-width=".5"/>
<path d="M478.2,523.2L475.4,523.3L473.2,529.6L475.9,529.6Z" fill="#696969" stroke="#696969" stroke-width=".5"/>
<path d="M551.1,527.8L547.2,527.9L544.6,535.2L548.4,535.1Z" fill="#e4e4e4" stroke="#e4e4e4" stroke-width=".5"/>
<path d="M547.2,527.9L545.6,527.9L543.0,535.2L544.6,535.2Z" fill="#dadada" stroke="#dadada" stroke-width=".5"/>
<path d="M545.6,527.9L519.9,528.5L517.5,535.5L543.0,535.2Z" fill="#d8d8d8" stroke="#d8d8d8" stroke-width=".5"/>
<path d="M519.9,528.5L502.8,528.9L500.4,535.7L517.5,535.5Z" fill="#dcdcdc" stroke="#dcdcdc" stroke-width=".5"/>
<path d="M502.8,528.9L482.7,529.4L480.5,535.9L500.4,535.7Z" fill="#fefefe" stroke="#fefefe" stroke-width=".5"/>
<path d="M482.7,529.4L479.4,529.5L477.2,536.0L480.5,535.9Z" fill="#d3d3d3" stroke="#d3d3d3" stroke-width=".5"/>
<path d="M479.4,529.5L476.3,529.6L474.1,536.0L477.2,536.0Z" fill="#afafaf" stroke="#afafaf" stroke-width=".5"/>
<path d="M476.3,529.6L475.9,529.6L473.7,536.0L474.1,536.0Z" fill="#afafaf" stroke="#afafaf" stroke-width=".5"/>
<path d="M475.9,529.6L473.2,529.6L471.0,536.0L473.7,536.0Z" fill="#686868" stroke="#686868" stroke-width=".5"/>
<path d="M548.4,535.1L544.6,535.2L542.1,542.1L546.0,542.1Z" fill="#e4e4e4" stroke="#e4e4e4" stroke-width=".5"/>
<path d="M544.6,535.2L543.0,535.2L540.6,542.1L542.1,542.1Z" fill="#dadada" stroke="#dadada" stroke-width=".5"/>
<path d="M543.0,535.2L517.5,535.5L515.2,542.2L540.6,542.1Z" fill="#d8d8d8" stroke="#d8d8d8" stroke-width=".5"/>
<path d="M517.5,535.5L500.4,535.7L498.2,542.2L515.2,542.2Z" fill="#dcdcdc" stroke="#dcdcdc" stroke-width=".5"/>
<path d="M500.4,535.7L480.5,535.9L478.4,542.3L498.2,542.2Z" fill="#fefefe" stroke="#fefefe" stroke-width=".5"/>
<path d="M480.5,535.9L477.2,536.0L475.1,542.3L478.4,542.3Z" fill="#d3d3d3" stroke="#d3d3d3" stroke-width=".5"/>
<path d="M477.2,536.0L474.1,536.0L472.0,542.3L475.1,542.3Z" fill="#aeaeae" stroke="#aeaeae" stroke-width=".5"/>
<path d="M474.1,536.0L473.7,536.0L471.6,542.3L472.0,542.3Z" fill="#aeaeae" stroke="#aeaeae" stroke-width=".5"/>
<path d="M473.7,536.0L471.0,536.0L468.9,542.3L471.6,542.3Z" fill="#686868" stroke="#686868" stroke-width=".5"/>
<path d="M546.0,542.1L542.1,542.1L540.0,548.5L543.8,548.5Z" fill="#e4e4e4" stroke="#e4e4e4" stroke-width=".5"/>
<path d="M542.1,542.1L540.6,542.1L538.4,548.5L540.0,548.5Z" fill="#dadada" stroke="#dadada" stroke-width=".5"/>
<path d="M540.6,542.1L515.2,542.2L513.1,548.4L538.4,548.5Z" fill="#d8d8d8" stroke="#d8d8d8" stroke-width=".5"/>
<path d="M515.2,542.2L498.2,542.2L496.1,548.4L513.1,548.4Z" fill="#dcdcdc" stroke="#dcdcdc" stroke-width=".5"/>
<path d="M498.2,542.2L478.4,542.3L476.4,548.3L496.1,548.4Z" fill="#fefefe" stroke="#fefefe" stroke-width=".5"/>
<path d="M478.4,542.3L475.1,542.3L473.1,548.3L476.4,548.3Z" fill="#d3d3d3" stroke="#d3d3d3" stroke-width=".5"/>
<path d="M475.1,542.3L472.0,542.3L470.0,548.3L473.1,548.3Z" fill="#aeaeae" stroke="#aeaeae" stroke-width=".5"/>
<path d="M472.0,542.3L471.6,542.3L469.6,548.3L470.0,548.3Z" fill="#aeaeae" stroke="#aeaeae" stroke-width=".5"/>
<path d="M471.6,542.3L468.9,542.3L466.9,548.3L469.6,548.3Z" fill="#676767" stroke="#676767" stroke-width=".5"/>
<path d="M543.8,548.5L540.0,548.5L538.0,554.4L541.8,554.4Z" fill="#e4e4e4" stroke="#e4e4e4" stroke-width=".5"/>
<path d="M540.0,548.5L538.4,548.5L536.5,554.4L538.0,554.4Z" fill="#dadada" stroke="#dadada" stroke-width=".5"/>
<path d="M538.4,548.5L513.1,548.4L511.1,554.3L536.5,554.4Z" fill="#d8d8d8" stroke="#d8d8d8" stroke-width=".5"/>
<path d="M513.1,548.4L496.1,548.4L494.2,554.2L511.1,554.3Z" fill="#dcdcdc" stroke="#dcdcdc" stroke-width=".5"/>
<path d="M496.1,548.4L476.4,548.3L474.6,554.1L494.2,554.2Z" fill="#fefefe" stroke="#fefefe" stroke-width=".5"/>
<path d="M476.4,548.3L473.1,548.3L471.2,554.1L474.6,554.1Z" fill="#d2d2d2" stroke="#d2d2d2" stroke-width=".5"/>
<path d="M473.1,548.3L470.0,548.3L468.1,554.1L471.2,554.1Z" fill="#adadad" stroke="#adadad" stroke-width=".5"/>
<path d="M470.0,548.3L469.6,548.3L467.8,554.1L468.1,554.1Z" fill="#adadad" stroke="#adadad" stroke-width=".5"/>
<path d="M469.6,548.3L466.9,548.3L465.1,554.1L467.8,554.1Z" fill="#676767" stroke="#676767" stroke-width=".5"/>
<path d="M541.8,554.4L538.0,554.4L536.1,560.2L540.0,560.2Z" fill="#e4e4e4" stroke="#e4e4e4" stroke-width=".5"/>
<path d="M538.0,554.4L536.5,554.4L534.6,560.1L536.1,560.2Z" fill="#dadada" stroke="#dadada" stroke-width=".5"/>
<path d="M536.5,554.4L511.1,554.3L509.3,560.1L534.6,560.1Z" fill="#d8d8d8" stroke="#d8d8d8" stroke-width=".5"/>
<path d="M511.1,554.3L494.2,554.2L492.5,560.0L509.3,560.1Z" fill="#dcdcdc" stroke="#dcdcdc" stroke-width=".5"/>
<path d="M494.2,554.2L474.6,554.1L473.0,560.0L492.5,560.0Z" fill="#fefefe" stroke="#fefefe" stroke-width=".5"/>
<path d="M474.6,554.1L471.2,554.1L469.5,560.0L473.0,560.0Z" fill="#d2d2d2" stroke="#d2d2d2" stroke-width=".5"/>
<path d="M471.2,554.1L468.1,554.1L466.4,560.0L469.5,560.0Z" fill="#adadad" stroke="#adadad" stroke-width=".5"/>
<path d="M468.1,554.1L467.8,554.1L466.0,560.0L466.4,560.0Z" fill="#adadad" stroke="#adadad" stroke-width=".5"/>
<path d="M467.8,554.1L465.1,554.1L463.4,559.9L466.0,560.0Z" fill="#676767" stroke="#676767" stroke-width=".5"/>
<path d="M540.0,560.2L536.1,560.2L534.3,566.2L538.1,566.2Z" fill="#e4e4e4" stroke="#e4e4e4" stroke-width=".5"/>
<path d="M536.1,560.2L534.6,560.1L532.8,566.2L534.3,566.2Z" fill="#dadada" stroke="#dadada" stroke-width=".5"/>
<path d="M534.6,560.1L509.3,560.1L507.6,566.2L532.8,566.2Z" fill="#d8d8d8" stroke="#d8d8d8" stroke-width=".5"/>
<path d="M509.3,560.1L492.5,560.0L490.8,566.2L507.6,566.2Z" fill="#dcdcdc" stroke="#dcdcdc" stroke-width=".5"/>
<path d="M492.5,560.0L473.0,560.0L471.5,566.1L490.8,566.2Z" fill="#fdfdfd" stroke="#fdfdfd" stroke-width=".5"/>
<path d="M473.0,560.0L469.5,560.0L467.9,566.1L471.5,566.1Z" fill="#d2d2d2" stroke="#d2d2d2" stroke-width=".5"/>
<path d="M469.5,560.0L466.4,560.0L464.9,566.1L467.9,566.1Z" fill="#adadad" stroke="#adadad" stroke-width=".5"/>
<path d="M466.4,560.0L466.0,560.0L464.5,566.1L464.9,566.1Z" fill="#adadad" stroke="#adadad" stroke-width=".5"/>
<path d="M466.0,560.0L463.4,559.9L461.8,566.1L464.5,566.1Z" fill="#666666" stroke="#666666" stroke-width=".5"/>
<path d="M538.1,566.2L534.3,566.2L532.4,572.9L536.2,572.9Z" fill="#e4e4e4" stroke="#e4e4e4" stroke-width=".5"/>
<path d="M534.3,566.2L532.8,566.2L530.9,572.9L532.4,572.9Z" fill="#dadada" stroke="#dadada" stroke-width=".5"/>
<path d="M532.8,566.2L507.6,566.2L505.9,572.9L530.9,572.9Z" fill="#d8d8d8" stroke="#d8d8d8" stroke-width=".5"/>
<path d="M507.6,566.2L490.8,566.2L489.2,572.9L505.9,572.9Z" fill="#dcdcdc" stroke="#dcdcdc" stroke-width=".5"/>
<path d="M490.8,566.2L471.5,566.1L470.1,572.9L489.2,572.9Z" fill="#fdfdfd" stroke="#fdfdfd" stroke-width=".5"/>
<path d="M471.5,566.1L467.9,566.1L466.5,572.9L470.1,572.9Z" fill="#d1d1d1" stroke="#d1d1d1" stroke-width=".5"/>
<path d="M467.9,566.1L464.9,566.1L463.5,572.9L466.5,572.9Z" fill="#acacac" stroke="#acacac" stroke-width=".5"/>
<path d="M464.9,566.1L464.5,566.1L463.1,572.9L463.5,572.9Z" fill="#acacac" stroke="#acacac" stroke-width=".5"/>
<path d="M464.5,566.1L461.8,566.1L460.4,572.9L463.1,572.9Z" fill="#666666" stroke="#666666" stroke-width=".5"/>
<path d="M536.2,572.9L532.4,572.9L530.4,580.2L534.1,580.2Z" fill="#e4e4e4" stroke="#e4e4e4" stroke-width=".5"/>
<path d="M532.4,572.9L530.9,572.9L528.9,580.2L530.4,580.2Z" fill="#dadada" stroke="#dadada" stroke-width=".5"/>
<path d="M530.9,572.9L505.9,572.9L504.2,580.2L528.9,580.2Z" fill="#d8d8d8" stroke="#d8d8d8" stroke-width=".5"/>
<path d="M505.9,572.9L489.2,572.9L487.7,580.2L504.2,580.2Z" fill="#dcdcdc" stroke="#dcdcdc" stroke-width=".5"/>
<path d="M489.2,572.9L470.1,572.9L468.8,580.2L487.7,580.2Z" fill="#fdfdfd" stroke="#fdfdfd" stroke-width=".5"/>
<path d="M470.1,572.9L466.5,572.9L465.2,580.2L468.8,580.2Z" fill="#d1d1d1" stroke="#d1d1d1" stroke-width=".5"/>
<path d="M466.5,572.9L463.5,572.9L462.2,580.2L465.2,580.2Z" fill="#acacac" stroke="#acacac" stroke-width=".5"/>
<path d="M463.5,572.9L463.1,572.9L461.9,580.2L462.2,580.2Z" fill="#acacac" stroke="#acacac" stroke-width=".5"/>
<path d="M463.1,572.9L460.4,572.9L459.2,580.2L461.9,580.2Z" fill="#656565" stroke="#656565" stroke-width=".5"/>
<path d="M534.1,580.2L530.4,580.2L528.4,587.7L532.1,587.7Z" fill="#e4e4e4" stroke="#e4e4e4" stroke-width=".5"/>
<path d="M530.4,580.2L528.9,580.2L526.9,587.7L528.4,587.7Z" fill="#dadada" stroke="#dadada" stroke-width=".5"/>
<path d="M528.9,580.2L504.2,580.2L502.6,587.7L526.9,587.7Z" fill="#d8d8d8" stroke="#d8d8d8" stroke-width=".5"/>
<path d="M504.2,580.2L487.7,580.2L486.3,587.7L502.6,587.7Z" fill="#dcdcdc" stroke="#dcdcdc" stroke-width=".5"/>
<path d="M487.7,580.2L468.8,580.2L467.7,587.8L486.3,587.7Z" fill="#fdfdfd" stroke="#fdfdfd" stroke-width=".5"/>
<path d="M468.8,580.2L465.2,580.2L464.1,587.8L467.7,587.8Z" fill="#d1d1d1" stroke="#d1d1d1" stroke-width=".5"/>
<path d="M465.2,580.2L462.2,580.2L461.2,587.8L464.1,587.8Z" fill="#ababab" stroke="#ababab" stroke-width=".5"/>
<path d="M462.2,580.2L461.9,580.2L460.8,587.8L461.2,587.8Z" fill="#ababab" stroke="#ababab" stroke-width=".5"/>
<path d="M461.9,580.2L459.2,580.2L458.2,587.8L460.8,587.8Z" fill="#656565" stroke="#656565" stroke-width=".5"/>
<path d="M532.1,587.7L528.4,587.7L526.6,595.1L530.2,595.1Z" fill="#e4e4e4" stroke="#e4e4e4" stroke-width=".5"/>
<path d="M528.4,587.7L526.9,587.7L525.1,595.1L526.6,595.1Z" fill="#dadada" stroke="#dadada" stroke-width=".5"/>
<path d="M526.9,587.7L502.6,587.7L501.1,595.1L525.1,595.1Z" fill="#d8d8d8" stroke="#d8d8d8" stroke-width=".5"/>
<path d="M502.6,587.7L486.3,587.7L485.1,595.1L501.1,595.1Z" fill="#dcdcdc" stroke="#dcdcdc" stroke-width=".5"/>
<path d="M486.3,587.7L467.7,587.8L466.8,595.1L485.1,595.1Z" fill="#fcfcfc" stroke="#fcfcfc" stroke-width=".5"/>
<path d="M467.7,587.8L464.1,587.8L463.2,595.1L466.8,595.1Z" fill="#d0d0d0" stroke="#d0d0d0" stroke-width=".5"/>
<path d="M464.1,587.8L461.2,587.8L460.3,595.1L463.2,595.1Z" fill="#ababab" stroke="#ababab" stroke-width=".5"/>
<path d="M461.2,587.8L460.8,587.8L460.0,595.1L460.3,595.1Z" fill="#ababab" stroke="#ababab" stroke-width=".5"/>
<path d="M460.8,587.8L458.2,587.8L457.4,595.1L460.0,595.1Z" fill="#646464" stroke="#646464" stroke-width=".5"/>
<path d="M530.2,595.1L526.6,595.1L525.0,601.8L528.6,601.8Z" fill="#e4e4e4" stroke="#e4e4e4" stroke-width=".5"/>
<path d="M526.6,595.1L525.1,595.1L523.6,601.8L525.0,601.8Z" fill="#dadada" stroke="#dadada" stroke-width=".5"/>
<path d="M525.1,595.1L501.1,595.1L499.9,601.8L523.6,601.8Z" fill="#d8d8d8" stroke="#d8d8d8" stroke-width=".5"/>
<path d="M501.1,595.1L485.1,595.1L484.1,601.8L499.9,601.8Z" fill="#dcdcdc" stroke="#dcdcdc" stroke-width=".5"/>
<path d="M485.1,595.1L466.8,595.1L466.2,601.8L484.1,601.8Z" fill="#fcfcfc" stroke="#fcfcfc" stroke-width=".5"/>
<path d="M466.8,595.1L463.2,595.1L462.6,601.8L466.2,601.8Z" fill="#d0d0d0" stroke="#d0d0d0" stroke-width=".5"/>
<path d="M463.2,595.1L460.3,595.1L459.7,601.8L462.6,601.8Z" fill="#aaaaaa" stroke="#aaaaaa" stroke-width=".5"/>
<path d="M460.3,595.1L460.0,595.1L459.4,601.8L459.7,601.8Z" fill="#aaaaaa" stroke="#aaaaaa" stroke-width=".5"/>
<path d="M460.0,595.1L457.4,595.1L456.9,601.8L459.4,601.8Z" fill="#646464" stroke="#646464" stroke-width=".5"/>
<path d="M528.6,601.8L525.0,601.8L523.7,607.8L527.2,607.8Z" fill="#e4e4e4" stroke="#e4e4e4" stroke-width=".5"/>
<path d="M525.0,601.8L523.6,601.8L522.3,607.8L523.7,607.8Z" fill="#dadada" stroke="#dadada" stroke-width=".5"/>
<path d="M523.6,601.8L499.9,601.8L498.9,607.8L522.3,607.8Z" fill="#d8d8d8" stroke="#d8d8d8" stroke-width=".5"/>
<path d="M499.9,601.8L484.1,601.8L483.4,607.8L498.9,607.8Z" fill="#dcdcdc" stroke="#dcdcdc" stroke-width=".5"/>
<path d="M484.1,601.8L466.2,601.8L465.6,607.8L483.4,607.8Z" fill="#fbfbfb" stroke="#fbfbfb" stroke-width=".5"/>
<path d="M466.2,601.8L462.6,601.8L462.0,607.8L465.6,607.8Z" fill="#cfcfcf" stroke="#cfcfcf" stroke-width=".5"/>
<path d="M462.6,601.8L459.7,601.8L459.3,607.8L462.0,607.8Z" fill="#a9a9a9" stroke="#a9a9a9" stroke-width=".5"/>
<path d="M459.7,601.8L459.4,601.8L459.0,607.8L459.3,607.8Z" fill="#a9a9a9" stroke="#a9a9a9" stroke-width=".5"/>
<path d="M459.4,601.8L456.9,601.8L456.5,607.8L459.0,607.8Z" fill="#646464" stroke="#646464" stroke-width=".5"/>
<path d="M527.2,607.8L523.7,607.8L522.7,613.5L526.2,613.5Z" fill="#e4e4e4" stroke="#e4e4e4" stroke-width=".5"/>
<path d="M523.7,607.8L522.3,607.8L521.3,613.5L522.7,613.5Z" fill="#dadada" stroke="#dadada" stroke-width=".5"/>
<path d="M522.3,607.8L498.9,607.8L498.1,613.5L521.3,613.5Z" fill="#d8d8d8" stroke="#d8d8d8" stroke-width=".5"/>
<path d="M498.9,607.8L483.4,607.8L482.7,613.5L498.1,613.5Z" fill="#dcdcdc" stroke="#dcdcdc" stroke-width=".5"/>
<path d="M483.4,607.8L465.6,607.8L464.9,613.5L482.7,613.5Z" fill="#f9f9f9" stroke="#f9f9f9" stroke-width=".5"/>
<path d="M465.6,607.8L462.0,607.8L461.4,613.5L464.9,613.5Z" fill="#cecece" stroke="#cecece" stroke-width=".5"/>
<path d="M462.0,607.8L459.3,607.8L458.8,613.5L461.4,613.5Z" fill="#a8a8a8" stroke="#a8a8a8" stroke-width=".5"/>
<path d="M459.3,607.8L459.0,607.8L458.5,613.5L458.8,613.5Z" fill="#a8a8a8" stroke="#a8a8a8" stroke-width=".5"/>
<path d="M459.0,607.8L456.5,607.8L456.0,613.5L458.5,613.5Z" fill="#646464" stroke="#646464" stroke-width=".5"/>
<path d="M526.2,613.5L522.7,613.5L521.9,619.4L525.4,619.4Z" fill="#e4e4e4" stroke="#e4e4e4" stroke-width=".5"/>
<path d="M522.7,613.5L521.3,613.5L520.5,619.4L521.9,619.4Z" fill="#dadada" stroke="#dadada" stroke-width=".5"/>
<path d="M521.3,613.5L498.1,613.5L497.3,619.4L520.5,619.4Z" fill="#d8d8d8" stroke="#d8d8d8" stroke-width=".5"/>
<path d="M498.1,613.5L482.7,613.5L481.9,619.4L497.3,619.4Z" fill="#dcdcdc" stroke="#dcdcdc" stroke-width=".5"/>
<path d="M482.7,613.5L464.9,613.5L464.0,619.4L481.9,619.4Z" fill="#f8f8f8" stroke="#f8f8f8" stroke-width=".5"/>
<path d="M464.9,613.5L461.4,613.5L460.5,619.4L464.0,619.4Z" fill="#cdcdcd" stroke="#cdcdcd" stroke-width=".5"/>
<path d="M461.4,613.5L458.8,613.5L458.0,619.4L460.5,619.4Z" fill="#a7a7a7" stroke="#a7a7a7" stroke-width=".5"/>
<path d="M458.8,613.5L458.5,613.5L457.7,619.4L458.0,619.4Z" fill="#a7a7a7" stroke="#a7a7a7" stroke-width=".5"/>
<path d="M458.5,613.5L456.0,613.5L455.2,619.4L457.7,619.4Z" fill="#646464" stroke="#646464" stroke-width=".5"/>
<path d="M525.4,619.4L521.9,619.4L521.4,626.0L525.0,626.0Z" fill="#e4e4e4" stroke="#e4e4e4" stroke-width=".5"/>
<path d="M521.9,619.4L520.5,619.4L520.0,626.0L521.4,626.0Z" fill="#dadada" stroke="#dadada" stroke-width=".5"/>
<path d="M520.5,619.4L497.3,619.4L496.5,626.0L520.0,626.0Z" fill="#d8d8d8" stroke="#d8d8d8" stroke-width=".5"/>
<path d="M497.3,619.4L481.9,619.4L480.8,626.0L496.5,626.0Z" fill="#dcdcdc" stroke="#dcdcdc" stroke-width=".5"/>
<path d="M481.9,619.4L464.0,619.4L462.6,626.0L480.8,626.0Z" fill="#f7f7f7" stroke="#f7f7f7" stroke-width=".5"/>
<path d="M464.0,619.4L460.5,619.4L459.1,626.0L462.6,626.0Z" fill="#cccccc" stroke="#cccccc" stroke-width=".5"/>
<path d="M460.5,619.4L458.0,619.4L456.6,626.0L459.1,626.0Z" fill="#a5a5a5" stroke="#a5a5a5" stroke-width=".5"/>
<path d="M458.0,619.4L457.7,619.4L456.2,626.0L456.6,626.0Z" fill="#a5a5a5" stroke="#a5a5a5" stroke-width=".5"/>
<path d="M457.7,619.4L455.2,619.4L453.8,626.0L456.2,626.0Z" fill="#646464" stroke="#646464" stroke-width=".5"/>
<path d="M525.0,626.0L521.4,626.0L521.1,633.5L524.7,633.5Z" fill="#e4e4e4" stroke="#e4e4e4" stroke-width=".5"/>
<path d="M521.4,626.0L520.0,626.0L519.6,633.5L521.1,633.5Z" fill="#dadada" stroke="#dadada" stroke-width=".5"/>
<path d="M520.0,626.0L496.5,626.0L495.5,633.5L519.6,633.5Z" fill="#d8d8d8" stroke="#d8d8d8" stroke-width=".5"/>
<path d="M496.5,626.0L480.8,626.0L479.4,633.5L495.5,633.5Z" fill="#dcdcdc" stroke="#dcdcdc" stroke-width=".5"/>
<path d="M480.8,626.0L462.6,626.0L460.6,633.5L479.4,633.5Z" fill="#f5f5f5" stroke="#f5f5f5" stroke-width=".5"/>
<path d="M462.6,626.0L459.1,626.0L456.9,633.5L460.6,633.5Z" fill="#cbcbcb" stroke="#cbcbcb" stroke-width=".5"/>
<path d="M459.1,626.0L456.6,626.0L454.5,633.5L456.9,633.5Z" fill="#a4a4a4" stroke="#a4a4a4" stroke-width=".5"/>
<path d="M456.6,626.0L456.2,626.0L454.1,633.5L454.5,633.5Z" fill="#a4a4a4" stroke="#a4a4a4" stroke-width=".5"/>
<path d="M456.2,626.0L453.8,626.0L451.5,633.5L454.1,633.5Z" fill="#646464" stroke="#646464" stroke-width=".5"/>
<path d="M524.7,633.5L521.1,633.5L520.9,641.9L524.7,641.9Z" fill="#e4e4e4" stroke="#e4e4e4" stroke-width=".5"/>
<path d="M521.1,633.5L519.6,633.5L519.4,641.9L520.9,641.9Z" fill="#dadada" stroke="#dadada" stroke-width=".5"/>
<path d="M519.6,633.5L495.5,633.5L494.3,641.9L519.4,641.9Z" fill="#d8d8d8" stroke="#d8d8d8" stroke-width=".5"/>
<path d="M495.5,633.5L479.4,633.5L477.6,641.9L494.3,641.9Z" fill="#dcdcdc" stroke="#dcdcdc" stroke-width=".5"/>
<path d="M479.4,633.5L460.6,633.5L458.0,641.9L477.6,641.9Z" fill="#f4f4f4" stroke="#f4f4f4" stroke-width=".5"/>
<path d="M460.6,633.5L456.9,633.5L454.2,641.9L458.0,641.9Z" fill="#cacaca" stroke="#cacaca" stroke-width=".5"/>
<path d="M456.9,633.5L454.5,633.5L451.7,641.9L454.2,641.9Z" fill="#a3a3a3" stroke="#a3a3a3" stroke-width=".5"/>
<path d="M454.5,633.5L454.1,633.5L451.4,641.9L451.7,641.9Z" fill="#a3a3a3" stroke="#a3a3a3" stroke-width=".5"/>
<path d="M454.1,633.5L451.5,633.5L448.7,641.9L451.4,641.9Z" fill="#646464" stroke="#646464" stroke-width=".5"/>
<path d="M524.7,641.9L520.9,641.9L520.9,650.8L524.8,650.8Z" fill="#e4e4e4" stroke="#e4e4e4" stroke-width=".5"/>
<path d="M520.9,641.9L519.4,641.9L519.3,650.8L520.9,650.8Z" fill="#dadada" stroke="#dadada" stroke-width=".5"/>
<path d="M519.4,641.9L494.3,641.9L493.1,650.8L519.3,650.8Z" fill="#d8d8d8" stroke="#d8d8d8" stroke-width=".5"/>
<path d="M494.3,641.9L477.6,641.9L475.6,650.8L493.1,650.8Z" fill="#dcdcdc" stroke="#dcdcdc" stroke-width=".5"/>
<path d="M477.6,641.9L458.0,641.9L455.1,650.8L475.6,650.8Z" fill="#f2f2f2" stroke="#f2f2f2" stroke-width=".5"/>
<path d="M458.0,641.9L454.2,641.9L451.1,650.8L455.1,650.8Z" fill="#c9c9c9" stroke="#c9c9c9" stroke-width=".5"/>
<path d="M454.2,641.9L451.7,641.9L448.6,650.8L451.1,650.8Z" fill="#a2a2a2" stroke="#a2a2a2" stroke-width=".5"/>
<path d="M451.7,641.9L451.4,641.9L448.2,650.8L448.6,650.8Z" fill="#a2a2a2" stroke="#a2a2a2" stroke-width=".5"/>
<path d="M451.4,641.9L448.7,641.9L445.5,650.8L448.2,650.8Z" fill="#646464" stroke="#646464" stroke-width=".5"/>
<path d="M524.8,650.8L520.9,650.8L520.9,660.0L525.0,660.0Z" fill="#e4e4e4" stroke="#e4e4e4" stroke-width=".5"/>
<path d="M520.9,650.8L519.3,650.8L519.2,660.0L520.9,660.0Z" fill="#dadada" stroke="#dadada" stroke-width=".5"/>
<path d="M519.3,650.8L493.1,650.8L491.8,660.0L519.2,660.0Z" fill="#d8d8d8" stroke="#d8d8d8" stroke-width=".5"/>
<path d="M493.1,650.8L475.6,650.8L473.5,660.0L491.8,660.0Z" fill="#dcdcdc" stroke="#dcdcdc" stroke-width=".5"/>
<path d="M475.6,650.8L455.1,650.8L452.0,660.0L473.5,660.0Z" fill="#f1f1f1" stroke="#f1f1f1" stroke-width=".5"/>
<path d="M455.1,650.8L451.1,650.8L447.8,660.0L452.0,660.0Z" fill="#c8c8c8" stroke="#c8c8c8" stroke-width=".5"/>
<path d="M451.1,650.8L448.6,650.8L445.3,660.0L447.8,660.0Z" fill="#a1a1a1" stroke="#a1a1a1" stroke-width=".5"/>
<path d="M448.6,650.8L448.2,650.8L444.9,660.0L445.3,660.0Z" fill="#a1a1a1" stroke="#a1a1a1" stroke-width=".5"/>
<path d="M448.2,650.8L445.5,650.8L442.0,660.0L444.9,660.0Z" fill="#646464" stroke="#646464" stroke-width=".5"/></g>
<g id="engr" filter="url(#b1)" opacity=".88"><path transform="translate(198.0,373.0) rotate(-70.1) scale(0.920,1.000) translate(-10.0,-15)" d="M0,0 L5,30 L10,7 L15,30 L20,0" fill="none" stroke="#2c2c2c" stroke-width="3.10" stroke-linecap="round" stroke-linejoin="round"/>
<path transform="translate(209.5,348.5) rotate(-62.7) scale(0.920,1.000) translate(-7.5,-15)" d="M1,0 L1,30 L15,30" fill="none" stroke="#2c2c2c" stroke-width="3.10" stroke-linecap="round" stroke-linejoin="round"/>
<path transform="translate(220.0,327.0) rotate(-55.6) scale(0.920,1.000) translate(-7.5,-15)" d="M1,0 L1,30 L15,30" fill="none" stroke="#2c2c2c" stroke-width="3.10" stroke-linecap="round" stroke-linejoin="round"/>
<path transform="translate(236.0,301.0) rotate(-47.8) scale(0.920,1.000) translate(-9.0,-15)" d="M9,0 C2,0 1,8 1,15 C1,22 2,30 9,30 C16,30 17,22 17,15 C17,8 16,0 9,0 Z" fill="none" stroke="#2c2c2c" stroke-width="3.10" stroke-linecap="round" stroke-linejoin="round"/>
<path transform="translate(258.0,283.0) rotate(-36.9) scale(0.920,1.000) translate(-9.0,-15)" d="M9,0 C2,0 1,8 1,15 C1,22 2,30 9,30 C16,30 17,22 17,15 C17,8 16,0 9,0 Z" fill="none" stroke="#2c2c2c" stroke-width="3.10" stroke-linecap="round" stroke-linejoin="round"/>
<path transform="translate(277.5,272.5) rotate(-28.0) scale(0.920,1.000) translate(-9.0,-15)" d="M9,0 C2,0 1,8 1,15 C1,22 2,30 9,30 C16,30 17,22 17,15 C17,8 16,0 9,0 Z" fill="none" stroke="#2c2c2c" stroke-width="3.10" stroke-linecap="round" stroke-linejoin="round"/>
<path transform="translate(298.0,265.0) rotate(-22.2) scale(0.920,1.000) translate(-8.5,-15)" d="M1,0 L1,30 M16,0 L1,19 M6.5,13 L17,30" fill="none" stroke="#2c2c2c" stroke-width="3.10" stroke-linecap="round" stroke-linejoin="round"/>
<path transform="translate(320.0,261.0) rotate(-16.0) scale(0.920,1.000) translate(-9.0,-15)" d="M17,6 C14,-1 2,-2 1,11 L1,19 C2,32 14,31 17,24 L17,16 L9,16" fill="none" stroke="#2c2c2c" stroke-width="3.10" stroke-linecap="round" stroke-linejoin="round"/><path transform="translate(474.0,286.5) rotate(35.0) scale(0.933,0.933) translate(-9.0,-15)" d="M17,5 C12,-2 1,0 1,15 C1,30 12,32 17,25" fill="none" stroke="#262626" stroke-width="3.21" stroke-linecap="round" stroke-linejoin="round"/>
<path transform="translate(493.0,311.0) rotate(48.3) scale(0.933,0.933) translate(-9.0,-15)" d="M17,5 C12,-2 1,0 1,15 C1,30 12,32 17,25 M2,15 L12,15" fill="none" stroke="#262626" stroke-width="3.21" stroke-linecap="round" stroke-linejoin="round"/>
<path transform="translate(507.5,321.5) rotate(53.9) scale(0.933,0.933) translate(-8.0,-15)" d="M3,15 L13,15" fill="none" stroke="#262626" stroke-width="3.21" stroke-linecap="round" stroke-linejoin="round"/>
<path transform="translate(519.0,352.5) rotate(66.1) scale(0.933,0.933) translate(-10.0,-15)" d="M0,0 L5,30 L10,7 L15,30 L20,0" fill="none" stroke="#262626" stroke-width="3.21" stroke-linecap="round" stroke-linejoin="round"/>
<path transform="translate(527.0,378.5) rotate(74.0) scale(0.933,0.933) translate(-8.0,-15)" d="M3,15 L13,15" fill="none" stroke="#262626" stroke-width="3.21" stroke-linecap="round" stroke-linejoin="round"/></g>
<g id="leye"><defs><linearGradient id="leDark" x1="0" y1="0" x2="1" y2="0"><stop offset="0" stop-color="#a2a2a2"/><stop offset="0.4" stop-color="#808080"/><stop offset="0.7" stop-color="#4c4c4c"/><stop offset="1" stop-color="#2a2a2a"/></linearGradient><linearGradient id="leRef" x1="0" y1="0" x2="1" y2="0.15"><stop offset="0" stop-color="#727272"/><stop offset="0.4" stop-color="#969696"/><stop offset="0.75" stop-color="#b8b8b8"/><stop offset="1" stop-color="#c8c8c8"/></linearGradient><linearGradient id="leRef2" x1="0" y1="0" x2="0" y2="1"><stop offset="0" stop-color="#000" stop-opacity="0"/><stop offset="0.6" stop-color="#000" stop-opacity="0"/><stop offset="1" stop-color="#fff" stop-opacity=".35"/></linearGradient><radialGradient id="leBulb" cx="0.5" cy="0.3" r="0.75"><stop offset="0" stop-color="#cfcfcf"/><stop offset="0.6" stop-color="#c4c4c4"/><stop offset="1" stop-color="#dadada"/></radialGradient></defs>
<g filter="url(#b1)">
<path d="M199,664 C197,672 196.5,680 196.5,690 L196.5,742 C197,760 202,773 212,781 C222,787 232,788.5 240,788 C252,787 262,783 267.5,775 C270,768 271,760 271,750 L271,668 L277,658 Z" fill="#d0d0d0"/>
<path d="M200,748 C200,764 205,775 214,781.5 C222,787 232,788.5 240,788 C252,787 262,783 267.5,775 C270,768 271,760 271,748 Z" fill="url(#leBulb)"/>
<path d="M207,750 C208,762 214,772 224,778" fill="none" stroke="#adadad" stroke-width="1.5"/>
<path d="M238,750 C246,754 248,760 244,766" fill="none" stroke="#b8b8b8" stroke-width="1.2"/>
<path d="M197.5,668 L206,670 C211,673 217,680 222.5,688.7 C224,696 222,702 221.4,707.5 C221,713 221,718 220.4,722 C216,726 212,730 210,732.7 C205,740 203,745 201.5,749.5 L197.5,749.5 Z" fill="#fcfcfc"/>
<path d="M222.5,688.7 C224,696 222,702 221.4,707.5 C221,713 221,718 220.4,722 C216,726 212,730 210,732.7 C206,740 204,745 203,749.5 L258,749.5 L258,672 L233,688 Z" fill="#cecece"/>
<path d="M213,727 C216,720 223,720 222,726" fill="none" stroke="#8e8e8e" stroke-width="1.6"/>
<path d="M262,671 C254,690 252.5,722 262,748.5 L271,748.5 L271,668 Z" fill="url(#leDark)"/>
</g>
<g filter="url(#b3)">
<path d="M228.8,602.6 C224,607 220,612 218,617 C215,622 213,626 212,630 L215.5,642.5 C210,647 205,651 201.5,655 L199.4,661.5 C204,665 208,669 212,674 C215,678 219,682 222.5,685 C226,688 230,689 233,688.7 C242,687 249,683 254,678 C256,670 256.5,661 256,653 C257,645 258,636 258,628 C257,619 256,610 254,602.6 Z" fill="url(#leRef)"/>
<path d="M228.8,602.6 C224,607 220,612 218,617 C215,622 213,626 212,630 L215.5,642.5 C210,647 205,651 201.5,655 L199.4,661.5 C204,665 208,669 212,674 C215,678 219,682 222.5,685 C226,688 230,689 233,688.7 C242,687 249,683 254,678 C256,670 256.5,661 256,653 C257,645 258,636 258,628 C257,619 256,610 254,602.6 Z" fill="url(#leRef2)"/>
<path d="M212,630 L215.5,642.5 C210,647 205,651 201.5,655 L199.4,661.5 C204,665 208,669 212,674" fill="none" stroke="#3c3c3c" stroke-width="2" opacity=".75"/>
<path d="M218,617 C226,640 228,655 226,668" fill="none" stroke="#5c5c5c" stroke-width="5" opacity=".35"/>
<circle cx="231.5" cy="634" r="2.4" fill="#dedede"/>
<path d="M254,602 C257,620 258,645 255.5,676" fill="none" stroke="#5e5e5e" stroke-width="1.5"/>
<path d="M246,618 C249,624 252,630 253,640" fill="none" stroke="#777" stroke-width="1.3"/>
</g></g>
<g id="reye"><defs><linearGradient id="reRef" x1="0" y1="0" x2="1" y2="0.1"><stop offset="0" stop-color="#4a4a4a"/><stop offset="0.35" stop-color="#7c7c7c"/><stop offset="0.7" stop-color="#acacac"/><stop offset="1" stop-color="#cacaca"/></linearGradient><linearGradient id="reRefU" x1="0" y1="0" x2="1" y2="0.1"><stop offset="0" stop-color="#8c8c8c"/><stop offset="0.5" stop-color="#b2b2b2"/><stop offset="1" stop-color="#d0d0d0"/></linearGradient><linearGradient id="reBody" x1="0" y1="0" x2="1" y2="0"><stop offset="0" stop-color="#e4e4e4"/><stop offset="0.45" stop-color="#d0d0d0"/><stop offset="0.75" stop-color="#d6d6d6"/><stop offset="1" stop-color="#e2e2e2"/></linearGradient><linearGradient id="reBulb" x1="0" y1="0" x2="0" y2="1"><stop offset="0" stop-color="#d4d4d4"/><stop offset="0.6" stop-color="#e2e2e2"/><stop offset="1" stop-color="#d2d2d2"/></linearGradient></defs>
<g filter="url(#b1)">
<path d="M448,656 C442,668 438.5,684 438,700 C437.5,716 439,732 443,745 C446,756 450,764 455,769 C460,774 466,777.5 472,778.5 L503,779 C514,778.5 522,774 526,764 C528.5,748 528.5,700 527,676 C526.5,664 525.5,654 524,646 Z" fill="url(#reBody)"/>
<path d="M441,676 C446,672 452,674 458,679 C464,684 470,688 474.6,689 C472,700 470,710 470,720 C466,724 460,730 456,738 C452,744 450,750 449,756 C444,744 439.5,730 439,714 C438.5,700 439,688 441,676 Z" fill="#fdfdfd"/>
<path d="M447,659 C441,672 438.5,686 438.3,700 C438,716 439.5,732 443.5,745 C446,753 449,760 452.5,764" fill="none" stroke="#5a5a5a" stroke-width="1.8"/>
<path d="M444,676 C441,690 441,716 445,738" fill="none" stroke="#c9c9c9" stroke-width="2"/>
<path d="M451,760 C453,750 458,740 466,731 C476,727 492,730 503,740 L503,779 L472,778.5 C462,776 455,770 451,760 Z" fill="url(#reBulb)"/>
<path d="M451.5,757 C455,746 460,736 468,727" fill="none" stroke="#7a7a7a" stroke-width="1.7"/>
<path d="M462,727.5 C466,724 470,721 473,719.5 C473,723 471,727 468,729.5 Z" fill="#5c5c5c"/>
<path d="M474.6,689 C482,684 494,672 500,660 L504,660 L504,742 C494,733 478,729 468,731 C472,720 473,700 474.6,689 Z" fill="#d2d2d2"/>
<ellipse cx="514.8" cy="706" rx="11.6" ry="67" fill="#e2e2e2" stroke="#4e4e4e" stroke-width="1.9"/>
<path d="M520,640 C527,660 528,750 520,772" fill="none" stroke="#e6e6e6" stroke-width="2.6"/>
<ellipse cx="516.2" cy="707" rx="8" ry="57" fill="#ededed" stroke="#a8a8a8" stroke-width="1.2"/>
<path d="M514.5,692 L519.5,690.5 L520.5,699 L518,705 L520.8,713 L518.5,724 L514.5,721 L516,712 L513.4,705 Z" fill="#161616"/>
</g>
<g filter="url(#b3)">
<path d="M483,603 C476,608 470,615 466,621.5 C464,627 462.5,633 462,638 L468,645 C474,650 486,654 497.7,659 C501,653 502.5,648 502,642.5 C501.5,635 500,628 497.7,621.5 C494,614 489,607 483,603 Z" fill="url(#reRefU)"/>
<path d="M468,645 C460,648 453,653 449,659 C450,664 452,669 453.6,674 C458,680 466,686 474.6,688.7 C481,686 486,682 489,678 C493,672 496,665 497.7,659 C486,654 474,650 468,645 Z" fill="url(#reRef)"/>
<path d="M466,621.5 C464,627 462.5,633 462,638 L468,645 C460,648 453,653 449,659 C450,664 452,669 453.6,674" fill="none" stroke="#333" stroke-width="2" opacity=".75"/>
<path d="M497.7,621.5 C500,628 501.5,635 502,642.5 C502.5,648 501,653 497.7,659 C496,665 493,672 489,678" fill="none" stroke="#ececec" stroke-width="2.2"/>
</g></g>
<g id="side">
<line x1="698" y1="421.6" x2="793.5" y2="421.6" stroke="#b9b9b9" stroke-width="2.8"/>
<path d="M678.8,659.4 A81.8,81.8 0 1 0 812.8,659.4" fill="none" stroke="#e9e9e9" stroke-width="7"/>
<circle cx="746.7" cy="706.5" r="77.6" fill="none" stroke="#c2c2c2" stroke-width="2.8"/>
<path d="M703.5,580 C707,600 703,625 684.2,645.2 A86,86 0 1 0 805.8,645.2 C788,625 784,600 787.5,580" fill="none" stroke="#b9b9b9" stroke-width="2.8"/>
<path d="M703.5,580 C716,588 734,604 745.5,628 C757,604 775,588 787.5,580" fill="none" stroke="#b9b9b9" stroke-width="2.6" stroke-linejoin="round"/>
<path d="M698.0,580 L698.0,280 A47.6,47.6 0 0 1 793.3,280 L793.3,580" fill="none" stroke="#000" stroke-width="5.2"/>
<path d="M698.0,580.0 C697.7,583.3 697.3,594.7 696.4,600.0 C695.5,605.3 694.4,608.0 692.8,612.0 C691.2,616.0 689.6,619.6 686.8,624.0 C684.0,628.4 679.8,633.4 676.0,638.4 C672.2,643.4 667.4,648.4 664.0,654.0 C660.6,659.6 657.8,666.0 655.8,672.0 C653.8,678.0 652.9,684.2 652.0,690.0 C651.1,695.8 650.8,704.2 650.6,707.0 A94.2,94.2 0 0 0 839,707  C838.8,704.2 838.6,695.8 837.8,690.0 C837.0,684.2 836.3,678.0 834.4,672.0 C832.5,666.0 829.7,659.6 826.4,654.0 C823.1,648.4 818.0,643.4 814.4,638.4 C810.8,633.4 807.4,628.4 804.8,624.0 C802.2,619.6 800.4,616.0 798.8,612.0 C797.2,608.0 796.1,605.3 795.2,600.0 C794.3,594.7 793.6,583.3 793.3,580.0" fill="none" stroke="#000" stroke-width="5.2" stroke-linejoin="round"/>
<circle cx="746.7" cy="706.3" r="70.8" fill="none" stroke="#000" stroke-width="5.8"/>
<polygon points="773.2,706.6 759.5,730.3 732.1,730.3 718.4,706.6 732.1,682.9 759.5,682.9" fill="none" stroke="#000" stroke-width="4.4" stroke-linejoin="miter"/>
</g>
<g id="dims">
<line x1="161.5" y1="106" x2="161.5" y2="420.5" stroke="#000" stroke-width="2.3"/>
<line x1="579.7" y1="104" x2="579.7" y2="419" stroke="#000" stroke-width="2.3"/>
<line x1="185" y1="106.5" x2="555" y2="106.5" stroke="#000" stroke-width="2.6"/>
<path d="M164.5,106.5 L196.5,118.0 L190.5,106.5 L196.5,95.0 Z" fill="#000"/>
<path d="M578.0,106.5 L546.0,95.0 L552.0,106.5 L546.0,118.0 Z" fill="#000"/>
<line x1="243.8" y1="186" x2="243.8" y2="422.5" stroke="#000" stroke-width="2.3"/>
<line x1="494.5" y1="186" x2="494.5" y2="422" stroke="#000" stroke-width="2.3"/>
<line x1="265" y1="185" x2="470" y2="185" stroke="#000" stroke-width="2.6"/>
<path d="M245.5,185.0 L277.5,196.5 L271.5,185.0 L277.5,173.5 Z" fill="#000"/>
<path d="M490.0,185.0 L458.0,173.5 L464.0,185.0 L458.0,196.5 Z" fill="#000"/>
<line x1="121.5" y1="224" x2="381" y2="224" stroke="#000" stroke-width="2.5"/>
<line x1="122.5" y1="791" x2="227.5" y2="791" stroke="#000" stroke-width="2.4"/>
<line x1="125.7" y1="250" x2="125.7" y2="770" stroke="#000" stroke-width="2.6"/>
<path d="M125.7,225.5 L113.7,258.0 L125.7,252.0 L137.7,258.0 Z" fill="#000"/>
<path d="M125.7,791.0 L137.7,761.0 L125.7,767.0 L113.7,761.0 Z" fill="#000"/>
<line x1="369.5" y1="320" x2="369.5" y2="645" stroke="#000" stroke-width="2.5"/>
<path d="M369.5,299.0 L357.5,331.0 L369.5,325.0 L381.5,331.0 Z" fill="#000"/>
<path d="M369.5,666.0 L381.5,634.0 L369.5,640.0 L357.5,634.0 Z" fill="#000"/>
<line x1="52" y1="668.8" x2="310.5" y2="668.8" stroke="#000" stroke-width="2.4"/>
<line x1="52" y1="749.3" x2="310.5" y2="749.3" stroke="#000" stroke-width="2.4"/>
<line x1="55.5" y1="690" x2="55.5" y2="730" stroke="#000" stroke-width="2.2"/>
<path d="M55.5,673.5 L43.5,703.5 L55.5,697.5 L67.5,703.5 Z" fill="#000"/>
<path d="M55.5,745.2 L67.5,715.2 L55.5,721.2 L43.5,715.2 Z" fill="#000"/>
<line x1="271.3" y1="668" x2="271.3" y2="787" stroke="#000" stroke-width="2.6"/>
<line x1="433.8" y1="666" x2="433.8" y2="787" stroke="#000" stroke-width="2.4"/>
<line x1="290" y1="786" x2="415" y2="786" stroke="#000" stroke-width="2.6"/>
<path d="M272.5,786.0 L302.5,797.5 L296.5,786.0 L302.5,774.5 Z" fill="#000"/>
<path d="M431.5,786.0 L401.5,774.5 L407.5,786.0 L401.5,797.5 Z" fill="#000"/>
<line x1="433" y1="786" x2="531" y2="786" stroke="#000" stroke-width="2.4"/>
<line x1="545" y1="786" x2="577.5" y2="786" stroke="#000" stroke-width="2.4"/>
<path d="M531.0,786.0 L556.0,797.5 L550.0,786.0 L556.0,774.5 Z" fill="#000"/>
<line x1="195.4" y1="665" x2="195.4" y2="867.2" stroke="#000" stroke-width="2.4"/>
<line x1="530.5" y1="650" x2="530.5" y2="867.2" stroke="#000" stroke-width="2.4"/>
<line x1="215" y1="866" x2="510" y2="866" stroke="#000" stroke-width="2.6"/>
<path d="M196.3,866.0 L228.8,877.5 L222.8,866.0 L228.8,854.5 Z" fill="#000"/>
<path d="M529.7,866.0 L497.2,854.5 L503.2,866.0 L497.2,877.5 Z" fill="#000"/>
<line x1="622" y1="323.2" x2="680" y2="323.2" stroke="#000" stroke-width="2.2"/>
<path d="M696.0,323.2 L670.0,312.2 L677.0,323.2 L670.0,334.2 Z" fill="#000"/>
<line x1="812" y1="323.2" x2="871" y2="323.2" stroke="#000" stroke-width="2.2"/>
<path d="M796.5,323.2 L822.5,334.2 L815.5,323.2 L822.5,312.2 Z" fill="#000"/>
<line x1="644.6" y1="685" x2="644.6" y2="814" stroke="#000" stroke-width="1.8"/>
<line x1="846.5" y1="685" x2="846.5" y2="814" stroke="#000" stroke-width="1.8"/>
<line x1="665" y1="819.2" x2="828" y2="819.2" stroke="#000" stroke-width="2.4"/>
<path d="M646.5,819.2 L678.5,830.7 L672.5,819.2 L678.5,807.7 Z" fill="#000"/>
<path d="M846.5,819.2 L814.5,807.7 L820.5,819.2 L814.5,830.7 Z" fill="#000"/>
</g>
<g id="labels" font-weight="bold" font-style="italic" fill="#000" stroke="#000" stroke-width="1.4" stroke-linejoin="round" opacity="0.999">
<text transform="translate(354.13,93.00) scale(0.4373,0.4667)" font-size="100">M</text>
<text transform="translate(354.19,166.66) scale(0.4069,0.4618)" font-size="100">H</text>
<text transform="translate(62.99,494.50) scale(0.3811,0.4638)" font-size="100">F</text>
<text transform="translate(316.71,516.47) scale(0.4091,0.4676)" font-size="100">A</text>
<text transform="translate(0.77,715.84) scale(0.3456,0.4620)" font-size="100">C</text>
<text transform="translate(352.26,834.50) scale(0.3712,0.4348)" font-size="100">B</text>
<text transform="translate(461.80,828.00) scale(0.3507,0.4493)" font-size="100">E</text>
<text transform="translate(387.93,912.26) scale(0.4130,0.4423)" font-size="100">G</text>
<text transform="translate(731.49,869.00) scale(0.4060,0.3913)" font-size="100">D</text>
<text transform="translate(889.72,333.10) scale(0.3884,0.3986)" font-size="100">Dia D</text>
</g>
</svg>
</body></html>
